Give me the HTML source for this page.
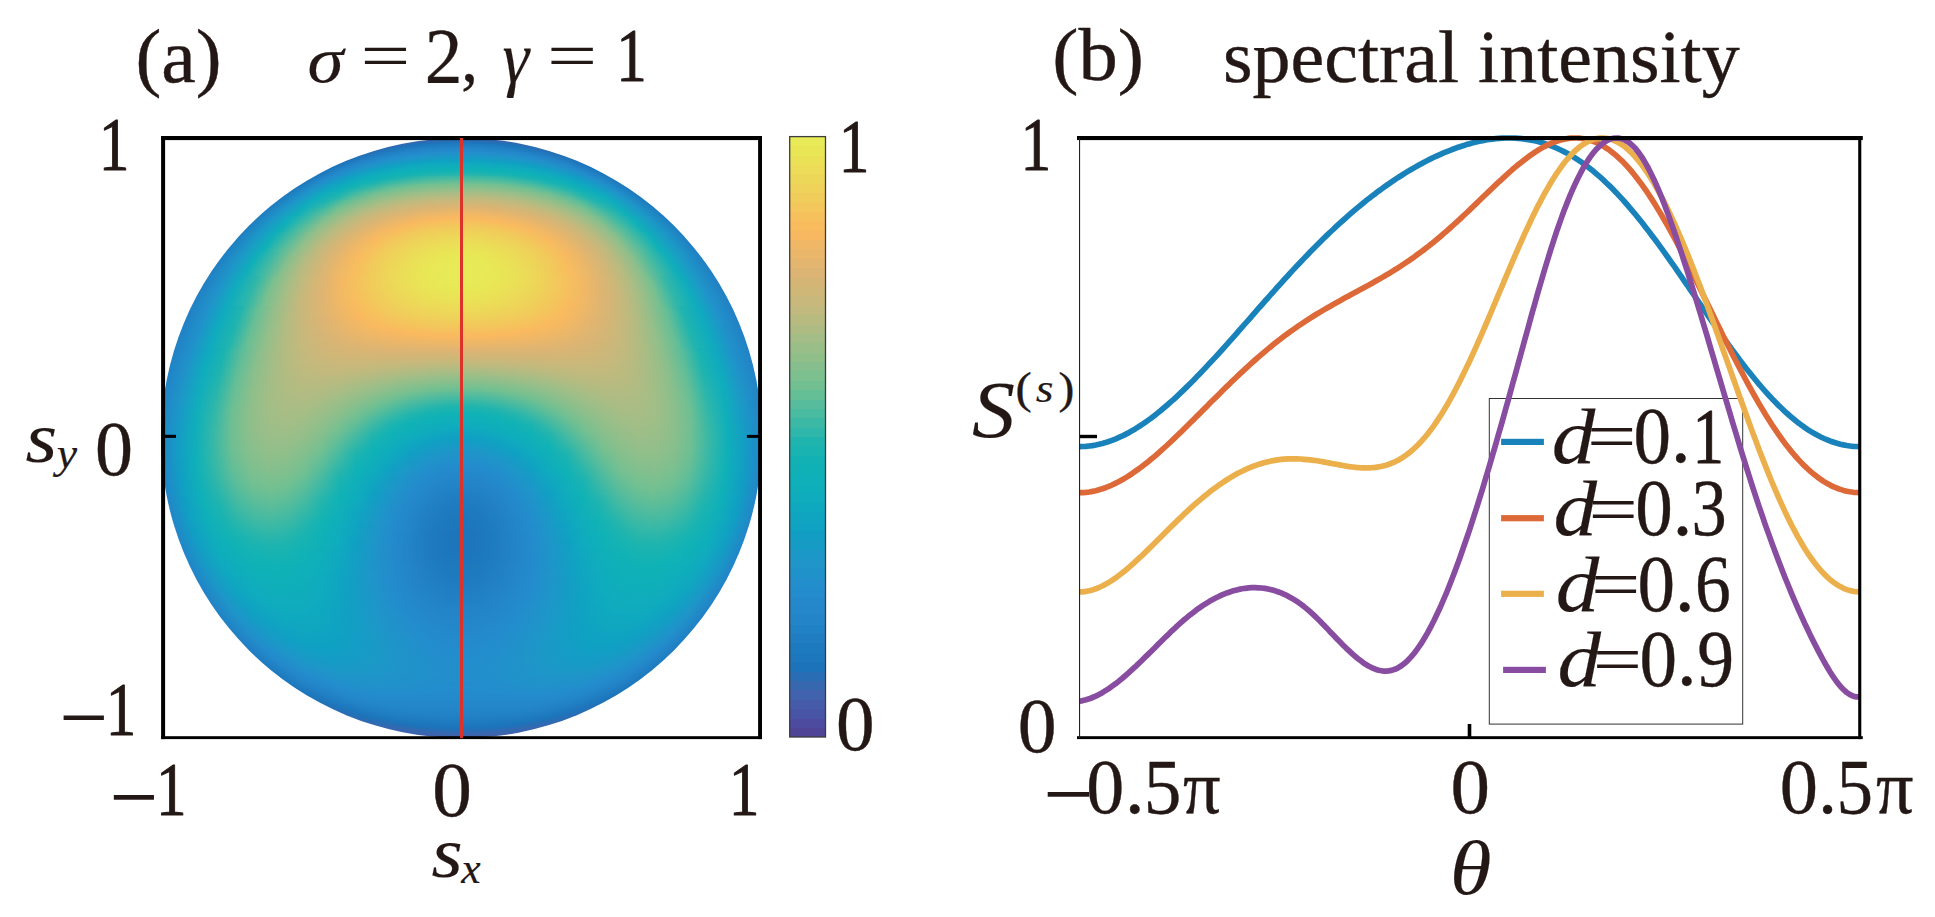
<!DOCTYPE html>
<html lang="en"><head><meta charset="utf-8"><title>Spectral intensity figure</title>
<style>
html,body{margin:0;padding:0;background:#fff}
body{width:1935px;height:917px;position:relative;overflow:hidden;font-family:"Liberation Serif","Times New Roman",serif}
#hm{position:absolute;overflow:hidden;border-radius:50%}
#hm i{display:block;width:100%}
svg{position:absolute;left:0;top:0}
text{font-family:"Liberation Serif","Times New Roman",serif;fill:#231815;stroke:#231815;stroke-width:.4px;stroke-linejoin:round}
.it{font-style:italic;stroke-width:.15px}
.ns{stroke:none}
.b1{stroke-width:1px}
</style></head><body>
<div id="hm" style="left:161.3px;top:137.6px;width:600.4px;height:600.4px"><i style="height:2px;background:linear-gradient(90deg,#3867af 45.9%,#3966ae 50.0%,#3867af 54.1%)"></i><i style="height:2px;background:linear-gradient(90deg,#3667af 42.9%,#2d6bb3 46.5%,#246fb6 50.0%,#2d6bb3 53.5%,#3667af 57.1%)"></i><i style="height:2px;background:linear-gradient(90deg,#3368b0 40.9%,#236fb6 43.9%,#1d76bb 47.0%,#1d77bc 50.0%,#1d76bb 53.0%,#236fb6 56.1%,#3368b0 59.1%)"></i><i style="height:2px;background:linear-gradient(90deg,#3169b1 39.3%,#1d72b9 41.9%,#1e79bd 44.6%,#1f7cc0 47.3%,#207dc1 50.0%,#1f7cc0 52.7%,#1e79bd 55.4%,#1d72b9 58.1%,#3169b1 60.7%)"></i><i style="height:2px;background:linear-gradient(90deg,#2e6ab2 37.8%,#1d76bb 40.9%,#207ec2 43.9%,#2281c5 47.0%,#2283c7 50.0%,#2281c5 53.0%,#207ec2 56.1%,#1d76bb 59.1%,#2e6ab2 62.2%)"></i><i style="height:2px;background:linear-gradient(90deg,#2c6bb3 36.6%,#1e7abe 39.9%,#2282c6 43.3%,#2386c9 46.6%,#2387ca 50.0%,#2386c9 53.4%,#2282c6 56.7%,#1e7abe 60.1%,#2c6bb3 63.4%)"></i><i style="height:2px;background:linear-gradient(90deg,#296cb4 35.4%,#1e7abe 38.4%,#2383c7 41.3%,#2388ca 44.2%,#238acc 47.1%,#238bcc 50.0%,#238acc 52.9%,#2388ca 55.8%,#2383c7 58.7%,#1e7abe 61.6%,#296cb4 64.6%)"></i><i style="height:2px;background:linear-gradient(90deg,#276db5 34.4%,#1f7dc1 37.5%,#2387ca 40.6%,#238bcd 43.8%,#228fcc 46.9%,#2190cb 50.0%,#228fcc 53.1%,#238bcd 56.2%,#2387ca 59.4%,#1f7dc1 62.5%,#276db5 65.6%)"></i><i style="height:2px;background:linear-gradient(90deg,#256eb6 33.4%,#207dc1 36.2%,#2387ca 38.9%,#238dcd 41.7%,#2091ca 44.5%,#1f94c9 47.2%,#1f94c9 50.0%,#1f94c9 52.8%,#2091ca 55.5%,#238dcd 58.3%,#2387ca 61.1%,#207dc1 63.8%,#256eb6 66.6%)"></i><i style="height:2px;background:linear-gradient(90deg,#236fb6 32.5%,#2180c4 35.4%,#238acc 38.3%,#2191cb 41.2%,#1e96c8 44.2%,#1b98c7 47.1%,#1999c6 50.0%,#1b98c7 52.9%,#1e96c8 55.8%,#2191cb 58.8%,#238acc 61.7%,#2180c4 64.6%,#236fb6 67.5%)"></i><i style="height:2px;background:linear-gradient(90deg,#2171b7 31.6%,#2282c6 34.7%,#238dcd 37.8%,#1f95c9 40.8%,#189ac6 43.9%,#149dc5 46.9%,#139ec4 50.0%,#149dc5 53.1%,#189ac6 56.1%,#1f95c9 59.2%,#238dcd 62.2%,#2282c6 65.3%,#2171b7 68.4%)"></i><i style="height:2px;background:linear-gradient(90deg,#1f72b8 30.8%,#2384c8 34.0%,#2190cb 37.2%,#1a99c7 40.4%,#119ec4 43.6%,#0fa2c2 46.8%,#0fa3c2 50.0%,#0fa2c2 53.2%,#119ec4 56.4%,#1a99c7 59.6%,#2190cb 62.8%,#2384c8 66.0%,#1f72b8 69.2%)"></i><i style="height:2px;background:linear-gradient(90deg,#1d73b9 30.0%,#2384c8 32.9%,#2190cb 35.7%,#1999c6 38.6%,#0fa0c3 41.4%,#0fa5c1 44.3%,#0fa7c0 47.1%,#0fa8c0 50.0%,#0fa7c0 52.9%,#0fa5c1 55.7%,#0fa0c3 58.6%,#1999c6 61.4%,#2190cb 64.3%,#2384c8 67.1%,#1d73b9 70.0%)"></i><i style="height:2px;background:linear-gradient(90deg,#1c73b9 29.3%,#2386c9 32.2%,#2093ca 35.2%,#139dc4 38.2%,#0fa5c1 41.1%,#0faabf 44.1%,#0facbe 47.0%,#0fadbd 50.0%,#0facbe 53.0%,#0faabf 55.9%,#0fa5c1 58.9%,#139dc4 61.8%,#2093ca 64.8%,#2386c9 67.8%,#1c73b9 70.7%)"></i><i style="height:2px;background:linear-gradient(90deg,#1c74ba 28.6%,#2387ca 31.6%,#1e96c8 34.7%,#0fa1c3 37.7%,#0fa9bf 40.8%,#0fadbc 43.9%,#0faebb 46.9%,#0fafba 50.0%,#0faebb 53.1%,#0fadbc 56.1%,#0fa9bf 59.2%,#0fa1c3 62.3%,#1e96c8 65.3%,#2387ca 68.4%,#1c74ba 71.4%)"></i><i style="height:2px;background:linear-gradient(90deg,#1c74ba 27.9%,#2387ca 30.6%,#1e95c8 33.4%,#0fa1c3 36.2%,#0faabf 38.9%,#0faebb 41.7%,#0fb0b9 44.5%,#0fb1b8 47.2%,#0fb1b7 50.0%,#0fb1b8 52.8%,#0fb0b9 55.5%,#0faebb 58.3%,#0faabf 61.1%,#0fa1c3 63.8%,#1e95c8 66.6%,#2387ca 69.4%,#1c74ba 72.1%)"></i><i style="height:2px;background:linear-gradient(90deg,#1d75ba 27.2%,#2388cb 30.1%,#1b98c7 32.9%,#0fa5c1 35.8%,#0fadbd 38.6%,#0fb0b9 41.5%,#0fb2b6 44.3%,#12b2b4 47.2%,#14b3b4 50.0%,#12b2b4 52.8%,#0fb2b6 55.7%,#0fb0b9 58.5%,#0fadbd 61.4%,#0fa5c1 64.2%,#1b98c7 67.1%,#2388cb 69.9%,#1d75ba 72.8%)"></i><i style="height:2px;background:linear-gradient(90deg,#1d75bb 26.6%,#238acc 29.5%,#179bc6 32.4%,#0fa8c0 35.4%,#0fafba 38.3%,#0fb2b6 41.2%,#16b3b3 44.1%,#1bb4b1 47.1%,#1cb4b0 50.0%,#1bb4b1 52.9%,#16b3b3 55.9%,#0fb2b6 58.8%,#0fafba 61.7%,#0fa8c0 64.6%,#179bc6 67.6%,#238acc 70.5%,#1d75bb 73.4%)"></i><i style="height:2px;background:linear-gradient(90deg,#1d76bb 26.0%,#238bcc 29.0%,#139dc4 32.0%,#0facbe 35.0%,#0fb1b8 38.0%,#16b3b3 41.0%,#1fb4af 44.0%,#28b6ac 47.0%,#2bb6ab 50.0%,#28b6ac 53.0%,#1fb4af 56.0%,#16b3b3 59.0%,#0fb1b8 62.0%,#0facbe 65.0%,#139dc4 68.0%,#238bcc 71.0%,#1d76bb 74.0%)"></i><i style="height:2px;background:linear-gradient(90deg,#1d76bb 25.4%,#238dcd 28.4%,#0fa0c3 31.5%,#0faebc 34.6%,#11b2b5 37.7%,#1eb4af 40.8%,#30b7a9 43.8%,#3ab9a6 46.9%,#3db9a5 50.0%,#3ab9a6 53.1%,#30b7a9 56.2%,#1eb4af 59.2%,#11b2b5 62.3%,#0faebc 65.4%,#0fa0c3 68.5%,#238dcd 71.6%,#1d76bb 74.6%)"></i><i style="height:2px;background:linear-gradient(90deg,#1d77bc 24.8%,#238ccd 27.6%,#119ec4 30.4%,#0fadbd 33.2%,#10b2b6 36.0%,#1fb4af 38.8%,#35b8a7 41.6%,#43baa2 44.4%,#4bbb9f 47.2%,#4ebb9e 50.0%,#4bbb9f 52.8%,#43baa2 55.6%,#35b8a7 58.4%,#1fb4af 61.2%,#10b2b6 64.0%,#0fadbd 66.8%,#119ec4 69.6%,#238ccd 72.4%,#1d77bc 75.2%)"></i><i style="height:2px;background:linear-gradient(90deg,#1d77bc 24.2%,#238dcd 27.1%,#0fa1c3 29.9%,#0faebb 32.8%,#16b3b3 35.7%,#2eb7aa 38.5%,#44baa2 41.4%,#53bc9d 44.3%,#5cbd99 47.1%,#5fbd98 50.0%,#5cbd99 52.9%,#53bc9d 55.7%,#44baa2 58.6%,#2eb7aa 61.5%,#16b3b3 64.3%,#0faebb 67.2%,#0fa1c3 70.1%,#238dcd 72.9%,#1d77bc 75.8%)"></i><i style="height:2px;background:linear-gradient(90deg,#1d77bc 23.7%,#228ecc 26.6%,#0fa3c2 29.5%,#0fb0b9 32.4%,#1cb4b0 35.4%,#3cb9a5 38.3%,#54bc9c 41.2%,#63be97 44.1%,#6cbf94 47.1%,#6fbf92 50.0%,#6cbf94 52.9%,#63be97 55.9%,#54bc9c 58.8%,#3cb9a5 61.7%,#1cb4b0 64.6%,#0fb0b9 67.6%,#0fa3c2 70.5%,#228ecc 73.4%,#1d77bc 76.3%)"></i><i style="height:2px;background:linear-gradient(90deg,#1d78bc 23.1%,#2190cb 26.1%,#0fa6c1 29.1%,#0fb1b7 32.1%,#27b6ac 35.1%,#4abba0 38.1%,#62be97 41.0%,#73c091 44.0%,#7ac090 47.0%,#7cc08f 50.0%,#7ac090 53.0%,#73c091 56.0%,#62be97 59.0%,#4abba0 61.9%,#27b6ac 64.9%,#0fb1b7 67.9%,#0fa6c1 70.9%,#2190cb 73.9%,#1d78bc 76.9%)"></i><i style="height:2px;background:linear-gradient(90deg,#1d78bd 22.6%,#2091ca 25.7%,#0fa8c0 28.7%,#11b2b5 31.7%,#34b8a8 34.8%,#58bd9b 37.8%,#71c092 40.9%,#7ec08f 43.9%,#85bf8d 47.0%,#87bf8c 50.0%,#85bf8d 53.0%,#7ec08f 56.1%,#71c092 59.1%,#58bd9b 62.2%,#34b8a8 65.2%,#11b2b5 68.3%,#0fa8c0 71.3%,#2091ca 74.3%,#1d78bd 77.4%)"></i><i style="height:2px;background:linear-gradient(90deg,#1e79bd 22.1%,#2190cb 24.9%,#0fa6c1 27.7%,#0fb2b7 30.5%,#2eb7aa 33.3%,#54bc9c 36.1%,#71c092 38.8%,#80bf8e 41.6%,#8bbf8c 44.4%,#91bf8a 47.2%,#93bf8a 50.0%,#91bf8a 52.8%,#8bbf8c 55.6%,#80bf8e 58.4%,#71c092 61.2%,#54bc9c 63.9%,#2eb7aa 66.7%,#0fb2b7 69.5%,#0fa6c1 72.3%,#2190cb 75.1%,#1e79bd 77.9%)"></i><i style="height:2px;background:linear-gradient(90deg,#1e79bd 21.6%,#2191cb 24.5%,#0fa8c0 27.3%,#12b2b5 30.1%,#39b9a6 33.0%,#61be98 35.8%,#7bc08f 38.7%,#8bbf8c 41.5%,#95be89 44.3%,#9bbe88 47.2%,#9ebe88 50.0%,#9bbe88 52.8%,#95be89 55.7%,#8bbf8c 58.5%,#7bc08f 61.3%,#61be98 64.2%,#39b9a6 67.0%,#12b2b5 69.9%,#0fa8c0 72.7%,#2191cb 75.5%,#1e79bd 78.4%)"></i><i style="height:2px;background:linear-gradient(90deg,#1e79bd 21.2%,#2092ca 24.0%,#0faabf 26.9%,#16b3b3 29.8%,#44baa2 32.7%,#6dbf93 35.6%,#85bf8d 38.5%,#95bf8a 41.3%,#a0be87 44.2%,#a6bd85 47.1%,#a8bd85 50.0%,#a6bd85 52.9%,#a0be87 55.8%,#95bf8a 58.7%,#85bf8d 61.5%,#6dbf93 64.4%,#44baa2 67.3%,#16b3b3 70.2%,#0faabf 73.1%,#2092ca 76.0%,#1e79bd 78.8%)"></i><i style="height:2px;background:linear-gradient(90deg,#1e7abe 20.7%,#2093ca 23.6%,#0facbe 26.5%,#1ab4b1 29.5%,#4fbb9e 32.4%,#77c090 35.3%,#8ebf8b 38.3%,#9ebe87 41.2%,#a9bd84 44.1%,#b0bc83 47.1%,#b2bb82 50.0%,#b0bc83 52.9%,#a9bd84 55.9%,#9ebe87 58.8%,#8ebf8b 61.7%,#77c090 64.7%,#4fbb9e 67.6%,#1ab4b1 70.5%,#0facbe 73.5%,#2093ca 76.4%,#1e7abe 79.3%)"></i><i style="height:2px;background:linear-gradient(90deg,#1e7abe 20.2%,#1f94c9 23.2%,#0fadbd 26.2%,#1fb4af 29.2%,#59bd9b 32.1%,#7fbf8e 35.1%,#97be89 38.1%,#a7bd85 41.1%,#b3bb82 44.0%,#b9ba80 47.0%,#bbba7f 50.0%,#b9ba80 53.0%,#b3bb82 56.0%,#a7bd85 58.9%,#97be89 61.9%,#7fbf8e 64.9%,#59bd9b 67.9%,#1fb4af 70.8%,#0fadbd 73.8%,#1f94c9 76.8%,#1e7abe 79.8%)"></i><i style="height:2px;background:linear-gradient(90deg,#1e7abe 19.8%,#1f95c9 22.8%,#0faebc 25.8%,#28b6ac 28.9%,#63be97 31.9%,#87bf8c 34.9%,#9fbe87 37.9%,#b0bc82 40.9%,#bcba7f 44.0%,#c2b97d 47.0%,#c4b97d 50.0%,#c2b97d 53.0%,#bcba7f 56.0%,#b0bc82 59.1%,#9fbe87 62.1%,#87bf8c 65.1%,#63be97 68.1%,#28b6ac 71.1%,#0faebc 74.2%,#1f95c9 77.2%,#1e7abe 80.2%)"></i><i style="height:2px;background:linear-gradient(90deg,#1e7abe 19.4%,#1f93c9 22.1%,#0facbe 24.9%,#1db4af 27.7%,#58bd9b 30.5%,#81bf8e 33.3%,#9bbe88 36.1%,#aebc83 38.9%,#bcba7f 41.6%,#c5b97c 44.4%,#c9b87b 47.2%,#cab87a 50.0%,#c9b87b 52.8%,#c5b97c 55.6%,#bcba7f 58.4%,#aebc83 61.1%,#9bbe88 63.9%,#81bf8e 66.7%,#58bd9b 69.5%,#1db4af 72.3%,#0facbe 75.1%,#1f93c9 77.9%,#1e7abe 80.6%)"></i><i style="height:2px;background:linear-gradient(90deg,#1e7bbf 18.9%,#1f94c9 21.8%,#0fadbd 24.6%,#23b5ad 27.4%,#61be98 30.2%,#88bf8c 33.1%,#a3be86 35.9%,#b6bb81 38.7%,#c4b97d 41.5%,#cbb77a 44.4%,#cfb778 47.2%,#d1b678 50.0%,#cfb778 52.8%,#cbb77a 55.6%,#c4b97d 58.5%,#b6bb81 61.3%,#a3be86 64.1%,#88bf8c 66.9%,#61be98 69.8%,#23b5ad 72.6%,#0fadbd 75.4%,#1f94c9 78.2%,#1e7bbf 81.1%)"></i><i style="height:2px;background:linear-gradient(90deg,#1f7bbf 18.5%,#1f95c9 21.4%,#0faebc 24.2%,#2bb6ab 27.1%,#69bf95 30.0%,#8fbf8b 32.8%,#aabd84 35.7%,#bdba7f 38.6%,#cab87a 41.4%,#d1b677 44.3%,#d5b576 47.1%,#d7b575 50.0%,#d5b576 52.9%,#d1b677 55.7%,#cab87a 58.6%,#bdba7f 61.4%,#aabd84 64.3%,#8fbf8b 67.2%,#69bf95 70.0%,#2bb6ab 72.9%,#0faebc 75.8%,#1f95c9 78.6%,#1f7bbf 81.5%)"></i><i style="height:2px;background:linear-gradient(90deg,#1f7bbf 18.1%,#1e96c8 21.0%,#0faebb 23.9%,#31b7a9 26.8%,#71c092 29.7%,#95be89 32.6%,#b0bc82 35.5%,#c4b97d 38.4%,#cfb778 41.3%,#d7b575 44.2%,#dbb473 47.1%,#ddb473 50.0%,#dbb473 52.9%,#d7b575 55.8%,#cfb778 58.7%,#c4b97d 61.6%,#b0bc82 64.5%,#95be89 67.4%,#71c092 70.3%,#31b7a9 73.2%,#0faebb 76.1%,#1e96c8 79.0%,#1f7bbf 81.9%)"></i><i style="height:2px;background:linear-gradient(90deg,#1f7bbf 17.7%,#1e96c8 20.6%,#0fafba 23.6%,#38b8a6 26.5%,#77c090 29.5%,#9cbe88 32.4%,#b7bb80 35.3%,#c9b87b 38.3%,#d4b676 41.2%,#dcb473 44.1%,#e1b570 47.1%,#e2b56f 50.0%,#e1b570 52.9%,#dcb473 55.9%,#d4b676 58.8%,#c9b87b 61.7%,#b7bb80 64.7%,#9cbe88 67.6%,#77c090 70.5%,#38b8a6 73.5%,#0fafba 76.4%,#1e96c8 79.4%,#1f7bbf 82.3%)"></i><i style="height:2px;background:linear-gradient(90deg,#1f7cc0 17.3%,#1d97c8 20.3%,#0fafb9 23.3%,#3eb9a4 26.2%,#7cc08f 29.2%,#a2be87 32.2%,#bdba7f 35.1%,#ceb779 38.1%,#d9b574 41.1%,#e1b56f 44.1%,#e6b66c 47.0%,#e8b66b 50.0%,#e6b66c 53.0%,#e1b56f 55.9%,#d9b574 58.9%,#ceb779 61.9%,#bdba7f 64.9%,#a2be87 67.8%,#7cc08f 70.8%,#3eb9a4 73.8%,#0fafb9 76.7%,#1d97c8 79.7%,#1f7cc0 82.7%)"></i><i style="height:2px;background:linear-gradient(90deg,#1f7cc0 16.9%,#1c98c7 19.9%,#0fb0b9 22.9%,#44baa2 26.0%,#81bf8e 29.0%,#a7bd85 32.0%,#c3b97d 35.0%,#d2b677 38.0%,#deb472 41.0%,#e7b66c 44.0%,#ecb768 47.0%,#eeb767 50.0%,#ecb768 53.0%,#e7b66c 56.0%,#deb472 59.0%,#d2b677 62.0%,#c3b97d 65.0%,#a7bd85 68.0%,#81bf8e 71.0%,#44baa2 74.0%,#0fb0b9 77.1%,#1c98c7 80.1%,#1f7cc0 83.1%)"></i><i style="height:2px;background:linear-gradient(90deg,#1f7cc0 16.6%,#1b98c7 19.6%,#0fb0b8 22.6%,#49bba0 25.7%,#86bf8d 28.7%,#acbc84 31.8%,#c7b87b 34.8%,#d7b575 37.8%,#e3b56e 40.9%,#ecb769 43.9%,#f1b865 47.0%,#f3b864 50.0%,#f1b865 53.0%,#ecb769 56.1%,#e3b56e 59.1%,#d7b575 62.2%,#c7b87b 65.2%,#acbc84 68.2%,#86bf8d 71.3%,#49bba0 74.3%,#0fb0b8 77.4%,#1b98c7 80.4%,#1f7cc0 83.4%)"></i><i style="height:2px;background:linear-gradient(90deg,#1f7cc0 16.2%,#1e96c8 19.0%,#0fafba 21.8%,#3ab9a6 24.6%,#7bc08f 27.5%,#a3be86 30.3%,#c0b97e 33.1%,#d2b677 35.9%,#dfb571 38.7%,#eab66a 41.5%,#f2b865 44.4%,#f6b861 47.2%,#f8b960 50.0%,#f6b861 52.8%,#f2b865 55.6%,#eab66a 58.5%,#dfb571 61.3%,#d2b677 64.1%,#c0b97e 66.9%,#a3be86 69.7%,#7bc08f 72.5%,#3ab9a6 75.4%,#0fafba 78.2%,#1e96c8 81.0%,#1f7cc0 83.8%)"></i><i style="height:2px;background:linear-gradient(90deg,#1f7dc1 15.8%,#1d97c8 18.7%,#0fafba 21.5%,#3fb9a4 24.4%,#7fbf8e 27.2%,#a7bd85 30.1%,#c4b97c 32.9%,#d6b576 35.8%,#e4b56e 38.6%,#efb767 41.5%,#f6b861 44.3%,#faba5f 47.2%,#f9bb5e 50.0%,#faba5f 52.8%,#f6b861 55.7%,#efb767 58.5%,#e4b56e 61.4%,#d6b576 64.2%,#c4b97c 67.1%,#a7bd85 69.9%,#7fbf8e 72.8%,#3fb9a4 75.6%,#0fafba 78.5%,#1d97c8 81.3%,#1f7dc1 84.2%)"></i><i style="height:2px;background:linear-gradient(90deg,#1f7dc1 15.5%,#1c97c7 18.4%,#0fb0b9 21.2%,#43baa2 24.1%,#83bf8d 27.0%,#abbc84 29.9%,#c8b87b 32.7%,#d9b574 35.6%,#e8b66b 38.5%,#f3b864 41.4%,#faba5f 44.2%,#f8be5e 47.1%,#f7bf5d 50.0%,#f8be5e 52.9%,#faba5f 55.8%,#f3b864 58.6%,#e8b66b 61.5%,#d9b574 64.4%,#c8b87b 67.3%,#abbc84 70.1%,#83bf8d 73.0%,#43baa2 75.9%,#0fb0b9 78.8%,#1c97c7 81.6%,#1f7dc1 84.5%)"></i><i style="height:2px;background:linear-gradient(90deg,#1f7dc1 15.1%,#1c97c7 18.0%,#0fb0b9 20.9%,#47baa1 23.9%,#87bf8d 26.8%,#afbc83 29.7%,#cbb77a 32.6%,#ddb473 35.5%,#ebb769 38.4%,#f7b861 41.3%,#f8bd5e 44.2%,#f6c15d 47.1%,#f5c35d 50.0%,#f6c15d 52.9%,#f8bd5e 55.8%,#f7b861 58.7%,#ebb769 61.6%,#ddb473 64.5%,#cbb77a 67.4%,#afbc83 70.3%,#87bf8d 73.2%,#47baa1 76.1%,#0fb0b9 79.1%,#1c97c7 82.0%,#1f7dc1 84.9%)"></i><i style="height:2px;background:linear-gradient(90deg,#1f7dc1 14.8%,#1b98c7 17.7%,#0fb0b8 20.7%,#4bbba0 23.6%,#8abf8c 26.5%,#b3bb82 29.5%,#ceb779 32.4%,#e0b570 35.3%,#efb766 38.3%,#faba5f 41.2%,#f6c15d 44.1%,#f4c55c 47.1%,#f3c65c 50.0%,#f4c55c 52.9%,#f6c15d 55.9%,#faba5f 58.8%,#efb766 61.7%,#e0b570 64.7%,#ceb779 67.6%,#b3bb82 70.5%,#8abf8c 73.5%,#4bbba0 76.4%,#0fb0b8 79.3%,#1b98c7 82.3%,#1f7dc1 85.2%)"></i><i style="height:2px;background:linear-gradient(90deg,#207dc1 14.5%,#1b98c7 17.4%,#0fb1b8 20.4%,#4ebb9e 23.4%,#8dbf8b 26.3%,#b6bb81 29.3%,#d0b678 32.2%,#e3b56e 35.2%,#f3b864 38.2%,#f8bd5e 41.1%,#f5c45c 44.1%,#f2c85b 47.0%,#f2ca5b 50.0%,#f2c85b 53.0%,#f5c45c 55.9%,#f8bd5e 58.9%,#f3b864 61.8%,#e3b56e 64.8%,#d0b678 67.8%,#b6bb81 70.7%,#8dbf8b 73.7%,#4ebb9e 76.6%,#0fb1b8 79.6%,#1b98c7 82.6%,#207dc1 85.5%)"></i><i style="height:2px;background:linear-gradient(90deg,#207dc1 14.1%,#1a98c7 17.1%,#0fb1b7 20.1%,#52bc9d 23.1%,#90bf8b 26.1%,#b9ba80 29.1%,#d3b677 32.1%,#e6b66c 35.1%,#f6b862 38.0%,#f7c05d 41.0%,#f3c75c 44.0%,#f1cb5a 47.0%,#f0cd5a 50.0%,#f1cb5a 53.0%,#f3c75c 56.0%,#f7c05d 59.0%,#f6b862 62.0%,#e6b66c 64.9%,#d3b677 67.9%,#b9ba80 70.9%,#90bf8b 73.9%,#52bc9d 76.9%,#0fb1b7 79.9%,#1a98c7 82.9%,#207dc1 85.9%)"></i><i style="height:2px;background:linear-gradient(90deg,#207dc1 13.8%,#1a99c7 16.8%,#0fb1b7 19.8%,#55bc9c 22.9%,#93bf8a 25.9%,#bcba7f 28.9%,#d6b576 31.9%,#e9b66a 34.9%,#f9b960 37.9%,#f5c25d 41.0%,#f2ca5b 44.0%,#f0ce5a 47.0%,#efd05a 50.0%,#f0ce5a 53.0%,#f2ca5b 56.0%,#f5c25d 59.0%,#f9b960 62.1%,#e9b66a 65.1%,#d6b576 68.1%,#bcba7f 71.1%,#93bf8a 74.1%,#55bc9c 77.1%,#0fb1b7 80.2%,#1a99c7 83.2%,#207dc1 86.2%)"></i><i style="height:2px;background:linear-gradient(90deg,#207ec2 13.5%,#1d97c8 16.3%,#0fafb9 19.1%,#44baa2 21.9%,#86bf8d 24.7%,#b0bc82 27.5%,#cdb779 30.3%,#e1b56f 33.2%,#f2b864 36.0%,#f7be5e 38.8%,#f3c75c 41.6%,#f0cd5a 44.4%,#efd159 47.2%,#eed259 50.0%,#efd159 52.8%,#f0cd5a 55.6%,#f3c75c 58.4%,#f7be5e 61.2%,#f2b864 64.0%,#e1b56f 66.8%,#cdb779 69.7%,#b0bc82 72.5%,#86bf8d 75.3%,#44baa2 78.1%,#0fafb9 80.9%,#1d97c8 83.7%,#207ec2 86.5%)"></i><i style="height:2px;background:linear-gradient(90deg,#207ec2 13.2%,#1d97c8 16.0%,#0fb0b9 18.9%,#46baa1 21.7%,#88bf8c 24.5%,#b3bb82 27.4%,#cfb778 30.2%,#e4b56e 33.0%,#f5b862 35.8%,#f6c05d 38.7%,#f2c95b 41.5%,#efd059 44.3%,#eed459 47.2%,#eed559 50.0%,#eed459 52.8%,#efd059 55.7%,#f2c95b 58.5%,#f6c05d 61.3%,#f5b862 64.2%,#e4b56e 67.0%,#cfb778 69.8%,#b3bb82 72.6%,#88bf8c 75.5%,#46baa1 78.3%,#0fb0b9 81.1%,#1d97c8 84.0%,#207ec2 86.8%)"></i><i style="height:2px;background:linear-gradient(90deg,#207ec2 12.9%,#1d97c8 15.7%,#0fb0b9 18.6%,#49bba0 21.5%,#8abf8c 24.3%,#b5bb81 27.2%,#d1b677 30.0%,#e6b66c 32.9%,#f7b961 35.7%,#f5c25d 38.6%,#f1cc5a 41.4%,#eed259 44.3%,#edd658 47.1%,#edd758 50.0%,#edd658 52.9%,#eed259 55.7%,#f1cc5a 58.6%,#f5c25d 61.4%,#f7b961 64.3%,#e6b66c 67.1%,#d1b677 70.0%,#b5bb81 72.8%,#8abf8c 75.7%,#49bba0 78.5%,#0fb0b9 81.4%,#1d97c8 84.3%,#207ec2 87.1%)"></i><i style="height:2px;background:linear-gradient(90deg,#207ec2 12.6%,#1c97c7 15.5%,#0fb0b9 18.3%,#4bbba0 21.2%,#8cbf8b 24.1%,#b7bb80 27.0%,#d3b677 29.9%,#e8b66b 32.7%,#fab95f 35.6%,#f4c55c 38.5%,#f0ce5a 41.4%,#eed459 44.2%,#edd858 47.1%,#ecda58 50.0%,#edd858 52.9%,#eed459 55.8%,#f0ce5a 58.6%,#f4c55c 61.5%,#fab95f 64.4%,#e8b66b 67.3%,#d3b677 70.1%,#b7bb80 73.0%,#8cbf8b 75.9%,#4bbba0 78.8%,#0fb0b9 81.7%,#1c97c7 84.5%,#207ec2 87.4%)"></i><i style="height:2px;background:linear-gradient(90deg,#207ec2 12.3%,#1c97c7 15.2%,#0fb0b8 18.1%,#4cbb9f 21.0%,#8ebf8b 23.9%,#b9ba80 26.8%,#d5b576 29.7%,#eab66a 32.6%,#f9ba5f 35.5%,#f3c65c 38.4%,#efd059 41.3%,#edd658 44.2%,#ecda58 47.1%,#ecdc57 50.0%,#ecda58 52.9%,#edd658 55.8%,#efd059 58.7%,#f3c65c 61.6%,#f9ba5f 64.5%,#eab66a 67.4%,#d5b576 70.3%,#b9ba80 73.2%,#8ebf8b 76.1%,#4cbb9f 79.0%,#0fb0b8 81.9%,#1c97c7 84.8%,#207ec2 87.7%)"></i><i style="height:2px;background:linear-gradient(90deg,#207ec2 12.0%,#1c97c7 14.9%,#0fb0b8 17.9%,#4ebb9e 20.8%,#90bf8b 23.7%,#bbba7f 26.6%,#d6b575 29.5%,#ebb769 32.5%,#f9bc5e 35.4%,#f2c85b 38.3%,#efd259 41.2%,#edd858 44.2%,#ebdc57 47.1%,#ebde57 50.0%,#ebdc57 52.9%,#edd858 55.8%,#efd259 58.8%,#f2c85b 61.7%,#f9bc5e 64.6%,#ebb769 67.5%,#d6b575 70.5%,#bbba7f 73.4%,#90bf8b 76.3%,#4ebb9e 79.2%,#0fb0b8 82.1%,#1c97c7 85.1%,#207ec2 88.0%)"></i><i style="height:2px;background:linear-gradient(90deg,#207ec2 11.7%,#1c98c7 14.7%,#0fb0b8 17.6%,#50bc9e 20.6%,#91bf8a 23.5%,#bdba7f 26.4%,#d7b575 29.4%,#edb768 32.3%,#f8bd5e 35.3%,#f2ca5b 38.2%,#eed359 41.2%,#ecda58 44.1%,#ebde57 47.1%,#eae057 50.0%,#ebde57 52.9%,#ecda58 55.9%,#eed359 58.8%,#f2ca5b 61.8%,#f8bd5e 64.7%,#edb768 67.7%,#d7b575 70.6%,#bdba7f 73.6%,#91bf8a 76.5%,#50bc9e 79.4%,#0fb0b8 82.4%,#1c98c7 85.3%,#207ec2 88.3%)"></i><i style="height:2px;background:linear-gradient(90deg,#207ec2 11.5%,#1c98c7 14.4%,#0fb1b8 17.4%,#51bc9d 20.3%,#92bf8a 23.3%,#beba7e 26.3%,#d9b574 29.2%,#eeb767 32.2%,#f7bf5e 35.2%,#f1cb5a 38.1%,#eed559 41.1%,#ecdc57 44.1%,#eae056 47.0%,#eae156 50.0%,#eae056 53.0%,#ecdc57 55.9%,#eed559 58.9%,#f1cb5a 61.9%,#f7bf5e 64.8%,#eeb767 67.8%,#d9b574 70.8%,#beba7e 73.7%,#92bf8a 76.7%,#51bc9d 79.7%,#0fb1b8 82.6%,#1c98c7 85.6%,#207ec2 88.5%)"></i><i style="height:2px;background:linear-gradient(90deg,#207ec2 11.2%,#1c98c7 14.2%,#0fb1b8 17.2%,#52bc9d 20.1%,#93bf8a 23.1%,#bfba7e 26.1%,#dab474 29.1%,#f0b766 32.1%,#f7c05d 35.1%,#f0cd5a 38.1%,#edd658 41.0%,#ebdd57 44.0%,#eae256 47.0%,#e9e356 50.0%,#eae256 53.0%,#ebdd57 56.0%,#edd658 59.0%,#f0cd5a 61.9%,#f7c05d 64.9%,#f0b766 67.9%,#dab474 70.9%,#bfba7e 73.9%,#93bf8a 76.9%,#52bc9d 79.9%,#0fb1b8 82.8%,#1c98c7 85.8%,#207ec2 88.8%)"></i><i style="height:2px;background:linear-gradient(90deg,#207ec2 10.9%,#1b98c7 13.9%,#0fb1b8 16.9%,#53bc9d 19.9%,#94bf8a 22.9%,#c1b97e 25.9%,#dbb474 29.0%,#f1b765 32.0%,#f6c15d 35.0%,#f0ce5a 38.0%,#edd758 41.0%,#ebdf57 44.0%,#e9e356 47.0%,#e9e456 50.0%,#e9e356 53.0%,#ebdf57 56.0%,#edd758 59.0%,#f0ce5a 62.0%,#f6c15d 65.0%,#f1b765 68.0%,#dbb474 71.0%,#c1b97e 74.1%,#94bf8a 77.1%,#53bc9d 80.1%,#0fb1b8 83.1%,#1b98c7 86.1%,#207ec2 89.1%)"></i><i style="height:2px;background:linear-gradient(90deg,#207fc3 10.6%,#1e96c8 13.5%,#0fafba 16.3%,#41baa3 19.1%,#86bf8d 21.9%,#b3bb82 24.7%,#d1b677 27.5%,#e7b66c 30.3%,#fab95f 33.1%,#f3c75c 35.9%,#efd259 38.8%,#ecda58 41.6%,#eae156 44.4%,#e9e556 47.2%,#e9e655 50.0%,#e9e556 52.8%,#eae156 55.6%,#ecda58 58.4%,#efd259 61.2%,#f3c75c 64.1%,#fab95f 66.9%,#e7b66c 69.7%,#d1b677 72.5%,#b3bb82 75.3%,#86bf8d 78.1%,#41baa3 80.9%,#0fafba 83.7%,#1e96c8 86.5%,#207fc3 89.4%)"></i><i style="height:2px;background:linear-gradient(90deg,#207fc3 10.4%,#1e96c8 13.2%,#0fafba 16.0%,#42baa3 18.9%,#87bf8d 21.7%,#b4bb81 24.5%,#d2b677 27.4%,#e8b66b 30.2%,#f9ba5f 33.0%,#f3c85b 35.9%,#eed359 38.7%,#ecdb57 41.5%,#eae256 44.3%,#e9e655 47.2%,#e8e755 50.0%,#e9e655 52.8%,#eae256 55.7%,#ecdb57 58.5%,#eed359 61.3%,#f3c85b 64.1%,#f9ba5f 67.0%,#e8b66b 69.8%,#d2b677 72.6%,#b4bb81 75.5%,#87bf8d 78.3%,#42baa3 81.1%,#0fafba 84.0%,#1e96c8 86.8%,#207fc3 89.6%)"></i><i style="height:2px;background:linear-gradient(90deg,#207fc3 10.1%,#1e96c8 13.0%,#0fafba 15.8%,#43baa3 18.7%,#88bf8c 21.5%,#b5bb81 24.4%,#d2b677 27.2%,#e9b66a 30.1%,#f9bb5f 32.9%,#f2c95b 35.8%,#eed459 38.6%,#ebdc57 41.5%,#eae356 44.3%,#e8e755 47.2%,#e8e855 50.0%,#e8e755 52.8%,#eae356 55.7%,#ebdc57 58.5%,#eed459 61.4%,#f2c95b 64.2%,#f9bb5f 67.1%,#e9b66a 69.9%,#d2b677 72.8%,#b5bb81 75.6%,#88bf8c 78.5%,#43baa3 81.3%,#0fafba 84.2%,#1e96c8 87.0%,#207fc3 89.9%)"></i><i style="height:2px;background:linear-gradient(90deg,#207fc3 9.9%,#1e96c8 12.8%,#0fafba 15.6%,#43baa2 18.5%,#88bf8c 21.3%,#b5bb81 24.2%,#d3b677 27.1%,#e9b66a 29.9%,#f9bc5e 32.8%,#f2c95b 35.7%,#eed459 38.5%,#ebdd57 41.4%,#e9e456 44.3%,#e8e855 47.1%,#e8e956 50.0%,#e8e855 52.9%,#e9e456 55.7%,#ebdd57 58.6%,#eed459 61.5%,#f2c95b 64.3%,#f9bc5e 67.2%,#e9b66a 70.1%,#d3b677 72.9%,#b5bb81 75.8%,#88bf8c 78.7%,#43baa2 81.5%,#0fafba 84.4%,#1e96c8 87.2%,#207fc3 90.1%)"></i><i style="height:2px;background:linear-gradient(90deg,#207fc3 9.6%,#1e96c8 12.5%,#0fafba 15.4%,#44baa2 18.3%,#89bf8c 21.2%,#b6bb81 24.1%,#d3b676 26.9%,#eab66a 29.8%,#f8bc5e 32.7%,#f2ca5b 35.6%,#eed558 38.5%,#ebde57 41.4%,#e9e456 44.2%,#e8e855 47.1%,#e8e956 50.0%,#e8e855 52.9%,#e9e456 55.8%,#ebde57 58.6%,#eed558 61.5%,#f2ca5b 64.4%,#f8bc5e 67.3%,#eab66a 70.2%,#d3b676 73.1%,#b6bb81 75.9%,#89bf8c 78.8%,#44baa2 81.7%,#0fafba 84.6%,#1e96c8 87.5%,#207fc3 90.4%)"></i><i style="height:2px;background:linear-gradient(90deg,#207fc3 9.4%,#1e96c8 12.3%,#0fafba 15.2%,#44baa2 18.1%,#89bf8c 21.0%,#b6bb81 23.9%,#d4b676 26.8%,#eab669 29.7%,#f8bc5e 32.6%,#f1ca5b 35.5%,#edd658 38.4%,#ebdf57 41.3%,#e9e556 44.2%,#e8e956 47.1%,#e8e956 50.0%,#e8e956 52.9%,#e9e556 55.8%,#ebdf57 58.7%,#edd658 61.6%,#f1ca5b 64.5%,#f8bc5e 67.4%,#eab669 70.3%,#d4b676 73.2%,#b6bb81 76.1%,#89bf8c 79.0%,#44baa2 81.9%,#0fafba 84.8%,#1e96c8 87.7%,#207fc3 90.6%)"></i><i style="height:2px;background:linear-gradient(90deg,#207fc3 9.2%,#1e96c8 12.1%,#0fafba 15.0%,#44baa2 17.9%,#89bf8c 20.8%,#b7bb81 23.7%,#d4b676 26.7%,#ebb669 29.6%,#f8bd5e 32.5%,#f1cb5b 35.4%,#edd658 38.3%,#ebdf57 41.2%,#e9e655 44.2%,#e8e956 47.1%,#e8ea57 50.0%,#e8e956 52.9%,#e9e655 55.8%,#ebdf57 58.8%,#edd658 61.7%,#f1cb5b 64.6%,#f8bd5e 67.5%,#ebb669 70.4%,#d4b676 73.3%,#b7bb81 76.3%,#89bf8c 79.2%,#44baa2 82.1%,#0fafba 85.0%,#1e96c8 87.9%,#207fc3 90.8%)"></i><i style="height:2px;background:linear-gradient(90deg,#207fc3 8.9%,#1e95c8 11.9%,#0fafba 14.8%,#44baa2 17.7%,#8abf8c 20.7%,#b7bb80 23.6%,#d4b676 26.5%,#ebb769 29.5%,#f8bd5e 32.4%,#f1cb5a 35.3%,#edd658 38.3%,#ebdf57 41.2%,#e9e655 44.1%,#e8e956 47.1%,#e8ea57 50.0%,#e8e956 52.9%,#e9e655 55.9%,#ebdf57 58.8%,#edd658 61.7%,#f1cb5a 64.7%,#f8bd5e 67.6%,#ebb769 70.5%,#d4b676 73.5%,#b7bb80 76.4%,#8abf8c 79.3%,#44baa2 82.3%,#0fafba 85.2%,#1e95c8 88.1%,#207fc3 91.1%)"></i><i style="height:2px;background:linear-gradient(90deg,#217fc3 8.7%,#1e95c8 11.6%,#0fafba 14.6%,#44baa2 17.5%,#8abf8c 20.5%,#b7bb80 23.4%,#d4b676 26.4%,#ebb769 29.3%,#f8bd5e 32.3%,#f1cb5a 35.2%,#edd758 38.2%,#eae057 41.1%,#e8e655 44.1%,#e8e956 47.0%,#e8ea57 50.0%,#e8e956 53.0%,#e8e655 55.9%,#eae057 58.9%,#edd758 61.8%,#f1cb5a 64.8%,#f8bd5e 67.7%,#ebb769 70.7%,#d4b676 73.6%,#b7bb80 76.6%,#8abf8c 79.5%,#44baa2 82.5%,#0fafba 85.4%,#1e95c8 88.4%,#217fc3 91.3%)"></i><i style="height:2px;background:linear-gradient(90deg,#217fc3 8.5%,#1e95c8 11.4%,#0fafba 14.4%,#45baa2 17.4%,#8abf8c 20.3%,#b7bb80 23.3%,#d5b576 26.3%,#ebb769 29.2%,#f8bd5e 32.2%,#f1cb5a 35.2%,#edd758 38.1%,#eae057 41.1%,#e8e755 44.1%,#e8e956 47.0%,#e8ea57 50.0%,#e8e956 53.0%,#e8e755 55.9%,#eae057 58.9%,#edd758 61.9%,#f1cb5a 64.8%,#f8bd5e 67.8%,#ebb769 70.8%,#d5b576 73.7%,#b7bb80 76.7%,#8abf8c 79.7%,#45baa2 82.6%,#0fafba 85.6%,#1e95c8 88.6%,#217fc3 91.5%)"></i><i style="height:2px;background:linear-gradient(90deg,#217fc3 8.3%,#1e95c8 11.2%,#0fafba 14.2%,#44baa2 17.2%,#8abf8c 20.2%,#b7bb80 23.2%,#d5b576 26.1%,#ebb769 29.1%,#f8bd5e 32.1%,#f1cb5a 35.1%,#edd758 38.1%,#eae057 41.1%,#e8e755 44.0%,#e8e956 47.0%,#e8ea57 50.0%,#e8e956 53.0%,#e8e755 56.0%,#eae057 58.9%,#edd758 61.9%,#f1cb5a 64.9%,#f8bd5e 67.9%,#ebb769 70.9%,#d5b576 73.9%,#b7bb80 76.8%,#8abf8c 79.8%,#44baa2 82.8%,#0fafba 85.8%,#1e95c8 88.8%,#217fc3 91.7%)"></i><i style="height:2px;background:linear-gradient(90deg,#217fc3 8.0%,#1e95c8 11.0%,#0fafba 14.0%,#44baa2 17.0%,#8abf8c 20.0%,#b7bb80 23.0%,#d4b676 26.0%,#ebb769 29.0%,#f8bd5e 32.0%,#f1cb5a 35.0%,#edd758 38.0%,#eae057 41.0%,#e8e655 44.0%,#e8e956 47.0%,#e8ea57 50.0%,#e8e956 53.0%,#e8e655 56.0%,#eae057 59.0%,#edd758 62.0%,#f1cb5a 65.0%,#f8bd5e 68.0%,#ebb769 71.0%,#d4b676 74.0%,#b7bb80 77.0%,#8abf8c 80.0%,#44baa2 83.0%,#0fafba 86.0%,#1e95c8 89.0%,#217fc3 92.0%)"></i><i style="height:2px;background:linear-gradient(90deg,#217fc3 7.8%,#1f93c9 10.6%,#0fadbc 13.4%,#33b7a8 16.3%,#7cc08f 19.1%,#a9bd84 21.9%,#cab87a 24.7%,#e1b570 27.5%,#f5b863 30.3%,#f5c35c 33.1%,#efcf5a 35.9%,#ecd958 38.8%,#eae156 41.6%,#e8e755 44.4%,#e8e956 47.2%,#e8ea57 50.0%,#e8e956 52.8%,#e8e755 55.6%,#eae156 58.4%,#ecd958 61.2%,#efcf5a 64.1%,#f5c35c 66.9%,#f5b863 69.7%,#e1b570 72.5%,#cab87a 75.3%,#a9bd84 78.1%,#7cc08f 80.9%,#33b7a8 83.7%,#0fadbc 86.6%,#1f93c9 89.4%,#217fc3 92.2%)"></i><i style="height:2px;background:linear-gradient(90deg,#217fc3 7.6%,#1f93c9 10.4%,#0fadbc 13.3%,#32b7a8 16.1%,#7bc08f 18.9%,#a9bd84 21.7%,#cab87a 24.6%,#e1b570 27.4%,#f5b863 30.2%,#f5c35d 33.0%,#efcf5a 35.9%,#ecd958 38.7%,#eae156 41.5%,#e8e755 44.3%,#e8e956 47.2%,#e8ea57 50.0%,#e8e956 52.8%,#e8e755 55.7%,#eae156 58.5%,#ecd958 61.3%,#efcf5a 64.1%,#f5c35d 67.0%,#f5b863 69.8%,#e1b570 72.6%,#cab87a 75.4%,#a9bd84 78.3%,#7bc08f 81.1%,#32b7a8 83.9%,#0fadbc 86.7%,#1f93c9 89.6%,#217fc3 92.4%)"></i><i style="height:2px;background:linear-gradient(90deg,#217fc3 7.4%,#1f93c9 10.2%,#0fadbc 13.1%,#32b7a8 15.9%,#7bc08f 18.8%,#a9bd84 21.6%,#cab87a 24.4%,#e0b570 27.3%,#f4b863 30.1%,#f5c25d 33.0%,#efcf5a 35.8%,#edd958 38.6%,#eae156 41.5%,#e8e655 44.3%,#e8e956 47.2%,#e8ea57 50.0%,#e8e956 52.8%,#e8e655 55.7%,#eae156 58.5%,#edd958 61.4%,#efcf5a 64.2%,#f5c25d 67.0%,#f4b863 69.9%,#e0b570 72.7%,#cab87a 75.6%,#a9bd84 78.4%,#7bc08f 81.2%,#32b7a8 84.1%,#0fadbc 86.9%,#1f93c9 89.8%,#217fc3 92.6%)"></i><i style="height:2px;background:linear-gradient(90deg,#217fc3 7.2%,#1f93c9 10.1%,#0fadbc 12.9%,#32b7a8 15.8%,#7bc08f 18.6%,#a9bd85 21.5%,#cab87a 24.3%,#e0b570 27.2%,#f4b863 30.0%,#f5c25d 32.9%,#f0ce5a 35.7%,#edd858 38.6%,#eae056 41.4%,#e9e655 44.3%,#e8e956 47.1%,#e8e956 50.0%,#e8e956 52.9%,#e9e655 55.7%,#eae056 58.6%,#edd858 61.4%,#f0ce5a 64.3%,#f5c25d 67.1%,#f4b863 70.0%,#e0b570 72.8%,#cab87a 75.7%,#a9bd85 78.5%,#7bc08f 81.4%,#32b7a8 84.2%,#0fadbc 87.1%,#1f93c9 89.9%,#217fc3 92.8%)"></i><i style="height:2px;background:linear-gradient(90deg,#217fc3 7.0%,#2093ca 9.9%,#0fadbc 12.7%,#32b7a8 15.6%,#7bc08f 18.5%,#a8bd85 21.3%,#cab87a 24.2%,#e0b571 27.1%,#f3b863 29.9%,#f6c25d 32.8%,#f0ce5a 35.7%,#edd858 38.5%,#ebdf57 41.4%,#e9e556 44.3%,#e8e855 47.1%,#e8e956 50.0%,#e8e855 52.9%,#e9e556 55.7%,#ebdf57 58.6%,#edd858 61.5%,#f0ce5a 64.3%,#f6c25d 67.2%,#f3b863 70.1%,#e0b571 72.9%,#cab87a 75.8%,#a8bd85 78.7%,#7bc08f 81.5%,#32b7a8 84.4%,#0fadbc 87.3%,#2093ca 90.1%,#217fc3 93.0%)"></i><i style="height:2px;background:linear-gradient(90deg,#217fc3 6.8%,#2093ca 9.7%,#0fadbc 12.6%,#31b7a9 15.4%,#7bc08f 18.3%,#a8bd85 21.2%,#c9b87a 24.1%,#dfb571 27.0%,#f3b864 29.8%,#f6c15d 32.7%,#f0cd5a 35.6%,#edd758 38.5%,#ebdf57 41.4%,#e9e556 44.2%,#e8e855 47.1%,#e8e956 50.0%,#e8e855 52.9%,#e9e556 55.8%,#ebdf57 58.6%,#edd758 61.5%,#f0cd5a 64.4%,#f6c15d 67.3%,#f3b864 70.2%,#dfb571 73.0%,#c9b87a 75.9%,#a8bd85 78.8%,#7bc08f 81.7%,#31b7a9 84.6%,#0fadbc 87.4%,#2093ca 90.3%,#217fc3 93.2%)"></i><i style="height:2px;background:linear-gradient(90deg,#217fc3 6.6%,#2093ca 9.5%,#0fadbd 12.4%,#31b7a9 15.3%,#7ac08f 18.2%,#a8bd85 21.1%,#c9b87b 24.0%,#dfb471 26.9%,#f2b864 29.8%,#f6c15d 32.6%,#f0cd5a 35.5%,#edd658 38.4%,#ebde57 41.3%,#e9e456 44.2%,#e8e755 47.1%,#e8e855 50.0%,#e8e755 52.9%,#e9e456 55.8%,#ebde57 58.7%,#edd658 61.6%,#f0cd5a 64.5%,#f6c15d 67.4%,#f2b864 70.2%,#dfb471 73.1%,#c9b87b 76.0%,#a8bd85 78.9%,#7ac08f 81.8%,#31b7a9 84.7%,#0fadbd 87.6%,#2093ca 90.5%,#217fc3 93.4%)"></i><i style="height:2px;background:linear-gradient(90deg,#2180c4 6.4%,#2093ca 9.3%,#0fadbd 12.2%,#31b7a9 15.1%,#7ac08f 18.0%,#a7bd85 20.9%,#c9b87b 23.9%,#deb471 26.8%,#f2b865 29.7%,#f6c05d 32.6%,#f0cc5a 35.5%,#edd658 38.4%,#ebdd57 41.3%,#eae356 44.2%,#e8e655 47.1%,#e8e855 50.0%,#e8e655 52.9%,#eae356 55.8%,#ebdd57 58.7%,#edd658 61.6%,#f0cc5a 64.5%,#f6c05d 67.4%,#f2b865 70.3%,#deb471 73.2%,#c9b87b 76.1%,#a7bd85 79.1%,#7ac08f 82.0%,#31b7a9 84.9%,#0fadbd 87.8%,#2093ca 90.7%,#2180c4 93.6%)"></i><i style="height:2px;background:linear-gradient(90deg,#2180c4 6.2%,#2093ca 9.2%,#0fadbd 12.1%,#31b7a9 15.0%,#7ac08f 17.9%,#a7bd85 20.8%,#c8b87b 23.7%,#deb472 26.7%,#f1b865 29.6%,#f7bf5d 32.5%,#f1cb5a 35.4%,#eed559 38.3%,#ebdc57 41.2%,#eae256 44.2%,#e9e556 47.1%,#e8e655 50.0%,#e9e556 52.9%,#eae256 55.8%,#ebdc57 58.8%,#eed559 61.7%,#f1cb5a 64.6%,#f7bf5d 67.5%,#f1b865 70.4%,#deb472 73.3%,#c8b87b 76.3%,#a7bd85 79.2%,#7ac08f 82.1%,#31b7a9 85.0%,#0fadbd 87.9%,#2093ca 90.8%,#2180c4 93.8%)"></i><i style="height:2px;background:linear-gradient(90deg,#2180c4 6.1%,#2093ca 9.0%,#0fadbd 11.9%,#30b7a9 14.8%,#7ac090 17.8%,#a7bd85 20.7%,#c8b87b 23.6%,#ddb472 26.6%,#f0b765 29.5%,#f7bf5e 32.4%,#f1ca5b 35.4%,#eed459 38.3%,#ecdb57 41.2%,#eae156 44.1%,#e9e456 47.1%,#e9e556 50.0%,#e9e456 52.9%,#eae156 55.9%,#ecdb57 58.8%,#eed459 61.7%,#f1ca5b 64.6%,#f7bf5e 67.6%,#f0b765 70.5%,#ddb472 73.4%,#c8b87b 76.4%,#a7bd85 79.3%,#7ac090 82.2%,#30b7a9 85.2%,#0fadbd 88.1%,#2093ca 91.0%,#2180c4 93.9%)"></i><i style="height:2px;background:linear-gradient(90deg,#2180c4 5.9%,#2093ca 8.8%,#0fadbd 11.8%,#30b7a9 14.7%,#79c090 17.6%,#a6bd85 20.6%,#c8b87b 23.5%,#ddb473 26.5%,#f0b766 29.4%,#f8be5e 32.4%,#f2c95b 35.3%,#eed359 38.2%,#ecda58 41.2%,#eae057 44.1%,#eae356 47.1%,#e9e456 50.0%,#eae356 52.9%,#eae057 55.9%,#ecda58 58.8%,#eed359 61.8%,#f2c95b 64.7%,#f8be5e 67.6%,#f0b766 70.6%,#ddb473 73.5%,#c8b87b 76.5%,#a6bd85 79.4%,#79c090 82.4%,#30b7a9 85.3%,#0fadbd 88.2%,#2093ca 91.2%,#2180c4 94.1%)"></i><i style="height:2px;background:linear-gradient(90deg,#2180c4 5.7%,#2093ca 8.7%,#0fadbd 11.6%,#30b7a9 14.6%,#79c090 17.5%,#a6bd85 20.5%,#c7b87b 23.4%,#dcb473 26.4%,#efb767 29.3%,#f8bd5e 32.3%,#f2c85b 35.2%,#efd259 38.2%,#ecd958 41.1%,#ebde57 44.1%,#eae256 47.0%,#eae356 50.0%,#eae256 53.0%,#ebde57 55.9%,#ecd958 58.9%,#efd259 61.8%,#f2c85b 64.8%,#f8bd5e 67.7%,#efb767 70.7%,#dcb473 73.6%,#c7b87b 76.6%,#a6bd85 79.5%,#79c090 82.5%,#30b7a9 85.4%,#0fadbd 88.4%,#2093ca 91.3%,#2180c4 94.3%)"></i><i style="height:2px;background:linear-gradient(90deg,#2180c4 5.5%,#2093ca 8.5%,#0fadbd 11.5%,#30b7a9 14.4%,#79c090 17.4%,#a5bd85 20.4%,#c7b87c 23.3%,#dbb473 26.3%,#eeb767 29.2%,#f8bc5e 32.2%,#f3c75b 35.2%,#efd159 38.1%,#edd858 41.1%,#ebdd57 44.1%,#eae056 47.0%,#eae156 50.0%,#eae056 53.0%,#ebdd57 55.9%,#edd858 58.9%,#efd159 61.9%,#f3c75b 64.8%,#f8bc5e 67.8%,#eeb767 70.8%,#dbb473 73.7%,#c7b87c 76.7%,#a5bd85 79.6%,#79c090 82.6%,#30b7a9 85.6%,#0fadbd 88.5%,#2093ca 91.5%,#2180c4 94.5%)"></i><i style="height:2px;background:linear-gradient(90deg,#2180c4 5.4%,#2093ca 8.3%,#0fadbd 11.3%,#2fb7a9 14.3%,#78c090 17.3%,#a5bd86 20.2%,#c6b87c 23.2%,#dbb474 26.2%,#edb768 29.2%,#f9bb5e 32.1%,#f3c65c 35.1%,#efcf5a 38.1%,#edd658 41.1%,#ecdc57 44.0%,#ebdf57 47.0%,#eae057 50.0%,#ebdf57 53.0%,#ecdc57 56.0%,#edd658 58.9%,#efcf5a 61.9%,#f3c65c 64.9%,#f9bb5e 67.9%,#edb768 70.8%,#dbb474 73.8%,#c6b87c 76.8%,#a5bd86 79.8%,#78c090 82.7%,#2fb7a9 85.7%,#0fadbd 88.7%,#2093ca 91.7%,#2180c4 94.6%)"></i><i style="height:2px;background:linear-gradient(90deg,#2180c4 5.2%,#2093ca 8.2%,#0fadbd 11.2%,#2fb7a9 14.2%,#78c090 17.1%,#a4bd86 20.1%,#c6b87c 23.1%,#dab474 26.1%,#ecb768 29.1%,#f9ba5f 32.1%,#f4c55c 35.1%,#f0ce5a 38.1%,#eed559 41.0%,#ecda58 44.0%,#ebdd57 47.0%,#ebde57 50.0%,#ebdd57 53.0%,#ecda58 56.0%,#eed559 59.0%,#f0ce5a 61.9%,#f4c55c 64.9%,#f9ba5f 67.9%,#ecb768 70.9%,#dab474 73.9%,#c6b87c 76.9%,#a4bd86 79.9%,#78c090 82.9%,#2fb7a9 85.8%,#0fadbd 88.8%,#2093ca 91.8%,#2180c4 94.8%)"></i><i style="height:2px;background:linear-gradient(90deg,#2180c4 5.0%,#2191cb 7.8%,#0fabbf 10.6%,#1fb4af 13.5%,#68bf95 16.3%,#97be89 19.1%,#baba80 21.9%,#d1b677 24.7%,#e2b56f 27.5%,#f2b864 30.3%,#f8bd5e 33.1%,#f3c75c 35.9%,#f0cf5a 38.8%,#eed559 41.6%,#ecd958 44.4%,#ecdb57 47.2%,#ebdc57 50.0%,#ecdb57 52.8%,#ecd958 55.6%,#eed559 58.4%,#f0cf5a 61.2%,#f3c75c 64.1%,#f8bd5e 66.9%,#f2b864 69.7%,#e2b56f 72.5%,#d1b677 75.3%,#baba80 78.1%,#97be89 80.9%,#68bf95 83.7%,#1fb4af 86.5%,#0fabbf 89.4%,#2191cb 92.2%,#2180c4 95.0%)"></i><i style="height:2px;background:linear-gradient(90deg,#2180c4 4.9%,#2191cb 7.7%,#0fabbf 10.5%,#1fb4af 13.3%,#68bf95 16.2%,#97be89 19.0%,#b9ba80 21.8%,#d0b678 24.6%,#e2b56f 27.4%,#f1b765 30.3%,#f8bc5e 33.1%,#f4c65c 35.9%,#f0cd5a 38.7%,#eed359 41.5%,#edd758 44.4%,#ecda58 47.2%,#ecdb57 50.0%,#ecda58 52.8%,#edd758 55.6%,#eed359 58.5%,#f0cd5a 61.3%,#f4c65c 64.1%,#f8bc5e 66.9%,#f1b765 69.7%,#e2b56f 72.6%,#d0b678 75.4%,#b9ba80 78.2%,#97be89 81.0%,#68bf95 83.8%,#1fb4af 86.7%,#0fabbf 89.5%,#2191cb 92.3%,#2180c4 95.1%)"></i><i style="height:2px;background:linear-gradient(90deg,#2180c4 4.7%,#2191cb 7.5%,#0faabf 10.4%,#1fb4af 13.2%,#68bf95 16.0%,#97be89 18.9%,#b9ba80 21.7%,#d0b678 24.5%,#e1b570 27.4%,#f0b766 30.2%,#f9bb5e 33.0%,#f4c45c 35.8%,#f1cc5a 38.7%,#efd159 41.5%,#eed558 44.3%,#edd858 47.2%,#edd958 50.0%,#edd858 52.8%,#eed558 55.7%,#efd159 58.5%,#f1cc5a 61.3%,#f4c45c 64.2%,#f9bb5e 67.0%,#f0b766 69.8%,#e1b570 72.6%,#d0b678 75.5%,#b9ba80 78.3%,#97be89 81.1%,#68bf95 84.0%,#1fb4af 86.8%,#0faabf 89.6%,#2191cb 92.5%,#2180c4 95.3%)"></i><i style="height:2px;background:linear-gradient(90deg,#2180c4 4.6%,#2191cb 7.4%,#0faabf 10.2%,#1fb4af 13.1%,#68bf95 15.9%,#96be89 18.8%,#b8bb80 21.6%,#cfb778 24.4%,#e0b570 27.3%,#eeb767 30.1%,#faba5f 33.0%,#f5c35d 35.8%,#f2ca5b 38.6%,#efd05a 41.5%,#eed359 44.3%,#edd658 47.2%,#edd758 50.0%,#edd658 52.8%,#eed359 55.7%,#efd05a 58.5%,#f2ca5b 61.4%,#f5c35d 64.2%,#faba5f 67.0%,#eeb767 69.9%,#e0b570 72.7%,#cfb778 75.6%,#b8bb80 78.4%,#96be89 81.2%,#68bf95 84.1%,#1fb4af 86.9%,#0faabf 89.8%,#2191cb 92.6%,#2180c4 95.4%)"></i><i style="height:2px;background:linear-gradient(90deg,#2180c4 4.4%,#2191cb 7.3%,#0faabf 10.1%,#1fb4af 13.0%,#67bf95 15.8%,#96be89 18.7%,#b8bb80 21.5%,#ceb778 24.4%,#dfb471 27.2%,#edb768 30.1%,#fab95f 32.9%,#f6c15d 35.8%,#f2c85b 38.6%,#f0ce5a 41.5%,#efd259 44.3%,#eed459 47.2%,#eed559 50.0%,#eed459 52.8%,#efd259 55.7%,#f0ce5a 58.5%,#f2c85b 61.4%,#f6c15d 64.2%,#fab95f 67.1%,#edb768 69.9%,#dfb471 72.8%,#ceb778 75.6%,#b8bb80 78.5%,#96be89 81.3%,#67bf95 84.2%,#1fb4af 87.0%,#0faabf 89.9%,#2191cb 92.7%,#2180c4 95.6%)"></i><i style="height:2px;background:linear-gradient(90deg,#2180c4 4.3%,#2191cb 7.1%,#0fabbf 10.0%,#1fb4af 12.8%,#67bf95 15.7%,#96be89 18.6%,#b7bb80 21.4%,#ceb779 24.3%,#deb472 27.1%,#ecb768 30.0%,#f8b960 32.8%,#f7c05d 35.7%,#f3c65c 38.6%,#f1cc5a 41.4%,#efd05a 44.3%,#efd259 47.1%,#eed259 50.0%,#efd259 52.9%,#efd05a 55.7%,#f1cc5a 58.6%,#f3c65c 61.4%,#f7c05d 64.3%,#f8b960 67.2%,#ecb768 70.0%,#deb472 72.9%,#ceb779 75.7%,#b7bb80 78.6%,#96be89 81.4%,#67bf95 84.3%,#1fb4af 87.2%,#0fabbf 90.0%,#2191cb 92.9%,#2180c4 95.7%)"></i><i style="height:2px;background:linear-gradient(90deg,#2180c4 4.1%,#2191cb 7.0%,#0fabbf 9.8%,#1fb4af 12.7%,#67be95 15.6%,#95be89 18.5%,#b7bb81 21.3%,#cdb779 24.2%,#ddb472 27.1%,#ebb669 29.9%,#f6b861 32.8%,#f8be5e 35.7%,#f4c55c 38.5%,#f2ca5b 41.4%,#f0cd5a 44.3%,#efd05a 47.1%,#efd059 50.0%,#efd05a 52.9%,#f0cd5a 55.7%,#f2ca5b 58.6%,#f4c55c 61.5%,#f8be5e 64.3%,#f6b861 67.2%,#ebb669 70.1%,#ddb472 72.9%,#cdb779 75.8%,#b7bb81 78.7%,#95be89 81.5%,#67be95 84.4%,#1fb4af 87.3%,#0fabbf 90.2%,#2191cb 93.0%,#2180c4 95.9%)"></i><i style="height:2px;background:linear-gradient(90deg,#2180c4 4.0%,#2191cb 6.8%,#0fabbf 9.7%,#1fb4af 12.6%,#67be95 15.5%,#95be89 18.4%,#b6bb81 21.2%,#ccb779 24.1%,#dcb473 27.0%,#e9b66a 29.9%,#f5b863 32.7%,#f8bc5e 35.6%,#f5c35d 38.5%,#f3c85b 41.4%,#f1cb5a 44.2%,#f0cd5a 47.1%,#f0ce5a 50.0%,#f0cd5a 52.9%,#f1cb5a 55.8%,#f3c85b 58.6%,#f5c35d 61.5%,#f8bc5e 64.4%,#f5b863 67.3%,#e9b66a 70.1%,#dcb473 73.0%,#ccb779 75.9%,#b6bb81 78.8%,#95be89 81.6%,#67be95 84.5%,#1fb4af 87.4%,#0fabbf 90.3%,#2191cb 93.2%,#2180c4 96.0%)"></i><i style="height:2px;background:linear-gradient(90deg,#2180c4 3.8%,#2191cb 6.7%,#0fabbf 9.6%,#1fb4af 12.5%,#67be95 15.4%,#95bf8a 18.3%,#b5bb81 21.1%,#ccb779 24.0%,#dbb473 26.9%,#e8b66b 29.8%,#f3b864 32.7%,#f9bb5f 35.6%,#f6c15d 38.5%,#f4c55c 41.3%,#f2c95b 44.2%,#f1cb5b 47.1%,#f1cb5a 50.0%,#f1cb5b 52.9%,#f2c95b 55.8%,#f4c55c 58.7%,#f6c15d 61.5%,#f9bb5f 64.4%,#f3b864 67.3%,#e8b66b 70.2%,#dbb473 73.1%,#ccb779 76.0%,#b5bb81 78.9%,#95bf8a 81.7%,#67be95 84.6%,#1fb4af 87.5%,#0fabbf 90.4%,#2191cb 93.3%,#2180c4 96.2%)"></i><i style="height:2px;background:linear-gradient(90deg,#2180c4 3.7%,#2091ca 6.6%,#0fabbf 9.5%,#1fb4af 12.4%,#67be95 15.3%,#94bf8a 18.2%,#b5bb81 21.1%,#cbb77a 24.0%,#dab474 26.8%,#e7b66c 29.7%,#f1b865 32.6%,#fab95f 35.5%,#f7bf5e 38.4%,#f5c35c 41.3%,#f3c65c 44.2%,#f2c85b 47.1%,#f2c95b 50.0%,#f2c85b 52.9%,#f3c65c 55.8%,#f5c35c 58.7%,#f7bf5e 61.6%,#fab95f 64.5%,#f1b865 67.4%,#e7b66c 70.3%,#dab474 73.2%,#cbb77a 76.0%,#b5bb81 78.9%,#94bf8a 81.8%,#67be95 84.7%,#1fb4af 87.6%,#0fabbf 90.5%,#2091ca 93.4%,#2180c4 96.3%)"></i><i style="height:2px;background:linear-gradient(90deg,#2181c5 3.6%,#2091ca 6.5%,#0fabbf 9.4%,#1fb4af 12.3%,#67be95 15.2%,#94bf8a 18.1%,#b4bb81 21.0%,#cab87a 23.9%,#d9b574 26.8%,#e5b66d 29.7%,#efb766 32.6%,#f8b961 35.5%,#f8bd5e 38.4%,#f6c15d 41.3%,#f5c45c 44.2%,#f4c65c 47.1%,#f3c65c 50.0%,#f4c65c 52.9%,#f5c45c 55.8%,#f6c15d 58.7%,#f8bd5e 61.6%,#f8b961 64.5%,#efb766 67.4%,#e5b66d 70.3%,#d9b574 73.2%,#cab87a 76.1%,#b4bb81 79.0%,#94bf8a 81.9%,#67be95 84.8%,#1fb4af 87.7%,#0fabbf 90.6%,#2091ca 93.5%,#2181c5 96.4%)"></i><i style="height:2px;background:linear-gradient(90deg,#2181c5 3.4%,#2091ca 6.3%,#0fabbe 9.2%,#1fb4af 12.2%,#67be95 15.1%,#94bf8a 18.0%,#b4bb81 20.9%,#cab87a 23.8%,#d8b575 26.7%,#e4b56e 29.6%,#edb767 32.5%,#f5b862 35.4%,#f9ba5f 38.4%,#f7be5e 41.3%,#f6c15d 44.2%,#f5c35d 47.1%,#f5c35c 50.0%,#f5c35d 52.9%,#f6c15d 55.8%,#f7be5e 58.7%,#f9ba5f 61.6%,#f5b862 64.6%,#edb767 67.5%,#e4b56e 70.4%,#d8b575 73.3%,#cab87a 76.2%,#b4bb81 79.1%,#94bf8a 82.0%,#67be95 84.9%,#1fb4af 87.8%,#0fabbe 90.8%,#2091ca 93.7%,#2181c5 96.6%)"></i><i style="height:2px;background:linear-gradient(90deg,#2181c5 3.3%,#2091ca 6.2%,#0fabbe 9.1%,#20b4ae 12.1%,#67be95 15.0%,#94bf8a 17.9%,#b3bb82 20.8%,#c9b87b 23.7%,#d7b575 26.6%,#e2b56f 29.6%,#ecb769 32.5%,#f3b864 35.4%,#f9b960 38.3%,#f9bc5e 41.2%,#f7bf5e 44.2%,#f6c05d 47.1%,#f6c15d 50.0%,#f6c05d 52.9%,#f7bf5e 55.8%,#f9bc5e 58.8%,#f9b960 61.7%,#f3b864 64.6%,#ecb769 67.5%,#e2b56f 70.4%,#d7b575 73.4%,#c9b87b 76.3%,#b3bb82 79.2%,#94bf8a 82.1%,#67be95 85.0%,#20b4ae 87.9%,#0fabbe 90.9%,#2091ca 93.8%,#2181c5 96.7%)"></i><i style="height:2px;background:linear-gradient(90deg,#2181c5 3.2%,#2091ca 6.1%,#0fabbe 9.0%,#20b4ae 12.0%,#67be95 14.9%,#93bf8a 17.8%,#b3bb82 20.7%,#c8b87b 23.7%,#d6b575 26.6%,#e1b570 29.5%,#eab66a 32.4%,#f1b765 35.4%,#f6b861 38.3%,#fab95f 41.2%,#f9bc5e 44.1%,#f8bd5e 47.1%,#f8be5e 50.0%,#f8bd5e 52.9%,#f9bc5e 55.9%,#fab95f 58.8%,#f6b861 61.7%,#f1b765 64.6%,#eab66a 67.6%,#e1b570 70.5%,#d6b575 73.4%,#c8b87b 76.3%,#b3bb82 79.3%,#93bf8a 82.2%,#67be95 85.1%,#20b4ae 88.0%,#0fabbe 91.0%,#2091ca 93.9%,#2181c5 96.8%)"></i><i style="height:2px;background:linear-gradient(90deg,#2181c5 3.0%,#2091ca 6.0%,#0fabbe 8.9%,#20b4ae 11.9%,#67be95 14.8%,#93bf8a 17.7%,#b2bb82 20.7%,#c8b87b 23.6%,#d5b576 26.5%,#dfb571 29.5%,#e8b66b 32.4%,#eeb767 35.3%,#f4b863 38.3%,#f7b961 41.2%,#fab95f 44.1%,#f9ba5f 47.1%,#f9bb5f 50.0%,#f9ba5f 52.9%,#fab95f 55.9%,#f7b961 58.8%,#f4b863 61.7%,#eeb767 64.7%,#e8b66b 67.6%,#dfb571 70.5%,#d5b576 73.5%,#c8b87b 76.4%,#b2bb82 79.3%,#93bf8a 82.3%,#67be95 85.2%,#20b4ae 88.1%,#0fabbe 91.1%,#2091ca 94.0%,#2181c5 97.0%)"></i><i style="height:2px;background:linear-gradient(90deg,#2181c5 2.9%,#2092ca 5.9%,#0fabbe 8.8%,#21b4ae 11.8%,#67bf95 14.7%,#93bf8a 17.6%,#b2bb82 20.6%,#c7b87b 23.5%,#d4b676 26.5%,#deb472 29.4%,#e6b66c 32.3%,#ecb768 35.3%,#f1b765 38.2%,#f4b863 41.2%,#f7b861 44.1%,#f8b960 47.1%,#f8b960 50.0%,#f8b960 52.9%,#f7b861 55.9%,#f4b863 58.8%,#f1b765 61.8%,#ecb768 64.7%,#e6b66c 67.7%,#deb472 70.6%,#d4b676 73.5%,#c7b87b 76.5%,#b2bb82 79.4%,#93bf8a 82.4%,#67bf95 85.3%,#21b4ae 88.2%,#0fabbe 91.2%,#2092ca 94.1%,#2181c5 97.1%)"></i><i style="height:2px;background:linear-gradient(90deg,#2281c5 2.8%,#2092ca 5.8%,#0fabbe 8.7%,#21b4ae 11.7%,#67bf95 14.6%,#93bf8a 17.6%,#b1bc82 20.5%,#c7b87c 23.5%,#d3b677 26.4%,#dcb473 29.4%,#e4b56e 32.3%,#eab66a 35.3%,#eeb767 38.2%,#f1b765 41.2%,#f3b864 44.1%,#f4b863 47.1%,#f5b863 50.0%,#f4b863 52.9%,#f3b864 55.9%,#f1b765 58.8%,#eeb767 61.8%,#eab66a 64.7%,#e4b56e 67.7%,#dcb473 70.6%,#d3b677 73.6%,#c7b87c 76.5%,#b1bc82 79.5%,#93bf8a 82.4%,#67bf95 85.4%,#21b4ae 88.3%,#0fabbe 91.3%,#2092ca 94.2%,#2281c5 97.2%)"></i><i style="height:2px;background:linear-gradient(90deg,#2281c5 2.7%,#2092ca 5.7%,#0facbe 8.6%,#21b5ae 11.6%,#68bf95 14.5%,#93bf8a 17.5%,#b1bc82 20.4%,#c6b87c 23.4%,#d2b677 26.3%,#dbb473 29.3%,#e2b56f 32.3%,#e7b66c 35.2%,#ebb669 38.2%,#eeb767 41.1%,#efb766 44.1%,#f0b765 47.0%,#f1b765 50.0%,#f0b765 53.0%,#efb766 55.9%,#eeb767 58.9%,#ebb669 61.8%,#e7b66c 64.8%,#e2b56f 67.7%,#dbb473 70.7%,#d2b677 73.7%,#c6b87c 76.6%,#b1bc82 79.6%,#93bf8a 82.5%,#68bf95 85.5%,#21b5ae 88.4%,#0facbe 91.4%,#2092ca 94.3%,#2281c5 97.3%)"></i><i style="height:2px;background:linear-gradient(90deg,#2281c5 2.6%,#2092ca 5.5%,#0facbe 8.5%,#22b5ae 11.5%,#68bf95 14.4%,#93bf8a 17.4%,#b0bc82 20.4%,#c5b97c 23.3%,#d1b677 26.3%,#d9b574 29.3%,#e0b570 32.2%,#e5b56d 35.2%,#e8b66b 38.1%,#eab66a 41.1%,#ecb769 44.1%,#edb768 47.0%,#edb768 50.0%,#edb768 53.0%,#ecb769 55.9%,#eab66a 58.9%,#e8b66b 61.9%,#e5b56d 64.8%,#e0b570 67.8%,#d9b574 70.7%,#d1b677 73.7%,#c5b97c 76.7%,#b0bc82 79.6%,#93bf8a 82.6%,#68bf95 85.6%,#22b5ae 88.5%,#0facbe 91.5%,#2092ca 94.5%,#2281c5 97.4%)"></i><i style="height:2px;background:linear-gradient(90deg,#2281c5 2.5%,#2092ca 5.4%,#0facbe 8.4%,#22b5ae 11.4%,#68bf95 14.4%,#93bf8a 17.3%,#b0bc82 20.3%,#c5b97c 23.3%,#d0b678 26.2%,#d8b575 29.2%,#deb472 32.2%,#e2b56f 35.1%,#e5b56d 38.1%,#e7b66c 41.1%,#e8b66b 44.1%,#e9b66b 47.0%,#e9b66a 50.0%,#e9b66b 53.0%,#e8b66b 55.9%,#e7b66c 58.9%,#e5b56d 61.9%,#e2b56f 64.9%,#deb472 67.8%,#d8b575 70.8%,#d0b678 73.8%,#c5b97c 76.7%,#b0bc82 79.7%,#93bf8a 82.7%,#68bf95 85.6%,#22b5ae 88.6%,#0facbe 91.6%,#2092ca 94.6%,#2281c5 97.5%)"></i><i style="height:2px;background:linear-gradient(90deg,#2281c5 2.4%,#2092ca 5.3%,#0facbe 8.3%,#23b5ad 11.3%,#69bf95 14.3%,#93bf8a 17.2%,#b0bc83 20.2%,#c4b97d 23.2%,#cfb778 26.2%,#d6b575 29.2%,#dcb473 32.1%,#dfb571 35.1%,#e2b56f 38.1%,#e3b56e 41.1%,#e4b56e 44.0%,#e5b56d 47.0%,#e5b56d 50.0%,#e5b56d 53.0%,#e4b56e 56.0%,#e3b56e 58.9%,#e2b56f 61.9%,#dfb571 64.9%,#dcb473 67.9%,#d6b575 70.8%,#cfb778 73.8%,#c4b97d 76.8%,#b0bc83 79.8%,#93bf8a 82.8%,#69bf95 85.7%,#23b5ad 88.7%,#0facbe 91.7%,#2092ca 94.7%,#2281c5 97.6%)"></i><i style="height:2px;background:linear-gradient(90deg,#2281c5 2.3%,#2191cb 5.1%,#0fa9bf 7.9%,#1ab3b1 10.7%,#5abd9a 13.5%,#88bf8c 16.3%,#a6bd85 19.1%,#bcba7f 21.9%,#c9b87a 24.7%,#d1b677 27.5%,#d7b575 30.3%,#dbb473 33.1%,#deb472 36.0%,#dfb571 38.8%,#e0b570 41.6%,#e0b570 44.4%,#e1b570 47.2%,#e1b570 50.0%,#e1b570 52.8%,#e0b570 55.6%,#e0b570 58.4%,#dfb571 61.2%,#deb472 64.0%,#dbb473 66.9%,#d7b575 69.7%,#d1b677 72.5%,#c9b87a 75.3%,#bcba7f 78.1%,#a6bd85 80.9%,#88bf8c 83.7%,#5abd9a 86.5%,#1ab3b1 89.3%,#0fa9bf 92.1%,#2191cb 94.9%,#2281c5 97.7%)"></i><i style="height:2px;background:linear-gradient(90deg,#2281c5 2.2%,#2091ca 5.0%,#0fa9bf 7.8%,#1ab4b1 10.6%,#5bbd9a 13.4%,#88bf8c 16.2%,#a6bd85 19.0%,#bbba7f 21.9%,#c8b87b 24.7%,#d0b678 27.5%,#d5b576 30.3%,#d9b574 33.1%,#dbb473 35.9%,#dcb473 38.7%,#dcb473 41.6%,#ddb473 44.4%,#ddb473 47.2%,#ddb473 50.0%,#ddb473 52.8%,#ddb473 55.6%,#dcb473 58.4%,#dcb473 61.3%,#dbb473 64.1%,#d9b574 66.9%,#d5b576 69.7%,#d0b678 72.5%,#c8b87b 75.3%,#bbba7f 78.1%,#a6bd85 81.0%,#88bf8c 83.8%,#5bbd9a 86.6%,#1ab4b1 89.4%,#0fa9bf 92.2%,#2091ca 95.0%,#2281c5 97.8%)"></i><i style="height:2px;background:linear-gradient(90deg,#2282c6 2.1%,#2091ca 4.9%,#0faabf 7.7%,#1bb4b1 10.5%,#5bbd9a 13.3%,#89bf8c 16.2%,#a6bd85 19.0%,#bbba7f 21.8%,#c8b87b 24.6%,#cfb778 27.4%,#d4b676 30.3%,#d7b575 33.1%,#d8b575 35.9%,#d9b574 38.7%,#d9b574 41.5%,#d9b574 44.4%,#d8b574 47.2%,#d8b574 50.0%,#d8b574 52.8%,#d9b574 55.6%,#d9b574 58.5%,#d9b574 61.3%,#d8b575 64.1%,#d7b575 66.9%,#d4b676 69.7%,#cfb778 72.6%,#c8b87b 75.4%,#bbba7f 78.2%,#a6bd85 81.0%,#89bf8c 83.8%,#5bbd9a 86.7%,#1bb4b1 89.5%,#0faabf 92.3%,#2091ca 95.1%,#2282c6 97.9%)"></i><i style="height:2px;background:linear-gradient(90deg,#2282c6 2.0%,#2091ca 4.8%,#0faabf 7.6%,#1bb4b0 10.4%,#5cbd99 13.3%,#89bf8c 16.1%,#a6bd85 18.9%,#baba80 21.7%,#c7b87b 24.6%,#ceb779 27.4%,#d2b677 30.2%,#d4b676 33.0%,#d5b576 35.9%,#d5b576 38.7%,#d5b576 41.5%,#d5b576 44.3%,#d4b676 47.2%,#d4b676 50.0%,#d4b676 52.8%,#d5b576 55.7%,#d5b576 58.5%,#d5b576 61.3%,#d5b576 64.1%,#d4b676 67.0%,#d2b677 69.8%,#ceb779 72.6%,#c7b87b 75.4%,#baba80 78.3%,#a6bd85 81.1%,#89bf8c 83.9%,#5cbd99 86.7%,#1bb4b0 89.6%,#0faabf 92.4%,#2091ca 95.2%,#2282c6 98.0%)"></i><i style="height:2px;background:linear-gradient(90deg,#2282c6 1.9%,#2092ca 4.7%,#0faabf 7.5%,#1bb4b0 10.4%,#5cbd99 13.2%,#89bf8c 16.0%,#a5bd85 18.9%,#b9ba80 21.7%,#c6b87c 24.5%,#ccb779 27.3%,#d0b678 30.2%,#d2b677 33.0%,#d3b677 35.8%,#d2b677 38.7%,#d2b677 41.5%,#d1b677 44.3%,#d0b678 47.2%,#d0b678 50.0%,#d0b678 52.8%,#d1b677 55.7%,#d2b677 58.5%,#d2b677 61.3%,#d3b677 64.2%,#d2b677 67.0%,#d0b678 69.8%,#ccb779 72.7%,#c6b87c 75.5%,#b9ba80 78.3%,#a5bd85 81.1%,#89bf8c 84.0%,#5cbd99 86.8%,#1bb4b0 89.6%,#0faabf 92.5%,#2092ca 95.3%,#2282c6 98.1%)"></i><i style="height:2px;background:linear-gradient(90deg,#2282c6 1.8%,#2092ca 4.6%,#0faabf 7.4%,#1cb4b0 10.3%,#5dbd99 13.1%,#89bf8c 16.0%,#a5bd85 18.8%,#b9ba80 21.6%,#c5b97c 24.5%,#cbb77a 27.3%,#ceb778 30.1%,#d0b678 33.0%,#d0b678 35.8%,#cfb778 38.7%,#ceb779 41.5%,#cdb779 44.3%,#ccb779 47.2%,#ccb779 50.0%,#ccb779 52.8%,#cdb779 55.7%,#ceb779 58.5%,#cfb778 61.3%,#d0b678 64.2%,#d0b678 67.0%,#ceb778 69.9%,#cbb77a 72.7%,#c5b97c 75.5%,#b9ba80 78.4%,#a5bd85 81.2%,#89bf8c 84.0%,#5dbd99 86.9%,#1cb4b0 89.7%,#0faabf 92.6%,#2092ca 95.4%,#2282c6 98.2%)"></i><i style="height:2px;background:linear-gradient(90deg,#2282c6 1.7%,#2092ca 4.5%,#0fabbf 7.4%,#1cb4b0 10.2%,#5dbd99 13.1%,#89bf8c 15.9%,#a5bd86 18.7%,#b8bb80 21.6%,#c4b97c 24.4%,#cab87a 27.3%,#cdb779 30.1%,#cdb779 32.9%,#cdb779 35.8%,#ccb77a 38.6%,#cab87a 41.5%,#c9b87b 44.3%,#c8b87b 47.2%,#c8b87b 50.0%,#c8b87b 52.8%,#c9b87b 55.7%,#cab87a 58.5%,#ccb77a 61.4%,#cdb779 64.2%,#cdb779 67.1%,#cdb779 69.9%,#cab87a 72.7%,#c4b97c 75.6%,#b8bb80 78.4%,#a5bd86 81.3%,#89bf8c 84.1%,#5dbd99 86.9%,#1cb4b0 89.8%,#0fabbf 92.6%,#2092ca 95.5%,#2282c6 98.3%)"></i><i style="height:2px;background:linear-gradient(90deg,#2282c6 1.6%,#2092ca 4.4%,#0fabbe 7.3%,#1db4b0 10.1%,#5ebd99 13.0%,#89bf8c 15.8%,#a5bd86 18.7%,#b8bb80 21.5%,#c4b97d 24.4%,#c9b87b 27.2%,#cbb77a 30.1%,#cbb77a 32.9%,#cab87a 35.8%,#c8b87b 38.6%,#c7b87c 41.5%,#c5b97c 44.3%,#c4b97d 47.2%,#c3b97d 50.0%,#c4b97d 52.8%,#c5b97c 55.7%,#c7b87c 58.5%,#c8b87b 61.4%,#cab87a 64.2%,#cbb77a 67.1%,#cbb77a 69.9%,#c9b87b 72.8%,#c4b97d 75.6%,#b8bb80 78.5%,#a5bd86 81.3%,#89bf8c 84.2%,#5ebd99 87.0%,#1db4b0 89.9%,#0fabbe 92.7%,#2092ca 95.6%,#2282c6 98.4%)"></i><i style="height:2px;background:linear-gradient(90deg,#2282c6 1.5%,#2093ca 4.4%,#0fabbe 7.2%,#1db4af 10.1%,#5fbd98 12.9%,#8abf8c 15.8%,#a5bd86 18.6%,#b7bb80 21.5%,#c3b97d 24.3%,#c7b87b 27.2%,#c9b87b 30.0%,#c9b87b 32.9%,#c7b87b 35.7%,#c5b97c 38.6%,#c3b97d 41.4%,#c0b97e 44.3%,#beba7e 47.1%,#bdba7f 50.0%,#beba7e 52.9%,#c0b97e 55.7%,#c3b97d 58.6%,#c5b97c 61.4%,#c7b87b 64.3%,#c9b87b 67.1%,#c9b87b 70.0%,#c7b87b 72.8%,#c3b97d 75.7%,#b7bb80 78.5%,#a5bd86 81.4%,#8abf8c 84.2%,#5fbd98 87.1%,#1db4af 89.9%,#0fabbe 92.8%,#2093ca 95.6%,#2282c6 98.5%)"></i><i style="height:2px;background:linear-gradient(90deg,#2282c6 1.4%,#2093ca 4.3%,#0fabbe 7.1%,#1db4af 10.0%,#5fbd98 12.9%,#8abf8c 15.7%,#a5bd86 18.6%,#b6bb81 21.4%,#c1b97d 24.3%,#c6b87c 27.1%,#c7b87b 30.0%,#c7b87c 32.9%,#c4b97c 35.7%,#c1b97d 38.6%,#bdba7f 41.4%,#baba80 44.3%,#b8bb80 47.1%,#b7bb80 50.0%,#b8bb80 52.9%,#baba80 55.7%,#bdba7f 58.6%,#c1b97d 61.4%,#c4b97c 64.3%,#c7b87c 67.1%,#c7b87b 70.0%,#c6b87c 72.9%,#c1b97d 75.7%,#b6bb81 78.6%,#a5bd86 81.4%,#8abf8c 84.3%,#5fbd98 87.1%,#1db4af 90.0%,#0fabbe 92.9%,#2093ca 95.7%,#2282c6 98.6%)"></i><i style="height:2px;background:linear-gradient(90deg,#2282c6 1.3%,#2093ca 4.2%,#0facbe 7.1%,#1eb4af 9.9%,#60be98 12.8%,#8abf8c 15.7%,#a5bd86 18.5%,#b6bb81 21.4%,#c0b97e 24.2%,#c5b97c 27.1%,#c5b97c 30.0%,#c4b97d 32.8%,#c1b97e 35.7%,#bcba7f 38.6%,#b8bb80 41.4%,#b4bb81 44.3%,#b2bb82 47.1%,#b1bc82 50.0%,#b2bb82 52.9%,#b4bb81 55.7%,#b8bb80 58.6%,#bcba7f 61.4%,#c1b97e 64.3%,#c4b97d 67.2%,#c5b97c 70.0%,#c5b97c 72.9%,#c0b97e 75.8%,#b6bb81 78.6%,#a5bd86 81.5%,#8abf8c 84.3%,#60be98 87.2%,#1eb4af 90.1%,#0facbe 92.9%,#2093ca 95.8%,#2282c6 98.7%)"></i><i style="height:2px;background:linear-gradient(90deg,#2282c6 1.3%,#1f93c9 4.1%,#0facbe 7.0%,#1eb4af 9.9%,#61be98 12.7%,#8abf8c 15.6%,#a4bd86 18.5%,#b5bb81 21.3%,#bfba7e 24.2%,#c3b97d 27.1%,#c4b97d 29.9%,#c1b97d 32.8%,#bdba7f 35.7%,#b8bb80 38.5%,#b3bb82 41.4%,#aebc83 44.3%,#acbc84 47.1%,#abbc84 50.0%,#acbc84 52.9%,#aebc83 55.7%,#b3bb82 58.6%,#b8bb80 61.5%,#bdba7f 64.3%,#c1b97d 67.2%,#c4b97d 70.1%,#c3b97d 72.9%,#bfba7e 75.8%,#b5bb81 78.7%,#a4bd86 81.5%,#8abf8c 84.4%,#61be98 87.3%,#1eb4af 90.1%,#0facbe 93.0%,#1f93c9 95.9%,#2282c6 98.7%)"></i><i style="height:2px;background:linear-gradient(90deg,#2283c7 1.2%,#1f93c9 4.1%,#0facbe 6.9%,#1fb4af 9.8%,#61be97 12.7%,#8bbf8c 15.5%,#a4bd86 18.4%,#b5bb81 21.3%,#beba7e 24.2%,#c2b97d 27.0%,#c1b97d 29.9%,#beba7e 32.8%,#b9ba80 35.6%,#b3bb82 38.5%,#adbc83 41.4%,#a9bd85 44.3%,#a5bd85 47.1%,#a4bd86 50.0%,#a5bd85 52.9%,#a9bd85 55.7%,#adbc83 58.6%,#b3bb82 61.5%,#b9ba80 64.4%,#beba7e 67.2%,#c1b97d 70.1%,#c2b97d 73.0%,#beba7e 75.8%,#b5bb81 78.7%,#a4bd86 81.6%,#8bbf8c 84.5%,#61be97 87.3%,#1fb4af 90.2%,#0facbe 93.1%,#1f93c9 95.9%,#2283c7 98.8%)"></i><i style="height:2px;background:linear-gradient(90deg,#2283c7 1.1%,#1f94c9 4.0%,#0facbe 6.9%,#20b4ae 9.7%,#62be97 12.6%,#8bbf8c 15.5%,#a4bd86 18.4%,#b4bb81 21.2%,#bdba7f 24.1%,#c0b97e 27.0%,#bfba7e 29.9%,#bbba7f 32.7%,#b5bb81 35.6%,#aebc83 38.5%,#a8bd85 41.4%,#a3be86 44.2%,#9fbe87 47.1%,#9ebe87 50.0%,#9fbe87 52.9%,#a3be86 55.8%,#a8bd85 58.6%,#aebc83 61.5%,#b5bb81 64.4%,#bbba7f 67.3%,#bfba7e 70.1%,#c0b97e 73.0%,#bdba7f 75.9%,#b4bb81 78.8%,#a4bd86 81.6%,#8bbf8c 84.5%,#62be97 87.4%,#20b4ae 90.3%,#0facbe 93.1%,#1f94c9 96.0%,#2283c7 98.9%)"></i><i style="height:2px;background:linear-gradient(90deg,#2283c7 1.1%,#1f94c9 3.9%,#0facbd 6.8%,#21b5ae 9.7%,#63be97 12.6%,#8bbf8c 15.4%,#a4bd86 18.3%,#b3bb81 21.2%,#bcba7f 24.1%,#beba7e 27.0%,#bcba7f 29.8%,#b7bb80 32.7%,#b1bc82 35.6%,#a9bd84 38.5%,#a2be86 41.4%,#9dbe88 44.2%,#99be89 47.1%,#97be89 50.0%,#99be89 52.9%,#9dbe88 55.8%,#a2be86 58.6%,#a9bd84 61.5%,#b1bc82 64.4%,#b7bb80 67.3%,#bcba7f 70.2%,#beba7e 73.0%,#bcba7f 75.9%,#b3bb81 78.8%,#a4bd86 81.7%,#8bbf8c 84.6%,#63be97 87.4%,#21b5ae 90.3%,#0facbd 93.2%,#1f94c9 96.1%,#2283c7 98.9%)"></i><i style="height:2px;background:linear-gradient(90deg,#2283c7 1.0%,#1f94c9 3.9%,#0fadbd 6.7%,#22b5ae 9.6%,#63be97 12.5%,#8bbf8c 15.4%,#a4bd86 18.3%,#b3bb82 21.2%,#bbba7f 24.0%,#bcba7f 26.9%,#baba80 29.8%,#b4bb81 32.7%,#acbc83 35.6%,#a4bd86 38.5%,#9dbe88 41.3%,#96be89 44.2%,#92bf8a 47.1%,#91bf8a 50.0%,#92bf8a 52.9%,#96be89 55.8%,#9dbe88 58.7%,#a4bd86 61.5%,#acbc83 64.4%,#b4bb81 67.3%,#baba80 70.2%,#bcba7f 73.1%,#bbba7f 76.0%,#b3bb82 78.8%,#a4bd86 81.7%,#8bbf8c 84.6%,#63be97 87.5%,#22b5ae 90.4%,#0fadbd 93.3%,#1f94c9 96.1%,#2283c7 99.0%)"></i><i style="height:2px;background:linear-gradient(90deg,#2283c7 0.9%,#1f94c9 3.8%,#0fadbd 6.7%,#23b5ad 9.6%,#64be96 12.5%,#8bbf8c 15.4%,#a4bd86 18.2%,#b2bb82 21.1%,#b9ba80 24.0%,#baba7f 26.9%,#b7bb80 29.8%,#b1bc82 32.7%,#a8bd85 35.6%,#a0be87 38.5%,#97be89 41.3%,#90bf8b 44.2%,#8bbf8c 47.1%,#8abf8c 50.0%,#8bbf8c 52.9%,#90bf8b 55.8%,#97be89 58.7%,#a0be87 61.5%,#a8bd85 64.4%,#b1bc82 67.3%,#b7bb80 70.2%,#baba7f 73.1%,#b9ba80 76.0%,#b2bb82 78.9%,#a4bd86 81.8%,#8bbf8c 84.6%,#64be96 87.5%,#23b5ad 90.4%,#0fadbd 93.3%,#1f94c9 96.2%,#2283c7 99.1%)"></i><i style="height:2px;background:linear-gradient(90deg,#2283c7 0.9%,#1f95c9 3.7%,#0fadbd 6.6%,#24b5ad 9.5%,#65be96 12.4%,#8cbf8c 15.3%,#a4bd86 18.2%,#b2bb82 21.1%,#b8bb80 24.0%,#b9ba80 26.9%,#b5bb81 29.8%,#adbc83 32.7%,#a4bd86 35.5%,#9abe88 38.4%,#91bf8a 41.3%,#8abf8c 44.2%,#85bf8d 47.1%,#83bf8d 50.0%,#85bf8d 52.9%,#8abf8c 55.8%,#91bf8a 58.7%,#9abe88 61.6%,#a4bd86 64.5%,#adbc83 67.3%,#b5bb81 70.2%,#b9ba80 73.1%,#b8bb80 76.0%,#b2bb82 78.9%,#a4bd86 81.8%,#8cbf8c 84.7%,#65be96 87.6%,#24b5ad 90.5%,#0fadbd 93.4%,#1f95c9 96.3%,#2283c7 99.1%)"></i><i style="height:2px;background:linear-gradient(90deg,#2383c7 0.8%,#1e95c8 3.7%,#0fadbd 6.6%,#25b5ad 9.5%,#66be96 12.4%,#8cbf8b 15.3%,#a4bd86 18.2%,#b1bc82 21.1%,#b7bb80 23.9%,#b7bb80 26.8%,#b2bb82 29.7%,#aabd84 32.6%,#a0be87 35.5%,#95be89 38.4%,#8bbf8c 41.3%,#83bf8d 44.2%,#7ec08f 47.1%,#7cc08f 50.0%,#7ec08f 52.9%,#83bf8d 55.8%,#8bbf8c 58.7%,#95be89 61.6%,#a0be87 64.5%,#aabd84 67.4%,#b2bb82 70.3%,#b7bb80 73.2%,#b7bb80 76.1%,#b1bc82 78.9%,#a4bd86 81.8%,#8cbf8b 84.7%,#66be96 87.6%,#25b5ad 90.5%,#0fadbd 93.4%,#1e95c8 96.3%,#2383c7 99.2%)"></i><i style="height:2px;background:linear-gradient(90deg,#2383c7 0.7%,#1e95c8 3.6%,#0fadbd 6.5%,#26b5ac 9.4%,#66be96 12.3%,#8cbf8b 15.2%,#a3be86 18.1%,#b1bc82 21.0%,#b6bb81 23.9%,#b5bb81 26.8%,#afbc83 29.7%,#a7bd85 32.6%,#9cbe88 35.5%,#90bf8b 38.4%,#85bf8d 41.3%,#7dc08f 44.2%,#78c090 47.1%,#76c090 50.0%,#78c090 52.9%,#7dc08f 55.8%,#85bf8d 58.7%,#90bf8b 61.6%,#9cbe88 64.5%,#a7bd85 67.4%,#afbc83 70.3%,#b5bb81 73.2%,#b6bb81 76.1%,#b1bc82 79.0%,#a3be86 81.9%,#8cbf8b 84.8%,#66be96 87.7%,#26b5ac 90.6%,#0fadbd 93.5%,#1e95c8 96.4%,#2383c7 99.3%)"></i><i style="height:2px;background:linear-gradient(90deg,#2383c7 0.7%,#1e96c8 3.6%,#0fadbc 6.5%,#27b6ac 9.4%,#67be95 12.3%,#8cbf8b 15.2%,#a3be86 18.1%,#b0bc82 21.0%,#b5bb81 23.9%,#b3bb82 26.8%,#adbc83 29.7%,#a3be86 32.6%,#97be89 35.5%,#8bbf8c 38.4%,#80bf8e 41.3%,#77c090 44.2%,#70c092 47.1%,#6ebf93 50.0%,#70c092 52.9%,#77c090 55.8%,#80bf8e 58.7%,#8bbf8c 61.6%,#97be89 64.5%,#a3be86 67.4%,#adbc83 70.3%,#b3bb82 73.2%,#b5bb81 76.1%,#b0bc82 79.0%,#a3be86 81.9%,#8cbf8b 84.8%,#67be95 87.7%,#27b6ac 90.6%,#0fadbc 93.5%,#1e96c8 96.4%,#2383c7 99.3%)"></i><i style="height:2px;background:linear-gradient(90deg,#2383c7 0.6%,#1e96c8 3.5%,#0fadbc 6.4%,#28b6ac 9.3%,#68bf95 12.2%,#8dbf8b 15.1%,#a3be86 18.0%,#afbc83 21.0%,#b4bb81 23.9%,#b1bc82 26.8%,#aabd84 29.7%,#a0be87 32.6%,#93bf8a 35.5%,#86bf8d 38.4%,#7ac08f 41.3%,#6fc092 44.2%,#67bf95 47.1%,#64be96 50.0%,#67bf95 52.9%,#6fc092 55.8%,#7ac08f 58.7%,#86bf8d 61.6%,#93bf8a 64.5%,#a0be87 67.4%,#aabd84 70.3%,#b1bc82 73.2%,#b4bb81 76.1%,#afbc83 79.0%,#a3be86 82.0%,#8dbf8b 84.9%,#68bf95 87.8%,#28b6ac 90.7%,#0fadbc 93.6%,#1e96c8 96.5%,#2383c7 99.4%)"></i><i style="height:2px;background:linear-gradient(90deg,#2383c7 0.6%,#1e96c8 3.5%,#0fadbc 6.4%,#29b6ab 9.3%,#68bf95 12.2%,#8dbf8b 15.1%,#a3be86 18.0%,#afbc83 20.9%,#b2bb82 23.8%,#afbc83 26.7%,#a8bd85 29.6%,#9cbe88 32.6%,#8ebf8b 35.5%,#81bf8e 38.4%,#74c091 41.3%,#67be95 44.2%,#5ebd99 47.1%,#5bbd9a 50.0%,#5ebd99 52.9%,#67be95 55.8%,#74c091 58.7%,#81bf8e 61.6%,#8ebf8b 64.5%,#9cbe88 67.4%,#a8bd85 70.4%,#afbc83 73.3%,#b2bb82 76.2%,#afbc83 79.1%,#a3be86 82.0%,#8dbf8b 84.9%,#68bf95 87.8%,#29b6ab 90.7%,#0fadbc 93.6%,#1e96c8 96.5%,#2383c7 99.4%)"></i><i style="height:2px;background:linear-gradient(90deg,#2384c8 0.5%,#1d96c8 3.4%,#0faebc 6.3%,#2ab6ab 9.3%,#69bf95 12.2%,#8dbf8b 15.1%,#a3be86 18.0%,#aebc83 20.9%,#b1bc82 23.8%,#aebc83 26.7%,#a5bd86 29.6%,#99be89 32.5%,#8abf8c 35.4%,#7bc08f 38.4%,#6dbf93 41.3%,#5ebd98 44.2%,#55bc9c 47.1%,#52bc9d 50.0%,#55bc9c 52.9%,#5ebd98 55.8%,#6dbf93 58.7%,#7bc08f 61.6%,#8abf8c 64.6%,#99be89 67.5%,#a5bd86 70.4%,#aebc83 73.3%,#b1bc82 76.2%,#aebc83 79.1%,#a3be86 82.0%,#8dbf8b 84.9%,#69bf95 87.8%,#2ab6ab 90.7%,#0faebc 93.7%,#1d96c8 96.6%,#2384c8 99.5%)"></i><i style="height:2px;background:linear-gradient(90deg,#2384c8 0.5%,#1d97c8 3.4%,#0faebc 6.3%,#2bb6ab 9.2%,#6abf94 12.1%,#8dbf8b 15.0%,#a3be86 18.0%,#adbc83 20.9%,#b0bc82 23.8%,#acbc84 26.7%,#a2be86 29.6%,#95be89 32.5%,#86bf8d 35.4%,#76c090 38.3%,#65be96 41.3%,#56bc9c 44.2%,#4dbb9f 47.1%,#49bba0 50.0%,#4dbb9f 52.9%,#56bc9c 55.8%,#65be96 58.7%,#76c090 61.7%,#86bf8d 64.6%,#95be89 67.5%,#a2be86 70.4%,#acbc84 73.3%,#b0bc82 76.2%,#adbc83 79.1%,#a3be86 82.0%,#8dbf8b 85.0%,#6abf94 87.9%,#2bb6ab 90.8%,#0faebc 93.7%,#1d97c8 96.6%,#2384c8 99.5%)"></i><i style="height:2px;background:linear-gradient(90deg,#2384c8 0.4%,#1d97c8 3.3%,#0faebb 6.3%,#2cb6aa 9.2%,#6abf94 12.1%,#8dbf8b 15.0%,#a2be86 17.9%,#adbc83 20.8%,#afbc83 23.8%,#aabd84 26.7%,#a0be87 29.6%,#92bf8a 32.5%,#81bf8e 35.4%,#71c092 38.3%,#5dbd99 41.3%,#4ebb9f 44.2%,#44baa2 47.1%,#40baa3 50.0%,#44baa2 52.9%,#4ebb9f 55.8%,#5dbd99 58.7%,#71c092 61.7%,#81bf8e 64.6%,#92bf8a 67.5%,#a0be87 70.4%,#aabd84 73.3%,#afbc83 76.2%,#adbc83 79.2%,#a2be86 82.1%,#8dbf8b 85.0%,#6abf94 87.9%,#2cb6aa 90.8%,#0faebb 93.7%,#1d97c8 96.7%,#2384c8 99.6%)"></i><i style="height:2px;background:linear-gradient(90deg,#2384c8 0.4%,#1c97c7 3.3%,#0faebb 6.2%,#2db6aa 9.1%,#6bbf94 12.1%,#8dbf8b 15.0%,#a2be86 17.9%,#acbc84 20.8%,#adbc83 23.7%,#a8bd85 26.7%,#9dbe88 29.6%,#8ebf8b 32.5%,#7dc08f 35.4%,#6abf94 38.3%,#55bc9c 41.2%,#45baa2 44.2%,#3bb9a5 47.1%,#37b8a7 50.0%,#3bb9a5 52.9%,#45baa2 55.8%,#55bc9c 58.8%,#6abf94 61.7%,#7dc08f 64.6%,#8ebf8b 67.5%,#9dbe88 70.4%,#a8bd85 73.3%,#adbc83 76.3%,#acbc84 79.2%,#a2be86 82.1%,#8dbf8b 85.0%,#6bbf94 87.9%,#2db6aa 90.9%,#0faebb 93.8%,#1c97c7 96.7%,#2384c8 99.6%)"></i><i style="height:2px;background:linear-gradient(90deg,#2384c8 0.3%,#1c98c7 3.3%,#0faebb 6.2%,#2eb7aa 9.1%,#6bbf94 12.0%,#8ebf8b 14.9%,#a2be86 17.9%,#abbc84 20.8%,#acbc84 23.7%,#a6bd85 26.6%,#9abe88 29.6%,#8abf8c 32.5%,#79c090 35.4%,#63be97 38.3%,#4ebb9f 41.2%,#3db9a5 44.2%,#32b7a8 47.1%,#2eb7aa 50.0%,#32b7a8 52.9%,#3db9a5 55.8%,#4ebb9f 58.8%,#63be97 61.7%,#79c090 64.6%,#8abf8c 67.5%,#9abe88 70.4%,#a6bd85 73.4%,#acbc84 76.3%,#abbc84 79.2%,#a2be86 82.1%,#8ebf8b 85.1%,#6bbf94 88.0%,#2eb7aa 90.9%,#0faebb 93.8%,#1c98c7 96.7%,#2384c8 99.7%)"></i><i style="height:2px;background:linear-gradient(90deg,#2384c8 0.3%,#1b98c7 3.2%,#0faebb 6.2%,#2fb7a9 9.1%,#6cbf94 12.0%,#8ebf8b 14.9%,#a2be87 17.8%,#abbc84 20.8%,#abbc84 23.7%,#a4bd86 26.6%,#98be89 29.5%,#87bf8d 32.5%,#74c091 35.4%,#5cbd99 38.3%,#46baa1 41.2%,#34b8a8 44.2%,#29b6ab 47.1%,#25b5ad 50.0%,#29b6ab 52.9%,#34b8a8 55.8%,#46baa1 58.8%,#5cbd99 61.7%,#74c091 64.6%,#87bf8d 67.5%,#98be89 70.5%,#a4bd86 73.4%,#abbc84 76.3%,#abbc84 79.2%,#a2be87 82.2%,#8ebf8b 85.1%,#6cbf94 88.0%,#2fb7a9 90.9%,#0faebb 93.8%,#1b98c7 96.8%,#2384c8 99.7%)"></i><i style="height:2px;background:linear-gradient(90deg,#2384c8 0.3%,#1b98c7 3.2%,#0faebb 6.1%,#2fb7a9 9.0%,#6cbf93 12.0%,#8ebf8b 14.9%,#a1be87 17.8%,#aabd84 20.7%,#aabd84 23.7%,#a2be86 26.6%,#95be89 29.5%,#83bf8d 32.4%,#6fc092 35.4%,#55bc9c 38.3%,#3eb9a4 41.2%,#2cb6aa 44.1%,#20b4ae 47.1%,#1db4af 50.0%,#20b4ae 52.9%,#2cb6aa 55.9%,#3eb9a4 58.8%,#55bc9c 61.7%,#6fc092 64.6%,#83bf8d 67.6%,#95be89 70.5%,#a2be86 73.4%,#aabd84 76.3%,#aabd84 79.3%,#a1be87 82.2%,#8ebf8b 85.1%,#6cbf93 88.0%,#2fb7a9 91.0%,#0faebb 93.9%,#1b98c7 96.8%,#2384c8 99.7%)"></i><i style="height:2px;background:linear-gradient(90deg,#2384c8 0.2%,#1a98c7 3.2%,#0fafbb 6.1%,#30b7a9 9.0%,#6dbf93 11.9%,#8ebf8b 14.9%,#a1be87 17.8%,#a9bd84 20.7%,#a8bd85 23.7%,#a0be87 26.6%,#92bf8a 29.5%,#80bf8e 32.4%,#69bf95 35.4%,#4fbb9e 38.3%,#37b8a7 41.2%,#24b5ad 44.1%,#1bb4b0 47.1%,#19b3b1 50.0%,#1bb4b0 52.9%,#24b5ad 55.9%,#37b8a7 58.8%,#4fbb9e 61.7%,#69bf95 64.6%,#80bf8e 67.6%,#92bf8a 70.5%,#a0be87 73.4%,#a8bd85 76.3%,#a9bd84 79.3%,#a1be87 82.2%,#8ebf8b 85.1%,#6dbf93 88.1%,#30b7a9 91.0%,#0fafbb 93.9%,#1a98c7 96.8%,#2384c8 99.8%)"></i><i style="height:2px;background:linear-gradient(90deg,#2384c8 0.2%,#1a99c7 3.1%,#0fafba 6.1%,#31b7a9 9.0%,#6dbf93 11.9%,#8ebf8b 14.9%,#a1be87 17.8%,#a8bd85 20.7%,#a7bd85 23.6%,#9ebe87 26.6%,#8fbf8b 29.5%,#7cc08f 32.4%,#64be97 35.4%,#48bba1 38.3%,#2fb7a9 41.2%,#1db4b0 44.1%,#17b3b2 47.1%,#15b3b3 50.0%,#17b3b2 52.9%,#1db4b0 55.9%,#2fb7a9 58.8%,#48bba1 61.7%,#64be97 64.6%,#7cc08f 67.6%,#8fbf8b 70.5%,#9ebe87 73.4%,#a7bd85 76.4%,#a8bd85 79.3%,#a1be87 82.2%,#8ebf8b 85.1%,#6dbf93 88.1%,#31b7a9 91.0%,#0fafba 93.9%,#1a99c7 96.9%,#2384c8 99.8%)"></i><i style="height:2px;background:linear-gradient(90deg,#2384c8 0.2%,#1a99c7 3.1%,#0fafba 6.0%,#32b7a8 9.0%,#6ebf93 11.9%,#8ebf8b 14.8%,#a0be87 17.8%,#a8bd85 20.7%,#a6bd85 23.6%,#9cbe88 26.6%,#8dbf8b 29.5%,#79c090 32.4%,#5ebd99 35.3%,#41baa3 38.3%,#28b6ac 41.2%,#19b3b1 44.1%,#13b3b4 47.1%,#11b2b5 50.0%,#13b3b4 52.9%,#19b3b1 55.9%,#28b6ac 58.8%,#41baa3 61.7%,#5ebd99 64.7%,#79c090 67.6%,#8dbf8b 70.5%,#9cbe88 73.4%,#a6bd85 76.4%,#a8bd85 79.3%,#a0be87 82.2%,#8ebf8b 85.2%,#6ebf93 88.1%,#32b7a8 91.0%,#0fafba 94.0%,#1a99c7 96.9%,#2384c8 99.8%)"></i><i style="height:2px;background:linear-gradient(90deg,#2384c8 0.1%,#1999c6 3.1%,#0fafba 6.0%,#33b7a8 8.9%,#6ebf93 11.9%,#8ebf8b 14.8%,#a0be87 17.7%,#a7bd85 20.7%,#a4bd86 23.6%,#9abe88 26.5%,#8abf8c 29.5%,#75c090 32.4%,#58bd9b 35.3%,#3ab9a6 38.3%,#20b4ae 41.2%,#15b3b3 44.1%,#0fb2b6 47.1%,#0fb2b7 50.0%,#0fb2b6 52.9%,#15b3b3 55.9%,#20b4ae 58.8%,#3ab9a6 61.7%,#58bd9b 64.7%,#75c090 67.6%,#8abf8c 70.5%,#9abe88 73.5%,#a4bd86 76.4%,#a7bd85 79.3%,#a0be87 82.3%,#8ebf8b 85.2%,#6ebf93 88.1%,#33b7a8 91.1%,#0fafba 94.0%,#1999c6 96.9%,#2384c8 99.9%)"></i><i style="height:2px;background:linear-gradient(90deg,#2384c8 0.1%,#199ac6 3.1%,#0fafba 6.0%,#33b8a8 8.9%,#6ebf93 11.9%,#8ebf8b 14.8%,#a0be87 17.7%,#a6bd85 20.7%,#a3be86 23.6%,#98be89 26.5%,#87bf8d 29.5%,#71c092 32.4%,#52bc9d 35.3%,#34b8a8 38.3%,#1cb4b0 41.2%,#12b2b5 44.1%,#0fb1b7 47.1%,#0fb1b8 50.0%,#0fb1b7 52.9%,#12b2b5 55.9%,#1cb4b0 58.8%,#34b8a8 61.7%,#52bc9d 64.7%,#71c092 67.6%,#87bf8d 70.5%,#98be89 73.5%,#a3be86 76.4%,#a6bd85 79.3%,#a0be87 82.3%,#8ebf8b 85.2%,#6ebf93 88.1%,#33b8a8 91.1%,#0fafba 94.0%,#199ac6 96.9%,#2384c8 99.9%)"></i><i style="height:2px;background:linear-gradient(90deg,#2384c8 0.1%,#189ac6 3.0%,#0fafba 6.0%,#34b8a8 8.9%,#6ebf93 11.8%,#8dbf8b 14.8%,#9fbe87 17.7%,#a5bd86 20.6%,#a2be86 23.6%,#96be89 26.5%,#84bf8d 29.5%,#6dbf93 32.4%,#4dbb9f 35.3%,#2db7aa 38.3%,#18b3b2 41.2%,#0fb2b6 44.1%,#0fb0b9 47.1%,#0fb0b9 50.0%,#0fb0b9 52.9%,#0fb2b6 55.9%,#18b3b2 58.8%,#2db7aa 61.7%,#4dbb9f 64.7%,#6dbf93 67.6%,#84bf8d 70.5%,#96be89 73.5%,#a2be86 76.4%,#a5bd86 79.4%,#9fbe87 82.3%,#8dbf8b 85.2%,#6ebf93 88.2%,#34b8a8 91.1%,#0fafba 94.0%,#189ac6 97.0%,#2384c8 99.9%)"></i><i style="height:2px;background:linear-gradient(90deg,#2384c8 0.1%,#189ac6 3.0%,#0fafba 6.0%,#34b8a8 8.9%,#6fbf93 11.8%,#8dbf8b 14.8%,#9fbe87 17.7%,#a4bd86 20.6%,#a0be87 23.6%,#94bf8a 26.5%,#82bf8e 29.4%,#68bf95 32.4%,#47baa1 35.3%,#27b5ac 38.3%,#15b3b3 41.2%,#0fb1b8 44.1%,#0fafba 47.1%,#0fafbb 50.0%,#0fafba 52.9%,#0fb1b8 55.9%,#15b3b3 58.8%,#27b5ac 61.7%,#47baa1 64.7%,#68bf95 67.6%,#82bf8e 70.6%,#94bf8a 73.5%,#a0be87 76.4%,#a4bd86 79.4%,#9fbe87 82.3%,#8dbf8b 85.2%,#6fbf93 88.2%,#34b8a8 91.1%,#0fafba 94.0%,#189ac6 97.0%,#2384c8 99.9%)"></i><i style="height:2px;background:linear-gradient(90deg,#2385c8 0.1%,#179ac6 3.0%,#0fafb9 5.9%,#35b8a7 8.9%,#6fbf93 11.8%,#8dbf8b 14.8%,#9ebe87 17.7%,#a3be86 20.6%,#9fbe87 23.6%,#92bf8a 26.5%,#7fbf8e 29.4%,#63be97 32.4%,#42baa3 35.3%,#20b4ae 38.3%,#11b2b5 41.2%,#0fb0b9 44.1%,#0faebb 47.1%,#0faebc 50.0%,#0faebb 52.9%,#0fb0b9 55.9%,#11b2b5 58.8%,#20b4ae 61.7%,#42baa3 64.7%,#63be97 67.6%,#7fbf8e 70.6%,#92bf8a 73.5%,#9fbe87 76.4%,#a3be86 79.4%,#9ebe87 82.3%,#8dbf8b 85.2%,#6fbf93 88.2%,#35b8a7 91.1%,#0fafb9 94.1%,#179ac6 97.0%,#2385c8 99.9%)"></i><i style="height:2px;background:linear-gradient(90deg,#2385c8 0.0%,#179bc6 3.0%,#0fb0b9 5.9%,#36b8a7 8.9%,#6fbf93 11.8%,#8dbf8b 14.7%,#9dbe88 17.7%,#a2be86 20.6%,#9dbe88 23.6%,#90bf8b 26.5%,#7cc08f 29.4%,#5fbd98 32.4%,#3cb9a5 35.3%,#1cb4b0 38.2%,#0fb2b6 41.2%,#0fafba 44.1%,#0fadbc 47.1%,#0fadbd 50.0%,#0fadbc 52.9%,#0fafba 55.9%,#0fb2b6 58.8%,#1cb4b0 61.8%,#3cb9a5 64.7%,#5fbd98 67.6%,#7cc08f 70.6%,#90bf8b 73.5%,#9dbe88 76.4%,#a2be86 79.4%,#9dbe88 82.3%,#8dbf8b 85.3%,#6fbf93 88.2%,#36b8a7 91.1%,#0fb0b9 94.1%,#179bc6 97.0%,#2385c8 100.0%)"></i><i style="height:2px;background:linear-gradient(90deg,#2385c8 0.0%,#179bc6 3.0%,#0fb0b9 5.9%,#36b8a7 8.9%,#6fbf92 11.8%,#8dbf8b 14.7%,#9dbe88 17.7%,#a1be87 20.6%,#9cbe88 23.5%,#8ebf8b 26.5%,#79c090 29.4%,#5abd9a 32.4%,#36b8a7 35.3%,#19b3b1 38.2%,#0fb1b7 41.2%,#0faebb 44.1%,#0facbe 47.1%,#0fabbe 50.0%,#0facbe 52.9%,#0faebb 55.9%,#0fb1b7 58.8%,#19b3b1 61.8%,#36b8a7 64.7%,#5abd9a 67.6%,#79c090 70.6%,#8ebf8b 73.5%,#9cbe88 76.5%,#a1be87 79.4%,#9dbe88 82.3%,#8dbf8b 85.3%,#6fbf92 88.2%,#36b8a7 91.1%,#0fb0b9 94.1%,#179bc6 97.0%,#2385c8 100.0%)"></i><i style="height:2px;background:linear-gradient(90deg,#2385c8 0.0%,#169bc5 3.0%,#0fb0b9 5.9%,#36b8a7 8.8%,#6fbf92 11.8%,#8cbf8b 14.7%,#9cbe88 17.7%,#a0be87 20.6%,#9abe88 23.5%,#8cbf8c 26.5%,#77c090 29.4%,#56bc9c 32.4%,#31b7a9 35.3%,#16b3b3 38.2%,#0fb0b8 41.2%,#0fadbc 44.1%,#0fabbf 47.1%,#0fa9bf 50.0%,#0fabbf 52.9%,#0fadbc 55.9%,#0fb0b8 58.8%,#16b3b3 61.8%,#31b7a9 64.7%,#56bc9c 67.6%,#77c090 70.6%,#8cbf8c 73.5%,#9abe88 76.5%,#a0be87 79.4%,#9cbe88 82.3%,#8cbf8b 85.3%,#6fbf92 88.2%,#36b8a7 91.2%,#0fb0b9 94.1%,#169bc5 97.0%,#2385c8 100.0%)"></i><i style="height:2px;background:linear-gradient(90deg,#2385c8 0.0%,#169bc5 3.0%,#0fb0b9 5.9%,#37b8a7 8.8%,#6fbf93 11.8%,#8cbf8b 14.7%,#9bbe88 17.7%,#9fbe87 20.6%,#99be89 23.5%,#8abf8c 26.5%,#74c091 29.4%,#51bc9d 32.4%,#2bb6ab 35.3%,#13b3b4 38.2%,#0fafba 41.2%,#0facbe 44.1%,#0fa8bf 47.1%,#0fa7c0 50.0%,#0fa8bf 52.9%,#0facbe 55.9%,#0fafba 58.8%,#13b3b4 61.8%,#2bb6ab 64.7%,#51bc9d 67.6%,#74c091 70.6%,#8abf8c 73.5%,#99be89 76.5%,#9fbe87 79.4%,#9bbe88 82.3%,#8cbf8b 85.3%,#6fbf93 88.2%,#37b8a7 91.2%,#0fb0b9 94.1%,#169bc5 97.0%,#2385c8 100.0%)"></i><i style="height:2px;background:linear-gradient(90deg,#2385c9 0.0%,#169cc5 2.9%,#0fb0b9 5.9%,#37b8a7 8.8%,#6fbf93 11.8%,#8bbf8c 14.7%,#9bbe88 17.7%,#9ebe87 20.6%,#97be89 23.5%,#87bf8c 26.5%,#70c092 29.4%,#4cbb9f 32.4%,#26b5ac 35.3%,#10b2b5 38.2%,#0fafbb 41.2%,#0fabbe 44.1%,#0fa6c0 47.1%,#0fa5c1 50.0%,#0fa6c0 52.9%,#0fabbe 55.9%,#0fafbb 58.8%,#10b2b5 61.8%,#26b5ac 64.7%,#4cbb9f 67.6%,#70c092 70.6%,#87bf8c 73.5%,#97be89 76.5%,#9ebe87 79.4%,#9bbe88 82.3%,#8bbf8c 85.3%,#6fbf93 88.2%,#37b8a7 91.2%,#0fb0b9 94.1%,#169cc5 97.1%,#2385c9 100.0%)"></i><i style="height:2px;background:linear-gradient(90deg,#2385c9 0.0%,#159cc5 2.9%,#0fb0b9 5.9%,#37b8a7 8.8%,#6fbf93 11.8%,#8bbf8c 14.7%,#9abe88 17.6%,#9dbe88 20.6%,#95be89 23.5%,#85bf8d 26.5%,#6dbf93 29.4%,#48bba1 32.4%,#21b4ae 35.3%,#0fb2b6 38.2%,#0faebc 41.2%,#0fa9bf 44.1%,#0fa4c1 47.1%,#0fa3c2 50.0%,#0fa4c1 52.9%,#0fa9bf 55.9%,#0faebc 58.8%,#0fb2b6 61.8%,#21b4ae 64.7%,#48bba1 67.6%,#6dbf93 70.6%,#85bf8d 73.5%,#95be89 76.5%,#9dbe88 79.4%,#9abe88 82.4%,#8bbf8c 85.3%,#6fbf93 88.2%,#37b8a7 91.2%,#0fb0b9 94.1%,#159cc5 97.1%,#2385c9 100.0%)"></i><i style="height:2px;background:linear-gradient(90deg,#2385c9 0.0%,#159cc5 2.9%,#0fb0b9 5.9%,#38b8a6 8.8%,#6ebf93 11.8%,#8bbf8c 14.7%,#99be89 17.6%,#9cbe88 20.6%,#94bf8a 23.5%,#83bf8d 26.5%,#69bf95 29.4%,#43baa2 32.4%,#1db4b0 35.3%,#0fb1b7 38.2%,#0fadbd 41.2%,#0fa7c0 44.1%,#0fa2c2 47.1%,#0fa1c3 50.0%,#0fa2c2 52.9%,#0fa7c0 55.9%,#0fadbd 58.8%,#0fb1b7 61.8%,#1db4b0 64.7%,#43baa2 67.6%,#69bf95 70.6%,#83bf8d 73.5%,#94bf8a 76.5%,#9cbe88 79.4%,#99be89 82.4%,#8bbf8c 85.3%,#6ebf93 88.2%,#38b8a6 91.2%,#0fb0b9 94.1%,#159cc5 97.1%,#2385c9 100.0%)"></i><i style="height:2px;background:linear-gradient(90deg,#2385c9 0.0%,#159cc5 2.9%,#0fb0b8 5.9%,#38b8a6 8.8%,#6ebf93 11.8%,#8abf8c 14.7%,#98be89 17.6%,#9abe88 20.6%,#92bf8a 23.5%,#81bf8e 26.5%,#65be96 29.4%,#3fb9a4 32.4%,#1ab4b1 35.3%,#0fb0b8 38.2%,#0facbe 41.2%,#0fa5c1 44.1%,#0fa0c3 47.1%,#119fc4 50.0%,#0fa0c3 52.9%,#0fa5c1 55.9%,#0facbe 58.8%,#0fb0b8 61.8%,#1ab4b1 64.7%,#3fb9a4 67.6%,#65be96 70.6%,#81bf8e 73.5%,#92bf8a 76.5%,#9abe88 79.4%,#98be89 82.4%,#8abf8c 85.3%,#6ebf93 88.2%,#38b8a6 91.2%,#0fb0b8 94.1%,#159cc5 97.1%,#2385c9 100.0%)"></i><i style="height:2px;background:linear-gradient(90deg,#2385c9 0.0%,#149dc5 2.9%,#0fb0b8 5.9%,#38b8a6 8.8%,#6ebf93 11.8%,#89bf8c 14.7%,#97be89 17.6%,#99be89 20.6%,#90bf8b 23.5%,#7fbf8e 26.5%,#62be97 29.4%,#3bb9a5 32.4%,#18b3b2 35.3%,#0fb0b9 38.2%,#0fabbf 41.2%,#0fa3c2 44.1%,#119fc4 47.1%,#139dc4 50.0%,#119fc4 52.9%,#0fa3c2 55.9%,#0fabbf 58.8%,#0fb0b9 61.8%,#18b3b2 64.7%,#3bb9a5 67.6%,#62be97 70.6%,#7fbf8e 73.5%,#90bf8b 76.5%,#99be89 79.4%,#97be89 82.4%,#89bf8c 85.3%,#6ebf93 88.2%,#38b8a6 91.2%,#0fb0b8 94.1%,#149dc5 97.1%,#2385c9 100.0%)"></i><i style="height:2px;background:linear-gradient(90deg,#2385c9 0.0%,#149dc5 2.9%,#0fb0b8 5.9%,#38b8a6 8.8%,#6dbf93 11.8%,#89bf8c 14.7%,#96be89 17.7%,#98be89 20.6%,#8ebf8b 23.5%,#7cc08f 26.5%,#5ebd99 29.4%,#36b8a7 32.4%,#16b3b3 35.3%,#0fafba 38.2%,#0fa9bf 41.2%,#0fa1c2 44.1%,#139dc4 47.1%,#169cc5 50.0%,#139dc4 52.9%,#0fa1c2 55.9%,#0fa9bf 58.8%,#0fafba 61.8%,#16b3b3 64.7%,#36b8a7 67.6%,#5ebd99 70.6%,#7cc08f 73.5%,#8ebf8b 76.5%,#98be89 79.4%,#96be89 82.3%,#89bf8c 85.3%,#6dbf93 88.2%,#38b8a6 91.2%,#0fb0b8 94.1%,#149dc5 97.1%,#2385c9 100.0%)"></i><i style="height:2px;background:linear-gradient(90deg,#2385c9 0.0%,#149dc5 3.0%,#0fb0b8 5.9%,#38b8a6 8.8%,#6dbf93 11.8%,#88bf8c 14.7%,#95be89 17.7%,#96be89 20.6%,#8dbf8b 23.5%,#7ac08f 26.5%,#5abd9a 29.4%,#32b7a8 32.4%,#13b3b4 35.3%,#0faebb 38.2%,#0fa7c0 41.2%,#10a0c3 44.1%,#169bc5 47.1%,#189ac6 50.0%,#169bc5 52.9%,#10a0c3 55.9%,#0fa7c0 58.8%,#0faebb 61.8%,#13b3b4 64.7%,#32b7a8 67.6%,#5abd9a 70.6%,#7ac08f 73.5%,#8dbf8b 76.5%,#96be89 79.4%,#95be89 82.3%,#88bf8c 85.3%,#6dbf93 88.2%,#38b8a6 91.2%,#0fb0b8 94.1%,#149dc5 97.0%,#2385c9 100.0%)"></i><i style="height:2px;background:linear-gradient(90deg,#2385c9 0.0%,#139dc4 3.0%,#0fb0b8 5.9%,#38b8a6 8.8%,#6cbf93 11.8%,#87bf8c 14.7%,#94bf8a 17.7%,#95be89 20.6%,#8bbf8c 23.5%,#78c090 26.5%,#56bc9b 29.4%,#2db7aa 32.4%,#11b2b5 35.3%,#0faebc 38.2%,#0fa5c1 41.2%,#129ec4 44.1%,#189ac6 47.1%,#1a98c7 50.0%,#189ac6 52.9%,#129ec4 55.9%,#0fa5c1 58.8%,#0faebc 61.8%,#11b2b5 64.7%,#2db7aa 67.6%,#56bc9b 70.6%,#78c090 73.5%,#8bbf8c 76.5%,#95be89 79.4%,#94bf8a 82.3%,#87bf8c 85.3%,#6cbf93 88.2%,#38b8a6 91.2%,#0fb0b8 94.1%,#139dc4 97.0%,#2385c9 100.0%)"></i><i style="height:2px;background:linear-gradient(90deg,#2385c9 0.0%,#139dc4 3.0%,#0fb0b8 5.9%,#38b8a6 8.9%,#6cbf94 11.8%,#87bf8d 14.7%,#93bf8a 17.7%,#93bf8a 20.6%,#89bf8c 23.5%,#76c090 26.5%,#53bc9d 29.4%,#29b6ab 32.4%,#0fb2b6 35.3%,#0fadbd 38.2%,#0fa4c1 41.2%,#149dc5 44.1%,#1a98c7 47.1%,#1d97c8 50.0%,#1a98c7 52.9%,#149dc5 55.9%,#0fa4c1 58.8%,#0fadbd 61.8%,#0fb2b6 64.7%,#29b6ab 67.6%,#53bc9d 70.6%,#76c090 73.5%,#89bf8c 76.5%,#93bf8a 79.4%,#93bf8a 82.3%,#87bf8d 85.3%,#6cbf94 88.2%,#38b8a6 91.1%,#0fb0b8 94.1%,#139dc4 97.0%,#2385c9 100.0%)"></i><i style="height:2px;background:linear-gradient(90deg,#2385c9 0.0%,#139ec4 3.0%,#0fb1b8 5.9%,#38b8a6 8.9%,#6bbf94 11.8%,#86bf8d 14.7%,#92bf8a 17.7%,#92bf8a 20.6%,#87bf8d 23.6%,#73c091 26.5%,#4fbb9e 29.4%,#24b5ad 32.4%,#0fb1b7 35.3%,#0facbe 38.2%,#0fa2c2 41.2%,#169bc5 44.1%,#1d97c8 47.1%,#1e95c8 50.0%,#1d97c8 52.9%,#169bc5 55.9%,#0fa2c2 58.8%,#0facbe 61.8%,#0fb1b7 64.7%,#24b5ad 67.6%,#4fbb9e 70.6%,#73c091 73.5%,#87bf8d 76.4%,#92bf8a 79.4%,#92bf8a 82.3%,#86bf8d 85.3%,#6bbf94 88.2%,#38b8a6 91.1%,#0fb1b8 94.1%,#139ec4 97.0%,#2385c9 100.0%)"></i><i style="height:2px;background:linear-gradient(90deg,#2385c9 0.1%,#129ec4 3.0%,#0fb1b8 5.9%,#37b8a7 8.9%,#6abf94 11.8%,#85bf8d 14.7%,#91bf8a 17.7%,#90bf8a 20.6%,#85bf8d 23.6%,#70c092 26.5%,#4bbb9f 29.4%,#20b4ae 32.4%,#0fb1b8 35.3%,#0fabbe 38.2%,#0fa1c3 41.2%,#189ac6 44.1%,#1e95c8 47.1%,#1f94c9 50.0%,#1e95c8 52.9%,#189ac6 55.9%,#0fa1c3 58.8%,#0fabbe 61.8%,#0fb1b8 64.7%,#20b4ae 67.6%,#4bbb9f 70.6%,#70c092 73.5%,#85bf8d 76.4%,#90bf8a 79.4%,#91bf8a 82.3%,#85bf8d 85.3%,#6abf94 88.2%,#37b8a7 91.1%,#0fb1b8 94.1%,#129ec4 97.0%,#2385c9 99.9%)"></i><i style="height:2px;background:linear-gradient(90deg,#2385c9 0.1%,#129ec4 3.0%,#0fb1b8 6.0%,#37b8a7 8.9%,#69bf94 11.8%,#84bf8d 14.8%,#8fbf8b 17.7%,#8fbf8b 20.6%,#83bf8d 23.6%,#6dbf93 26.5%,#48baa1 29.4%,#1db4af 32.4%,#0fb0b8 35.3%,#0faabf 38.3%,#109fc3 41.2%,#1b98c7 44.1%,#1f94c9 47.1%,#2092ca 50.0%,#1f94c9 52.9%,#1b98c7 55.9%,#109fc3 58.8%,#0faabf 61.7%,#0fb0b8 64.7%,#1db4af 67.6%,#48baa1 70.6%,#6dbf93 73.5%,#83bf8d 76.4%,#8fbf8b 79.4%,#8fbf8b 82.3%,#84bf8d 85.2%,#69bf94 88.2%,#37b8a7 91.1%,#0fb1b8 94.0%,#129ec4 97.0%,#2385c9 99.9%)"></i><i style="height:2px;background:linear-gradient(90deg,#2385c9 0.1%,#129ec4 3.0%,#0fb1b8 6.0%,#37b8a7 8.9%,#69bf95 11.8%,#83bf8d 14.8%,#8ebf8b 17.7%,#8dbf8b 20.6%,#81bf8e 23.6%,#6abf94 26.5%,#44baa2 29.5%,#1bb4b0 32.4%,#0fb0b9 35.3%,#0fa8c0 38.3%,#129ec4 41.2%,#1d97c8 44.1%,#2093ca 47.1%,#2091ca 50.0%,#2093ca 52.9%,#1d97c8 55.9%,#129ec4 58.8%,#0fa8c0 61.7%,#0fb0b9 64.7%,#1bb4b0 67.6%,#44baa2 70.5%,#6abf94 73.5%,#81bf8e 76.4%,#8dbf8b 79.4%,#8ebf8b 82.3%,#83bf8d 85.2%,#69bf95 88.2%,#37b8a7 91.1%,#0fb1b8 94.0%,#129ec4 97.0%,#2385c9 99.9%)"></i><i style="height:2px;background:linear-gradient(90deg,#2385c9 0.1%,#129ec4 3.1%,#0fb1b8 6.0%,#36b8a7 8.9%,#68bf95 11.9%,#82bf8e 14.8%,#8dbf8b 17.7%,#8bbf8c 20.7%,#7fbf8e 23.6%,#67be95 26.5%,#40baa3 29.5%,#19b3b1 32.4%,#0fafba 35.3%,#0fa7c0 38.3%,#149dc5 41.2%,#1e96c8 44.1%,#2091ca 47.1%,#2190cb 50.0%,#2091ca 52.9%,#1e96c8 55.9%,#149dc5 58.8%,#0fa7c0 61.7%,#0fafba 64.7%,#19b3b1 67.6%,#40baa3 70.5%,#67be95 73.5%,#7fbf8e 76.4%,#8bbf8c 79.3%,#8dbf8b 82.3%,#82bf8e 85.2%,#68bf95 88.1%,#36b8a7 91.1%,#0fb1b8 94.0%,#129ec4 96.9%,#2385c9 99.9%)"></i><i style="height:2px;background:linear-gradient(90deg,#2385c9 0.1%,#119ec4 3.1%,#0fb1b8 6.0%,#36b8a7 8.9%,#67be95 11.9%,#81bf8e 14.8%,#8bbf8c 17.7%,#8abf8c 20.7%,#7dc08f 23.6%,#64be97 26.5%,#3db9a5 29.5%,#17b3b2 32.4%,#0fafbb 35.3%,#0fa5c1 38.3%,#169bc5 41.2%,#1f94c9 44.1%,#2190cb 47.1%,#228ecc 50.0%,#2190cb 52.9%,#1f94c9 55.9%,#169bc5 58.8%,#0fa5c1 61.7%,#0fafbb 64.7%,#17b3b2 67.6%,#3db9a5 70.5%,#64be97 73.5%,#7dc08f 76.4%,#8abf8c 79.3%,#8bbf8c 82.3%,#81bf8e 85.2%,#67be95 88.1%,#36b8a7 91.1%,#0fb1b8 94.0%,#119ec4 96.9%,#2385c9 99.9%)"></i><i style="height:2px;background:linear-gradient(90deg,#2385c9 0.2%,#119ec4 3.1%,#0fb1b8 6.0%,#36b8a7 9.0%,#66be96 11.9%,#80bf8e 14.8%,#8abf8c 17.8%,#88bf8c 20.7%,#7bc08f 23.6%,#60be98 26.6%,#39b8a6 29.5%,#15b3b3 32.4%,#0faebb 35.3%,#0fa4c1 38.3%,#189ac6 41.2%,#1f93c9 44.1%,#228fcc 47.1%,#238dcd 50.0%,#228fcc 52.9%,#1f93c9 55.9%,#189ac6 58.8%,#0fa4c1 61.7%,#0faebb 64.7%,#15b3b3 67.6%,#39b8a6 70.5%,#60be98 73.4%,#7bc08f 76.4%,#88bf8c 79.3%,#8abf8c 82.2%,#80bf8e 85.2%,#66be96 88.1%,#36b8a7 91.0%,#0fb1b8 94.0%,#119ec4 96.9%,#2385c9 99.8%)"></i><i style="height:2px;background:linear-gradient(90deg,#2385c9 0.2%,#119fc4 3.1%,#0fb1b8 6.1%,#35b8a7 9.0%,#65be96 11.9%,#7fbf8e 14.8%,#88bf8c 17.8%,#86bf8d 20.7%,#79c090 23.6%,#5dbd99 26.6%,#35b8a7 29.5%,#13b3b4 32.4%,#0fadbc 35.4%,#0fa3c2 38.3%,#1999c6 41.2%,#2092ca 44.1%,#228dcc 47.1%,#238ccd 50.0%,#228dcc 52.9%,#2092ca 55.9%,#1999c6 58.8%,#0fa3c2 61.7%,#0fadbc 64.6%,#13b3b4 67.6%,#35b8a7 70.5%,#5dbd99 73.4%,#79c090 76.4%,#86bf8d 79.3%,#88bf8c 82.2%,#7fbf8e 85.2%,#65be96 88.1%,#35b8a7 91.0%,#0fb1b8 93.9%,#119fc4 96.9%,#2385c9 99.8%)"></i><i style="height:2px;background:linear-gradient(90deg,#2385c9 0.2%,#119fc4 3.2%,#0fb1b8 6.1%,#34b8a8 9.0%,#63be97 11.9%,#7dc08f 14.9%,#87bf8d 17.8%,#84bf8d 20.7%,#77c090 23.7%,#5abd9a 26.6%,#32b7a8 29.5%,#12b2b5 32.4%,#0fadbd 35.4%,#0fa1c2 38.3%,#1b98c7 41.2%,#2191cb 44.1%,#238ccd 47.1%,#238bcc 50.0%,#238ccd 52.9%,#2191cb 55.9%,#1b98c7 58.8%,#0fa1c2 61.7%,#0fadbd 64.6%,#12b2b5 67.6%,#32b7a8 70.5%,#5abd9a 73.4%,#77c090 76.3%,#84bf8d 79.3%,#87bf8d 82.2%,#7dc08f 85.1%,#63be97 88.1%,#34b8a8 91.0%,#0fb1b8 93.9%,#119fc4 96.8%,#2385c9 99.8%)"></i><i style="height:2px;background:linear-gradient(90deg,#2385c9 0.3%,#119fc4 3.2%,#0fb1b8 6.1%,#34b8a8 9.0%,#62be97 12.0%,#7cc08f 14.9%,#85bf8d 17.8%,#82bf8e 20.7%,#75c091 23.7%,#57bc9b 26.6%,#2eb7aa 29.5%,#10b2b6 32.4%,#0facbd 35.4%,#0fa0c3 38.3%,#1d97c8 41.2%,#218fcb 44.1%,#238bcc 47.1%,#238acc 50.0%,#238bcc 52.9%,#218fcb 55.9%,#1d97c8 58.8%,#0fa0c3 61.7%,#0facbd 64.6%,#10b2b6 67.6%,#2eb7aa 70.5%,#57bc9b 73.4%,#75c091 76.3%,#82bf8e 79.3%,#85bf8d 82.2%,#7cc08f 85.1%,#62be97 88.0%,#34b8a8 91.0%,#0fb1b8 93.9%,#119fc4 96.8%,#2385c9 99.7%)"></i><i style="height:2px;background:linear-gradient(90deg,#2385c9 0.3%,#119fc4 3.2%,#0fb1b8 6.1%,#33b7a8 9.1%,#61be98 12.0%,#7bc08f 14.9%,#84bf8d 17.8%,#81bf8e 20.8%,#73c091 23.7%,#53bc9c 26.6%,#2ab6ab 29.5%,#0fb2b6 32.5%,#0facbe 35.4%,#109fc3 38.3%,#1e96c8 41.2%,#228ecc 44.2%,#238acc 47.1%,#2389cb 50.0%,#238acc 52.9%,#228ecc 55.8%,#1e96c8 58.8%,#109fc3 61.7%,#0facbe 64.6%,#0fb2b6 67.5%,#2ab6ab 70.5%,#53bc9c 73.4%,#73c091 76.3%,#81bf8e 79.2%,#84bf8d 82.2%,#7bc08f 85.1%,#61be98 88.0%,#33b7a8 90.9%,#0fb1b8 93.9%,#119fc4 96.8%,#2385c9 99.7%)"></i><i style="height:2px;background:linear-gradient(90deg,#2385c9 0.3%,#109fc3 3.3%,#0fb1b8 6.2%,#32b7a8 9.1%,#5fbe98 12.0%,#79c090 14.9%,#82bf8e 17.9%,#7fbf8e 20.8%,#70c092 23.7%,#50bc9e 26.6%,#27b5ac 29.6%,#0fb1b7 32.5%,#0fabbf 35.4%,#129ec4 38.3%,#1f95c9 41.2%,#228dcc 44.2%,#2389cb 47.1%,#2388ca 50.0%,#2389cb 52.9%,#228dcc 55.8%,#1f95c9 58.8%,#129ec4 61.7%,#0fabbf 64.6%,#0fb1b7 67.5%,#27b5ac 70.4%,#50bc9e 73.4%,#70c092 76.3%,#7fbf8e 79.2%,#82bf8e 82.1%,#79c090 85.1%,#5fbe98 88.0%,#32b7a8 90.9%,#0fb1b8 93.8%,#109fc3 96.7%,#2385c9 99.7%)"></i><i style="height:2px;background:linear-gradient(90deg,#2385c9 0.4%,#109fc3 3.3%,#0fb1b8 6.2%,#31b7a9 9.1%,#5ebd99 12.1%,#78c090 15.0%,#80bf8e 17.9%,#7dc08f 20.8%,#6dbf93 23.7%,#4dbb9f 26.6%,#23b5ad 29.6%,#0fb1b8 32.5%,#0fa9bf 35.4%,#149dc5 38.3%,#1f93c9 41.2%,#238ccd 44.2%,#2388cb 47.1%,#2387ca 50.0%,#2388cb 52.9%,#238ccd 55.8%,#1f93c9 58.8%,#149dc5 61.7%,#0fa9bf 64.6%,#0fb1b8 67.5%,#23b5ad 70.4%,#4dbb9f 73.4%,#6dbf93 76.3%,#7dc08f 79.2%,#80bf8e 82.1%,#78c090 85.0%,#5ebd99 87.9%,#31b7a9 90.9%,#0fb1b8 93.8%,#109fc3 96.7%,#2385c9 99.6%)"></i><i style="height:2px;background:linear-gradient(90deg,#2385c9 0.4%,#109fc3 3.3%,#0fb1b8 6.3%,#30b7a9 9.2%,#5cbd99 12.1%,#76c090 15.0%,#7ebf8e 17.9%,#7bc08f 20.8%,#6abf94 23.8%,#49bba0 26.7%,#1fb4af 29.6%,#0fb0b8 32.5%,#0fa8c0 35.4%,#159cc5 38.3%,#2092ca 41.3%,#238bcd 44.2%,#2387ca 47.1%,#2386c9 50.0%,#2387ca 52.9%,#238bcd 55.8%,#2092ca 58.7%,#159cc5 61.7%,#0fa8c0 64.6%,#0fb0b8 67.5%,#1fb4af 70.4%,#49bba0 73.3%,#6abf94 76.2%,#7bc08f 79.2%,#7ebf8e 82.1%,#76c090 85.0%,#5cbd99 87.9%,#30b7a9 90.8%,#0fb1b8 93.7%,#109fc3 96.7%,#2385c9 99.6%)"></i><i style="height:2px;background:linear-gradient(90deg,#2385c9 0.5%,#109fc3 3.4%,#0fb1b8 6.3%,#2fb7a9 9.2%,#5bbd9a 12.1%,#75c091 15.0%,#7dc08f 17.9%,#79c090 20.9%,#67be95 23.8%,#46baa1 26.7%,#1db4af 29.6%,#0fb0b9 32.5%,#0fa7c0 35.4%,#169bc5 38.3%,#2091ca 41.3%,#238acc 44.2%,#2387ca 47.1%,#2385c9 50.0%,#2387ca 52.9%,#238acc 55.8%,#2091ca 58.7%,#169bc5 61.7%,#0fa7c0 64.6%,#0fb0b9 67.5%,#1db4af 70.4%,#46baa1 73.3%,#67be95 76.2%,#79c090 79.1%,#7dc08f 82.1%,#75c091 85.0%,#5bbd9a 87.9%,#2fb7a9 90.8%,#0fb1b8 93.7%,#109fc3 96.6%,#2385c9 99.5%)"></i><i style="height:2px;background:linear-gradient(90deg,#2385c9 0.5%,#109fc3 3.4%,#0fb0b8 6.3%,#2eb7aa 9.2%,#59bd9a 12.2%,#73c091 15.1%,#7bc08f 18.0%,#77c090 20.9%,#64be97 23.8%,#43baa3 26.7%,#1bb4b0 29.6%,#0fafb9 32.5%,#0fa6c0 35.4%,#189ac6 38.4%,#2190cb 41.3%,#238acb 44.2%,#2386c9 47.1%,#2384c8 50.0%,#2386c9 52.9%,#238acb 55.8%,#2190cb 58.7%,#189ac6 61.6%,#0fa6c0 64.6%,#0fafb9 67.5%,#1bb4b0 70.4%,#43baa3 73.3%,#64be97 76.2%,#77c090 79.1%,#7bc08f 82.0%,#73c091 84.9%,#59bd9a 87.8%,#2eb7aa 90.8%,#0fb0b8 93.7%,#109fc3 96.6%,#2385c9 99.5%)"></i><i style="height:2px;background:linear-gradient(90deg,#2385c9 0.6%,#109fc3 3.5%,#0fb0b8 6.4%,#2db7aa 9.3%,#58bd9b 12.2%,#71c092 15.1%,#79c090 18.0%,#74c091 20.9%,#60be98 23.8%,#40b9a4 26.7%,#1ab3b1 29.6%,#0fafba 32.6%,#0fa5c1 35.5%,#1999c6 38.4%,#2190cb 41.3%,#2389cb 44.2%,#2385c9 47.1%,#2384c8 50.0%,#2385c9 52.9%,#2389cb 55.8%,#2190cb 58.7%,#1999c6 61.6%,#0fa5c1 64.5%,#0fafba 67.4%,#1ab3b1 70.4%,#40b9a4 73.3%,#60be98 76.2%,#74c091 79.1%,#79c090 82.0%,#71c092 84.9%,#58bd9b 87.8%,#2db7aa 90.7%,#0fb0b8 93.6%,#109fc3 96.5%,#2385c9 99.4%)"></i><i style="height:2px;background:linear-gradient(90deg,#2385c9 0.6%,#109fc3 3.5%,#0fb0b8 6.4%,#2cb6aa 9.3%,#56bc9c 12.2%,#6fc092 15.1%,#77c090 18.0%,#72c091 20.9%,#5dbd99 23.9%,#3cb9a5 26.8%,#18b3b2 29.7%,#0fafbb 32.6%,#0fa4c1 35.5%,#1b98c7 38.4%,#228fcc 41.3%,#2388cb 44.2%,#2384c8 47.1%,#2283c7 50.0%,#2384c8 52.9%,#2388cb 55.8%,#228fcc 58.7%,#1b98c7 61.6%,#0fa4c1 64.5%,#0fafbb 67.4%,#18b3b2 70.3%,#3cb9a5 73.2%,#5dbd99 76.1%,#72c091 79.1%,#77c090 82.0%,#6fc092 84.9%,#56bc9c 87.8%,#2cb6aa 90.7%,#0fb0b8 93.6%,#109fc3 96.5%,#2385c9 99.4%)"></i><i style="height:2px;background:linear-gradient(90deg,#2385c9 0.7%,#109fc3 3.6%,#0fb0b8 6.5%,#2bb6ab 9.4%,#54bc9c 12.3%,#6dbf93 15.2%,#75c091 18.1%,#6fc092 21.0%,#5abd9a 23.9%,#39b8a6 26.8%,#16b3b3 29.7%,#0faebb 32.6%,#0fa3c2 35.5%,#1c97c7 38.4%,#228ecc 41.3%,#2387ca 44.2%,#2383c7 47.1%,#2282c6 50.0%,#2383c7 52.9%,#2387ca 55.8%,#228ecc 58.7%,#1c97c7 61.6%,#0fa3c2 64.5%,#0faebb 67.4%,#16b3b3 70.3%,#39b8a6 73.2%,#5abd9a 76.1%,#6fc092 79.0%,#75c091 81.9%,#6dbf93 84.8%,#54bc9c 87.7%,#2bb6ab 90.6%,#0fb0b8 93.5%,#109fc3 96.4%,#2385c9 99.3%)"></i><i style="height:2px;background:linear-gradient(90deg,#2385c9 0.7%,#109fc3 3.6%,#0fb0b8 6.5%,#2ab6ab 9.4%,#52bc9d 12.3%,#6bbf94 15.2%,#73c091 18.1%,#6cbf93 21.0%,#57bc9b 23.9%,#35b8a7 26.8%,#15b3b3 29.7%,#0faebc 32.6%,#0fa2c2 35.5%,#1d97c8 38.4%,#238dcd 41.3%,#2387ca 44.2%,#2282c6 47.1%,#2181c5 50.0%,#2282c6 52.9%,#2387ca 55.8%,#238dcd 58.7%,#1d97c8 61.6%,#0fa2c2 64.5%,#0faebc 67.4%,#15b3b3 70.3%,#35b8a7 73.2%,#57bc9b 76.1%,#6cbf93 79.0%,#73c091 81.9%,#6bbf94 84.8%,#52bc9d 87.7%,#2ab6ab 90.6%,#0fb0b8 93.5%,#109fc3 96.4%,#2385c9 99.3%)"></i><i style="height:2px;background:linear-gradient(90deg,#2385c9 0.8%,#10a0c3 3.7%,#0fb0b8 6.6%,#28b6ac 9.5%,#50bc9e 12.4%,#68bf95 15.3%,#70c092 18.2%,#69bf95 21.0%,#54bc9c 23.9%,#32b7a8 26.8%,#13b3b4 29.7%,#0fadbc 32.6%,#0fa1c3 35.5%,#1e96c8 38.4%,#238ccd 41.3%,#2386c9 44.2%,#2282c6 47.1%,#2180c4 50.0%,#2282c6 52.9%,#2386c9 55.8%,#238ccd 58.7%,#1e96c8 61.6%,#0fa1c3 64.5%,#0fadbc 67.4%,#13b3b4 70.3%,#32b7a8 73.2%,#54bc9c 76.1%,#69bf95 79.0%,#70c092 81.8%,#68bf95 84.7%,#50bc9e 87.6%,#28b6ac 90.5%,#0fb0b8 93.4%,#10a0c3 96.3%,#2385c9 99.2%)"></i><i style="height:2px;background:linear-gradient(90deg,#2385c9 0.8%,#10a0c3 3.7%,#0fb0b9 6.6%,#27b5ac 9.5%,#4ebb9e 12.4%,#66be96 15.3%,#6ebf93 18.2%,#66be96 21.1%,#51bc9e 24.0%,#2fb7a9 26.9%,#12b2b5 29.8%,#0fadbd 32.6%,#0fa0c3 35.5%,#1f95c9 38.4%,#238bcd 41.3%,#2385c9 44.2%,#2181c5 47.1%,#207fc3 50.0%,#2181c5 52.9%,#2385c9 55.8%,#238bcd 58.7%,#1f95c9 61.6%,#0fa0c3 64.5%,#0fadbd 67.4%,#12b2b5 70.2%,#2fb7a9 73.1%,#51bc9e 76.0%,#66be96 78.9%,#6ebf93 81.8%,#66be96 84.7%,#4ebb9e 87.6%,#27b5ac 90.5%,#0fb0b9 93.4%,#10a0c3 96.3%,#2385c9 99.2%)"></i><i style="height:2px;background:linear-gradient(90deg,#2385c9 0.9%,#10a0c3 3.8%,#0fb0b9 6.7%,#25b5ad 9.6%,#4cbb9f 12.5%,#63be97 15.3%,#6bbf94 18.2%,#63be97 21.1%,#4dbb9f 24.0%,#2bb6ab 26.9%,#10b2b6 29.8%,#0facbd 32.7%,#109fc3 35.6%,#1f94c9 38.4%,#238bcc 41.3%,#2385c8 44.2%,#2180c4 47.1%,#207ec2 50.0%,#2180c4 52.9%,#2385c8 55.8%,#238bcc 58.7%,#1f94c9 61.6%,#109fc3 64.4%,#0facbd 67.3%,#10b2b6 70.2%,#2bb6ab 73.1%,#4dbb9f 76.0%,#63be97 78.9%,#6bbf94 81.8%,#63be97 84.7%,#4cbb9f 87.5%,#25b5ad 90.4%,#0fb0b9 93.3%,#10a0c3 96.2%,#2385c9 99.1%)"></i><i style="height:2px;background:linear-gradient(90deg,#2385c9 1.0%,#109fc3 3.9%,#0fb0b9 6.7%,#24b5ad 9.6%,#4abba0 12.5%,#61be98 15.4%,#68bf95 18.3%,#60be98 21.2%,#4abba0 24.0%,#28b6ac 26.9%,#0fb2b6 29.8%,#0facbe 32.7%,#119fc4 35.6%,#1f93c9 38.5%,#238acc 41.3%,#2384c8 44.2%,#217fc3 47.1%,#207dc1 50.0%,#217fc3 52.9%,#2384c8 55.8%,#238acc 58.7%,#1f93c9 61.5%,#119fc4 64.4%,#0facbe 67.3%,#0fb2b6 70.2%,#28b6ac 73.1%,#4abba0 76.0%,#60be98 78.8%,#68bf95 81.7%,#61be98 84.6%,#4abba0 87.5%,#24b5ad 90.4%,#0fb0b9 93.3%,#109fc3 96.1%,#2385c9 99.0%)"></i><i style="height:2px;background:linear-gradient(90deg,#2385c9 1.0%,#109fc3 3.9%,#0fb0b9 6.8%,#22b5ae 9.7%,#48bba1 12.6%,#5ebd99 15.4%,#65be96 18.3%,#5dbd99 21.2%,#47baa1 24.1%,#24b5ad 27.0%,#0fb1b7 29.8%,#0fabbe 32.7%,#129ec4 35.6%,#2093ca 38.5%,#238acb 41.4%,#2383c7 44.2%,#207ec2 47.1%,#1f7dc1 50.0%,#207ec2 52.9%,#2383c7 55.8%,#238acb 58.6%,#2093ca 61.5%,#129ec4 64.4%,#0fabbe 67.3%,#0fb1b7 70.2%,#24b5ad 73.0%,#47baa1 75.9%,#5dbd99 78.8%,#65be96 81.7%,#5ebd99 84.6%,#48bba1 87.4%,#22b5ae 90.3%,#0fb0b9 93.2%,#109fc3 96.1%,#2385c9 99.0%)"></i><i style="height:2px;background:linear-gradient(90deg,#2385c9 1.1%,#109fc3 4.0%,#0fb0b9 6.9%,#21b4ae 9.7%,#46baa1 12.6%,#5cbd99 15.5%,#62be97 18.4%,#5abd9a 21.2%,#43baa2 24.1%,#21b5ae 27.0%,#0fb1b7 29.9%,#0faabf 32.7%,#139dc4 35.6%,#2092ca 38.5%,#2389cb 41.4%,#2283c7 44.2%,#207ec2 47.1%,#1f7cc0 50.0%,#207ec2 52.9%,#2283c7 55.8%,#2389cb 58.6%,#2092ca 61.5%,#139dc4 64.4%,#0faabf 67.3%,#0fb1b7 70.1%,#21b5ae 73.0%,#43baa2 75.9%,#5abd9a 78.8%,#62be97 81.6%,#5cbd99 84.5%,#46baa1 87.4%,#21b4ae 90.3%,#0fb0b9 93.1%,#109fc3 96.0%,#2385c9 98.9%)"></i><i style="height:2px;background:linear-gradient(90deg,#2385c9 1.2%,#109fc3 4.1%,#0fb0b9 6.9%,#1fb4af 9.8%,#44baa2 12.7%,#59bd9a 15.5%,#5fbd98 18.4%,#56bc9b 21.3%,#40baa3 24.2%,#1eb4af 27.0%,#0fb1b8 29.9%,#0fa9bf 32.8%,#159cc5 35.6%,#2091ca 38.5%,#2388cb 41.4%,#2282c6 44.3%,#1f7dc1 47.1%,#1f7bbf 50.0%,#1f7dc1 52.9%,#2282c6 55.7%,#2388cb 58.6%,#2091ca 61.5%,#159cc5 64.4%,#0fa9bf 67.2%,#0fb1b8 70.1%,#1eb4af 73.0%,#40baa3 75.8%,#56bc9b 78.7%,#5fbd98 81.6%,#59bd9a 84.5%,#44baa2 87.3%,#1fb4af 90.2%,#0fb0b9 93.1%,#109fc3 95.9%,#2385c9 98.8%)"></i><i style="height:2px;background:linear-gradient(90deg,#2385c9 1.3%,#109fc3 4.1%,#0fb0b9 7.0%,#1eb4af 9.9%,#42baa3 12.7%,#56bc9b 15.6%,#5cbd99 18.5%,#53bc9d 21.3%,#3db9a5 24.2%,#1cb4b0 27.1%,#0fb0b8 29.9%,#0fa9bf 32.8%,#169cc5 35.7%,#2191cb 38.5%,#2388ca 41.4%,#2281c5 44.3%,#1f7cc0 47.1%,#1e7bbf 50.0%,#1f7cc0 52.9%,#2281c5 55.7%,#2388ca 58.6%,#2191cb 61.5%,#169cc5 64.3%,#0fa9bf 67.2%,#0fb0b8 70.1%,#1cb4b0 72.9%,#3db9a5 75.8%,#53bc9d 78.7%,#5cbd99 81.5%,#56bc9b 84.4%,#42baa3 87.3%,#1eb4af 90.1%,#0fb0b9 93.0%,#109fc3 95.9%,#2385c9 98.7%)"></i><i style="height:2px;background:linear-gradient(90deg,#2385c9 1.3%,#109fc3 4.2%,#0fafb9 7.1%,#1db4af 9.9%,#40b9a4 12.8%,#54bc9c 15.6%,#59bd9a 18.5%,#50bc9e 21.4%,#39b9a6 24.2%,#1bb4b0 27.1%,#0fb0b9 30.0%,#0fa8c0 32.8%,#179bc6 35.7%,#2190cb 38.5%,#2388ca 41.4%,#2181c5 44.3%,#1f7cc0 47.1%,#1e7abe 50.0%,#1f7cc0 52.9%,#2181c5 55.7%,#2388ca 58.6%,#2190cb 61.5%,#179bc6 64.3%,#0fa8c0 67.2%,#0fb0b9 70.0%,#1bb4b0 72.9%,#39b9a6 75.8%,#50bc9e 78.6%,#59bd9a 81.5%,#54bc9c 84.4%,#40b9a4 87.2%,#1db4af 90.1%,#0fafb9 92.9%,#109fc3 95.8%,#2385c9 98.7%)"></i><i style="height:2px;background:linear-gradient(90deg,#2385c9 1.4%,#109fc3 4.3%,#0fafba 7.1%,#1cb4b0 10.0%,#3db9a5 12.8%,#51bc9d 15.7%,#56bc9c 18.6%,#4dbb9f 21.4%,#36b8a7 24.3%,#19b3b1 27.1%,#0fb0b9 30.0%,#0fa7c0 32.9%,#189ac6 35.7%,#218fcb 38.6%,#2387ca 41.4%,#2180c4 44.3%,#1f7bbf 47.1%,#1e79be 50.0%,#1f7bbf 52.9%,#2180c4 55.7%,#2387ca 58.6%,#218fcb 61.4%,#189ac6 64.3%,#0fa7c0 67.1%,#0fb0b9 70.0%,#19b3b1 72.9%,#36b8a7 75.7%,#4dbb9f 78.6%,#56bc9c 81.4%,#51bc9d 84.3%,#3db9a5 87.2%,#1cb4b0 90.0%,#0fafba 92.9%,#109fc3 95.7%,#2385c9 98.6%)"></i><i style="height:2px;background:linear-gradient(90deg,#2385c9 1.5%,#109fc3 4.3%,#0fafba 7.2%,#1cb4b0 10.1%,#3bb9a5 12.9%,#4ebb9e 15.8%,#53bc9d 18.6%,#49bba0 21.5%,#33b7a8 24.3%,#18b3b2 27.2%,#0fafba 30.0%,#0fa6c0 32.9%,#199ac6 35.7%,#228fcc 38.6%,#2387ca 41.4%,#2180c4 44.3%,#1e7bbf 47.1%,#1e79bd 50.0%,#1e7bbf 52.9%,#2180c4 55.7%,#2387ca 58.6%,#228fcc 61.4%,#199ac6 64.3%,#0fa6c0 67.1%,#0fafba 70.0%,#18b3b2 72.8%,#33b7a8 75.7%,#49bba0 78.5%,#53bc9d 81.4%,#4ebb9e 84.2%,#3bb9a5 87.1%,#1cb4b0 89.9%,#0fafba 92.8%,#109fc3 95.7%,#2385c9 98.5%)"></i><i style="height:2px;background:linear-gradient(90deg,#2385c9 1.6%,#109fc3 4.4%,#0fafba 7.3%,#1bb4b1 10.1%,#39b8a6 13.0%,#4bbb9f 15.8%,#50bc9e 18.7%,#46baa1 21.5%,#2fb7a9 24.4%,#16b3b3 27.2%,#0fafba 30.1%,#0fa5c1 32.9%,#1999c6 35.8%,#228ecc 38.6%,#2386c9 41.5%,#217fc3 44.3%,#1e7abe 47.2%,#1e78bd 50.0%,#1e7abe 52.8%,#217fc3 55.7%,#2386c9 58.5%,#228ecc 61.4%,#1999c6 64.2%,#0fa5c1 67.1%,#0fafba 69.9%,#16b3b3 72.8%,#2fb7a9 75.6%,#46baa1 78.5%,#50bc9e 81.3%,#4bbb9f 84.2%,#39b8a6 87.0%,#1bb4b1 89.9%,#0fafba 92.7%,#109fc3 95.6%,#2385c9 98.4%)"></i><i style="height:2px;background:linear-gradient(90deg,#2385c9 1.7%,#119fc4 4.5%,#0fafba 7.4%,#1ab3b1 10.2%,#36b8a7 13.0%,#48bba0 15.9%,#4dbb9f 18.7%,#43baa3 21.6%,#2cb6aa 24.4%,#15b3b3 27.3%,#0faebb 30.1%,#0fa4c1 32.9%,#1a98c7 35.8%,#228ecc 38.6%,#2386c9 41.5%,#207fc3 44.3%,#1e7abe 47.2%,#1d78bc 50.0%,#1e7abe 52.8%,#207fc3 55.7%,#2386c9 58.5%,#228ecc 61.4%,#1a98c7 64.2%,#0fa4c1 67.1%,#0faebb 69.9%,#15b3b3 72.7%,#2cb6aa 75.6%,#43baa3 78.4%,#4dbb9f 81.3%,#48bba0 84.1%,#36b8a7 87.0%,#1ab3b1 89.8%,#0fafba 92.6%,#119fc4 95.5%,#2385c9 98.3%)"></i><i style="height:2px;background:linear-gradient(90deg,#2385c9 1.8%,#119fc4 4.6%,#0fafba 7.4%,#19b3b1 10.3%,#34b8a8 13.1%,#46baa2 15.9%,#49bba0 18.8%,#40b9a4 21.6%,#29b6ab 24.5%,#13b3b4 27.3%,#0faebb 30.1%,#0fa4c1 33.0%,#1b98c7 35.8%,#228dcc 38.6%,#2385c9 41.5%,#207ec2 44.3%,#1e79bd 47.2%,#1d77bc 50.0%,#1e79bd 52.8%,#207ec2 55.7%,#2385c9 58.5%,#228dcc 61.4%,#1b98c7 64.2%,#0fa4c1 67.0%,#0faebb 69.9%,#13b3b4 72.7%,#29b6ab 75.5%,#40b9a4 78.4%,#49bba0 81.2%,#46baa2 84.1%,#34b8a8 86.9%,#19b3b1 89.7%,#0fafba 92.6%,#119fc4 95.4%,#2385c9 98.2%)"></i><i style="height:2px;background:linear-gradient(90deg,#2385c9 1.8%,#119fc4 4.7%,#0fafba 7.5%,#18b3b2 10.3%,#31b7a9 13.2%,#43baa3 16.0%,#46baa1 18.8%,#3cb9a5 21.7%,#25b5ad 24.5%,#12b2b5 27.3%,#0faebc 30.2%,#0fa3c2 33.0%,#1c97c7 35.8%,#238dcd 38.7%,#2385c9 41.5%,#207ec2 44.3%,#1e79bd 47.2%,#1d77bc 50.0%,#1e79bd 52.8%,#207ec2 55.7%,#2385c9 58.5%,#238dcd 61.3%,#1c97c7 64.2%,#0fa3c2 67.0%,#0faebc 69.8%,#12b2b5 72.7%,#25b5ad 75.5%,#3cb9a5 78.3%,#46baa1 81.2%,#43baa3 84.0%,#31b7a9 86.8%,#18b3b2 89.7%,#0fafba 92.5%,#119fc4 95.3%,#2385c9 98.2%)"></i><i style="height:2px;background:linear-gradient(90deg,#2385c9 1.9%,#119fc4 4.8%,#0fafbb 7.6%,#17b3b2 10.4%,#2fb7a9 13.2%,#40b9a4 16.1%,#43baa2 18.9%,#39b8a6 21.7%,#22b5ae 24.6%,#10b2b5 27.4%,#0fadbc 30.2%,#0fa2c2 33.0%,#1d97c8 35.9%,#238ccd 38.7%,#2385c8 41.5%,#207dc1 44.3%,#1e78bd 47.2%,#1d77bc 50.0%,#1e78bd 52.8%,#207dc1 55.7%,#2385c8 58.5%,#238ccd 61.3%,#1d97c8 64.1%,#0fa2c2 67.0%,#0fadbc 69.8%,#10b2b5 72.6%,#22b5ae 75.4%,#39b8a6 78.3%,#43baa2 81.1%,#40b9a4 83.9%,#2fb7a9 86.8%,#17b3b2 89.6%,#0fafbb 92.4%,#119fc4 95.2%,#2385c9 98.1%)"></i><i style="height:2px;background:linear-gradient(90deg,#2385c9 2.0%,#119ec4 4.9%,#0faebb 7.7%,#16b3b3 10.5%,#2cb6aa 13.3%,#3db9a5 16.1%,#40b9a4 19.0%,#36b8a7 21.8%,#1fb4af 24.6%,#0fb2b6 27.4%,#0fadbd 30.3%,#0fa2c2 33.1%,#1e96c8 35.9%,#238ccd 38.7%,#2384c8 41.5%,#1f7dc1 44.4%,#1d78bd 47.2%,#1d76bb 50.0%,#1d78bd 52.8%,#1f7dc1 55.6%,#2384c8 58.5%,#238ccd 61.3%,#1e96c8 64.1%,#0fa2c2 66.9%,#0fadbd 69.7%,#0fb2b6 72.6%,#1fb4af 75.4%,#36b8a7 78.2%,#40b9a4 81.0%,#3db9a5 83.9%,#2cb6aa 86.7%,#16b3b3 89.5%,#0faebb 92.3%,#119ec4 95.1%,#2385c9 98.0%)"></i><i style="height:2px;background:linear-gradient(90deg,#2385c9 2.1%,#119ec4 5.0%,#0faebb 7.8%,#16b3b3 10.6%,#2ab6ab 13.4%,#3ab9a6 16.2%,#3db9a5 19.0%,#32b7a8 21.8%,#1db4b0 24.7%,#0fb2b7 27.5%,#0fadbd 30.3%,#0fa1c3 33.1%,#1e96c8 35.9%,#238bcd 38.7%,#2384c8 41.6%,#1f7dc1 44.4%,#1d78bc 47.2%,#1d76bb 50.0%,#1d78bc 52.8%,#1f7dc1 55.6%,#2384c8 58.4%,#238bcd 61.3%,#1e96c8 64.1%,#0fa1c3 66.9%,#0fadbd 69.7%,#0fb2b7 72.5%,#1db4b0 75.3%,#32b7a8 78.2%,#3db9a5 81.0%,#3ab9a6 83.8%,#2ab6ab 86.6%,#16b3b3 89.4%,#0faebb 92.2%,#119ec4 95.0%,#2385c9 97.9%)"></i><i style="height:2px;background:linear-gradient(90deg,#2385c9 2.2%,#129ec4 5.0%,#0faebb 7.9%,#15b3b3 10.7%,#27b6ac 13.5%,#37b8a7 16.3%,#39b9a6 19.1%,#2fb7a9 21.9%,#1bb4b0 24.7%,#0fb1b7 27.5%,#0facbe 30.3%,#0fa0c3 33.1%,#1e95c8 36.0%,#238bcc 38.8%,#2384c8 41.6%,#1f7cc0 44.4%,#1d78bc 47.2%,#1d76bb 50.0%,#1d78bc 52.8%,#1f7cc0 55.6%,#2384c8 58.4%,#238bcc 61.2%,#1e95c8 64.0%,#0fa0c3 66.9%,#0facbe 69.7%,#0fb1b7 72.5%,#1bb4b0 75.3%,#2fb7a9 78.1%,#39b9a6 80.9%,#37b8a7 83.7%,#27b6ac 86.5%,#15b3b3 89.3%,#0faebb 92.1%,#129ec4 95.0%,#2385c9 97.8%)"></i><i style="height:2px;background:linear-gradient(90deg,#2385c9 2.3%,#109fc3 5.3%,#0fafba 8.3%,#17b3b2 11.3%,#2ab6ab 14.3%,#36b8a7 17.2%,#34b8a8 20.2%,#23b5ad 23.2%,#13b2b4 26.2%,#0faebb 29.1%,#0fa4c1 32.1%,#1b98c7 35.1%,#238dcd 38.1%,#2385c9 41.1%,#1f7dc1 44.0%,#1d78bc 47.0%,#1d76bb 50.0%,#1d78bc 53.0%,#1f7dc1 56.0%,#2385c9 58.9%,#238dcd 61.9%,#1b98c7 64.9%,#0fa4c1 67.9%,#0faebb 70.9%,#13b2b4 73.8%,#23b5ad 76.8%,#34b8a8 79.8%,#36b8a7 82.8%,#2ab6ab 85.7%,#17b3b2 88.7%,#0fafba 91.7%,#109fc3 94.7%,#2385c9 97.7%)"></i><i style="height:2px;background:linear-gradient(90deg,#2385c9 2.4%,#109fc3 5.4%,#0fafbb 8.4%,#16b3b3 11.4%,#27b6ac 14.3%,#33b8a8 17.3%,#30b7a9 20.3%,#20b4ae 23.3%,#11b2b5 26.2%,#0faebb 29.2%,#0fa4c2 32.2%,#1c98c7 35.1%,#238dcd 38.1%,#2385c8 41.1%,#1f7dc1 44.1%,#1d77bc 47.0%,#1d75bb 50.0%,#1d77bc 53.0%,#1f7dc1 55.9%,#2385c8 58.9%,#238dcd 61.9%,#1c98c7 64.9%,#0fa4c2 67.8%,#0faebb 70.8%,#11b2b5 73.8%,#20b4ae 76.7%,#30b7a9 79.7%,#33b8a8 82.7%,#27b6ac 85.7%,#16b3b3 88.6%,#0fafbb 91.6%,#109fc3 94.6%,#2385c9 97.6%)"></i><i style="height:2px;background:linear-gradient(90deg,#2385c8 2.6%,#119fc4 5.5%,#0faebb 8.5%,#15b3b3 11.5%,#24b5ad 14.4%,#30b7a9 17.4%,#2db7aa 20.3%,#1db4af 23.3%,#10b2b6 26.3%,#0faebc 29.2%,#0fa3c2 32.2%,#1c97c7 35.2%,#238ccd 38.1%,#2384c8 41.1%,#1f7cc0 44.1%,#1d77bc 47.0%,#1d75bb 50.0%,#1d77bc 53.0%,#1f7cc0 55.9%,#2384c8 58.9%,#238ccd 61.9%,#1c97c7 64.8%,#0fa3c2 67.8%,#0faebc 70.8%,#10b2b6 73.7%,#1db4af 76.7%,#2db7aa 79.7%,#30b7a9 82.6%,#24b5ad 85.6%,#15b3b3 88.5%,#0faebb 91.5%,#119fc4 94.5%,#2385c8 97.4%)"></i><i style="height:2px;background:linear-gradient(90deg,#2385c8 2.7%,#119fc4 5.6%,#0faebb 8.6%,#14b3b4 11.5%,#22b5ae 14.5%,#2db6aa 17.5%,#2ab6ab 20.4%,#1cb4b0 23.4%,#0fb2b6 26.3%,#0fadbc 29.3%,#0fa2c2 32.3%,#1d97c8 35.2%,#238ccd 38.2%,#2384c8 41.1%,#1f7cc0 44.1%,#1d77bc 47.0%,#1d75bb 50.0%,#1d77bc 53.0%,#1f7cc0 55.9%,#2384c8 58.9%,#238ccd 61.8%,#1d97c8 64.8%,#0fa2c2 67.7%,#0fadbc 70.7%,#0fb2b6 73.7%,#1cb4b0 76.6%,#2ab6ab 79.6%,#2db6aa 82.5%,#22b5ae 85.5%,#14b3b4 88.5%,#0faebb 91.4%,#119fc4 94.4%,#2385c8 97.3%)"></i><i style="height:2px;background:linear-gradient(90deg,#2385c8 2.8%,#119fc4 5.7%,#0faebb 8.7%,#13b3b4 11.6%,#1fb4af 14.6%,#2ab6ab 17.5%,#27b5ac 20.5%,#1ab4b1 23.4%,#0fb1b7 26.4%,#0fadbd 29.3%,#0fa2c2 32.3%,#1e96c8 35.2%,#238ccd 38.2%,#2384c8 41.1%,#1f7cc0 44.1%,#1d77bc 47.0%,#1d75ba 50.0%,#1d77bc 53.0%,#1f7cc0 55.9%,#2384c8 58.9%,#238ccd 61.8%,#1e96c8 64.8%,#0fa2c2 67.7%,#0fadbd 70.7%,#0fb1b7 73.6%,#1ab4b1 76.6%,#27b5ac 79.5%,#2ab6ab 82.5%,#1fb4af 85.4%,#13b3b4 88.4%,#0faebb 91.3%,#119fc4 94.3%,#2385c8 97.2%)"></i><i style="height:2px;background:linear-gradient(90deg,#2385c8 2.9%,#129ec4 5.8%,#0faebc 8.8%,#12b2b5 11.7%,#1db4af 14.7%,#27b5ac 17.6%,#23b5ad 20.6%,#19b3b1 23.5%,#0fb1b7 26.5%,#0fadbd 29.4%,#0fa1c3 32.3%,#1e96c8 35.3%,#238bcd 38.2%,#2384c8 41.2%,#1f7cc0 44.1%,#1d77bc 47.1%,#1d75ba 50.0%,#1d77bc 52.9%,#1f7cc0 55.9%,#2384c8 58.8%,#238bcd 61.8%,#1e96c8 64.7%,#0fa1c3 67.7%,#0fadbd 70.6%,#0fb1b7 73.5%,#19b3b1 76.5%,#23b5ad 79.4%,#27b5ac 82.4%,#1db4af 85.3%,#12b2b5 88.3%,#0faebc 91.2%,#129ec4 94.2%,#2385c8 97.1%)"></i><i style="height:2px;background:linear-gradient(90deg,#2385c8 3.0%,#129ec4 6.0%,#0faebc 8.9%,#11b2b5 11.8%,#1cb4b0 14.8%,#24b5ad 17.7%,#20b4ae 20.6%,#17b3b2 23.6%,#0fb1b8 26.5%,#0facbe 29.4%,#0fa0c3 32.4%,#1e96c8 35.3%,#238bcd 38.3%,#2384c8 41.2%,#1f7cc0 44.1%,#1d77bc 47.1%,#1d75ba 50.0%,#1d77bc 52.9%,#1f7cc0 55.9%,#2384c8 58.8%,#238bcd 61.7%,#1e96c8 64.7%,#0fa0c3 67.6%,#0facbe 70.6%,#0fb1b8 73.5%,#17b3b2 76.4%,#20b4ae 79.4%,#24b5ad 82.3%,#1cb4b0 85.2%,#11b2b5 88.2%,#0faebc 91.1%,#129ec4 94.0%,#2385c8 97.0%)"></i><i style="height:2px;background:linear-gradient(90deg,#2385c8 3.1%,#129ec4 6.1%,#0fadbc 9.0%,#10b2b6 11.9%,#1bb4b1 14.9%,#21b4ae 17.8%,#1eb4af 20.7%,#16b3b3 23.6%,#0fb0b8 26.6%,#0facbe 29.5%,#0fa0c3 32.4%,#1e95c8 35.4%,#238bcc 38.3%,#2384c8 41.2%,#1f7cc0 44.1%,#1d77bc 47.1%,#1d75ba 50.0%,#1d77bc 52.9%,#1f7cc0 55.9%,#2384c8 58.8%,#238bcc 61.7%,#1e95c8 64.6%,#0fa0c3 67.6%,#0facbe 70.5%,#0fb0b8 73.4%,#16b3b3 76.4%,#1eb4af 79.3%,#21b4ae 82.2%,#1bb4b1 85.1%,#10b2b6 88.1%,#0fadbc 91.0%,#129ec4 93.9%,#2385c8 96.9%)"></i><i style="height:2px;background:linear-gradient(90deg,#2384c8 3.3%,#129ec4 6.2%,#0fadbc 9.1%,#0fb2b6 12.0%,#1ab3b1 15.0%,#1eb4af 17.9%,#1cb4b0 20.8%,#14b3b3 23.7%,#0fb0b9 26.6%,#0fabbe 29.6%,#109fc3 32.5%,#1f95c9 35.4%,#238bcc 38.3%,#2383c7 41.2%,#1f7cc0 44.2%,#1d77bc 47.1%,#1d75bb 50.0%,#1d77bc 52.9%,#1f7cc0 55.8%,#2383c7 58.8%,#238bcc 61.7%,#1f95c9 64.6%,#109fc3 67.5%,#0fabbe 70.4%,#0fb0b9 73.4%,#14b3b3 76.3%,#1cb4b0 79.2%,#1eb4af 82.1%,#1ab3b1 85.0%,#0fb2b6 88.0%,#0fadbc 90.9%,#129ec4 93.8%,#2384c8 96.7%)"></i><i style="height:2px;background:linear-gradient(90deg,#2384c8 3.4%,#139dc4 6.3%,#0fadbd 9.2%,#0fb2b6 12.1%,#18b3b2 15.0%,#1cb4b0 18.0%,#1bb4b1 20.9%,#13b3b4 23.8%,#0fb0b9 26.7%,#0fabbf 29.6%,#119fc4 32.5%,#1f94c9 35.4%,#238bcc 38.3%,#2383c7 41.3%,#1f7cc0 44.2%,#1d77bc 47.1%,#1d75bb 50.0%,#1d77bc 52.9%,#1f7cc0 55.8%,#2383c7 58.7%,#238bcc 61.7%,#1f94c9 64.6%,#119fc4 67.5%,#0fabbf 70.4%,#0fb0b9 73.3%,#13b3b4 76.2%,#1bb4b1 79.1%,#1cb4b0 82.0%,#18b3b2 85.0%,#0fb2b6 87.9%,#0fadbd 90.8%,#139dc4 93.7%,#2384c8 96.6%)"></i><i style="height:2px;background:linear-gradient(90deg,#2384c8 3.5%,#139dc4 6.4%,#0fadbd 9.3%,#0fb1b7 12.2%,#17b3b2 15.1%,#1bb4b0 18.1%,#19b3b1 21.0%,#12b2b5 23.9%,#0fafb9 26.8%,#0faabf 29.7%,#119ec4 32.6%,#1f94c9 35.5%,#238bcc 38.4%,#2383c7 41.3%,#1f7cc0 44.2%,#1d77bc 47.1%,#1d75bb 50.0%,#1d77bc 52.9%,#1f7cc0 55.8%,#2383c7 58.7%,#238bcc 61.6%,#1f94c9 64.5%,#119ec4 67.4%,#0faabf 70.3%,#0fafb9 73.2%,#12b2b5 76.1%,#19b3b1 79.0%,#1bb4b0 81.9%,#17b3b2 84.9%,#0fb1b7 87.8%,#0fadbd 90.7%,#139dc4 93.6%,#2384c8 96.5%)"></i><i style="height:2px;background:linear-gradient(90deg,#2384c8 3.7%,#149dc5 6.6%,#0fadbd 9.5%,#0fb1b7 12.4%,#16b3b3 15.2%,#1ab3b1 18.1%,#18b3b2 21.0%,#10b2b5 23.9%,#0fafba 26.8%,#0fa9bf 29.7%,#129ec4 32.6%,#1f94c9 35.5%,#238acc 38.4%,#2383c7 41.3%,#1f7cc0 44.2%,#1d77bc 47.1%,#1d75bb 50.0%,#1d77bc 52.9%,#1f7cc0 55.8%,#2383c7 58.7%,#238acc 61.6%,#1f94c9 64.5%,#129ec4 67.4%,#0fa9bf 70.3%,#0fafba 73.2%,#10b2b5 76.1%,#18b3b2 79.0%,#1ab3b1 81.9%,#16b3b3 84.8%,#0fb1b7 87.6%,#0fadbd 90.5%,#149dc5 93.4%,#2384c8 96.3%)"></i><i style="height:2px;background:linear-gradient(90deg,#2384c8 3.8%,#149dc5 6.7%,#0facbd 9.6%,#0fb1b7 12.5%,#15b3b3 15.4%,#18b3b2 18.2%,#16b3b3 21.1%,#0fb2b6 24.0%,#0fafba 26.9%,#0fa9bf 29.8%,#139ec4 32.7%,#1f94c9 35.6%,#238acc 38.5%,#2383c7 41.3%,#1f7cc0 44.2%,#1d77bc 47.1%,#1d76bb 50.0%,#1d77bc 52.9%,#1f7cc0 55.8%,#2383c7 58.7%,#238acc 61.5%,#1f94c9 64.4%,#139ec4 67.3%,#0fa9bf 70.2%,#0fafba 73.1%,#0fb2b6 76.0%,#16b3b3 78.9%,#18b3b2 81.8%,#15b3b3 84.6%,#0fb1b7 87.5%,#0facbd 90.4%,#149dc5 93.3%,#2384c8 96.2%)"></i><i style="height:2px;background:linear-gradient(90deg,#2384c8 3.9%,#149cc5 6.8%,#0facbe 9.7%,#0fb1b8 12.6%,#13b3b4 15.5%,#17b3b2 18.3%,#15b3b3 21.2%,#0fb2b7 24.1%,#0faebb 27.0%,#0fa8c0 29.8%,#139dc4 32.7%,#1f93c9 35.6%,#238acc 38.5%,#2383c7 41.4%,#1f7cc0 44.2%,#1d77bc 47.1%,#1d76bb 50.0%,#1d77bc 52.9%,#1f7cc0 55.8%,#2383c7 58.6%,#238acc 61.5%,#1f93c9 64.4%,#139dc4 67.3%,#0fa8c0 70.2%,#0faebb 73.0%,#0fb2b7 75.9%,#15b3b3 78.8%,#17b3b2 81.7%,#13b3b4 84.5%,#0fb1b8 87.4%,#0facbe 90.3%,#149cc5 93.2%,#2384c8 96.1%)"></i><i style="height:2px;background:linear-gradient(90deg,#2384c8 4.1%,#159cc5 7.0%,#0facbe 9.8%,#0fb0b8 12.7%,#12b2b5 15.6%,#16b3b3 18.4%,#14b3b4 21.3%,#0fb1b7 24.2%,#0faebb 27.0%,#0fa7c0 29.9%,#149dc5 32.8%,#1f93c9 35.7%,#238acc 38.5%,#2383c7 41.4%,#1f7cc0 44.3%,#1d78bc 47.1%,#1d76bb 50.0%,#1d78bc 52.9%,#1f7cc0 55.7%,#2383c7 58.6%,#238acc 61.5%,#1f93c9 64.3%,#149dc5 67.2%,#0fa7c0 70.1%,#0faebb 73.0%,#0fb1b7 75.8%,#14b3b4 78.7%,#16b3b3 81.6%,#12b2b5 84.4%,#0fb0b8 87.3%,#0facbe 90.2%,#159cc5 93.0%,#2384c8 95.9%)"></i><i style="height:2px;background:linear-gradient(90deg,#2384c8 4.2%,#159cc5 7.1%,#0facbe 9.9%,#0fb0b9 12.8%,#11b2b5 15.7%,#14b3b3 18.5%,#12b2b4 21.4%,#0fb1b7 24.3%,#0faebc 27.1%,#0fa7c0 30.0%,#149dc5 32.8%,#2093ca 35.7%,#238acc 38.6%,#2383c7 41.4%,#1f7cc0 44.3%,#1d78bd 47.1%,#1d76bb 50.0%,#1d78bd 52.9%,#1f7cc0 55.7%,#2383c7 58.6%,#238acc 61.4%,#2093ca 64.3%,#149dc5 67.2%,#0fa7c0 70.0%,#0faebc 72.9%,#0fb1b7 75.7%,#12b2b4 78.6%,#14b3b3 81.5%,#11b2b5 84.3%,#0fb0b9 87.2%,#0facbe 90.1%,#159cc5 92.9%,#2384c8 95.8%)"></i><i style="height:2px;background:linear-gradient(90deg,#2384c8 4.4%,#169cc5 7.2%,#0fabbe 10.1%,#0fb0b9 12.9%,#10b2b6 15.8%,#13b3b4 18.6%,#11b2b5 21.5%,#0fb1b8 24.3%,#0faebc 27.2%,#0fa6c0 30.0%,#159cc5 32.9%,#2093ca 35.7%,#238acc 38.6%,#2383c7 41.4%,#1f7dc1 44.3%,#1d78bd 47.1%,#1d77bc 50.0%,#1d78bd 52.9%,#1f7dc1 55.7%,#2383c7 58.6%,#238acc 61.4%,#2093ca 64.3%,#159cc5 67.1%,#0fa6c0 70.0%,#0faebc 72.8%,#0fb1b8 75.7%,#11b2b5 78.5%,#13b3b4 81.4%,#10b2b6 84.2%,#0fb0b9 87.1%,#0fabbe 89.9%,#169cc5 92.8%,#2384c8 95.6%)"></i><i style="height:2px;background:linear-gradient(90deg,#2384c8 4.5%,#169bc5 7.4%,#0fabbf 10.2%,#0fb0b9 13.1%,#0fb2b6 15.9%,#12b2b5 18.7%,#10b2b6 21.6%,#0fb0b8 24.4%,#0fadbc 27.3%,#0fa6c1 30.1%,#159cc5 32.9%,#2092ca 35.8%,#238acc 38.6%,#2383c7 41.5%,#1f7dc1 44.3%,#1e78bd 47.2%,#1d77bc 50.0%,#1e78bd 52.8%,#1f7dc1 55.7%,#2383c7 58.5%,#238acc 61.4%,#2092ca 64.2%,#159cc5 67.1%,#0fa6c1 69.9%,#0fadbc 72.7%,#0fb0b8 75.6%,#10b2b6 78.4%,#12b2b5 81.3%,#0fb2b6 84.1%,#0fb0b9 86.9%,#0fabbf 89.8%,#169bc5 92.6%,#2384c8 95.5%)"></i><i style="height:2px;background:linear-gradient(90deg,#2384c8 4.7%,#169bc5 7.5%,#0faabf 10.3%,#0fafba 13.2%,#0fb2b7 16.0%,#10b2b5 18.8%,#0fb2b6 21.7%,#0fb0b9 24.5%,#0fadbd 27.3%,#0fa5c1 30.2%,#169cc5 33.0%,#2092ca 35.8%,#238acc 38.7%,#2384c8 41.5%,#207dc1 44.3%,#1e79bd 47.2%,#1d77bc 50.0%,#1e79bd 52.8%,#207dc1 55.7%,#2384c8 58.5%,#238acc 61.3%,#2092ca 64.2%,#169cc5 67.0%,#0fa5c1 69.8%,#0fadbd 72.7%,#0fb0b9 75.5%,#0fb2b6 78.3%,#10b2b5 81.2%,#0fb2b7 84.0%,#0fafba 86.8%,#0faabf 89.7%,#169bc5 92.5%,#2384c8 95.3%)"></i><i style="height:2px;background:linear-gradient(90deg,#2384c8 4.8%,#179bc6 7.7%,#0faabf 10.5%,#0fafba 13.3%,#0fb1b7 16.1%,#0fb2b6 18.9%,#0fb1b7 21.8%,#0fb0b9 24.6%,#0fadbd 27.4%,#0fa5c1 30.2%,#169bc5 33.1%,#2092ca 35.9%,#238acc 38.7%,#2384c8 41.5%,#207dc1 44.4%,#1e79bd 47.2%,#1d78bc 50.0%,#1e79bd 52.8%,#207dc1 55.6%,#2384c8 58.5%,#238acc 61.3%,#2092ca 64.1%,#169bc5 66.9%,#0fa5c1 69.8%,#0fadbd 72.6%,#0fb0b9 75.4%,#0fb1b7 78.2%,#0fb2b6 81.1%,#0fb1b7 83.9%,#0fafba 86.7%,#0faabf 89.5%,#179bc6 92.3%,#2384c8 95.2%)"></i><i style="height:2px;background:linear-gradient(90deg,#2384c8 5.0%,#179ac6 7.8%,#0fa9bf 10.6%,#0fafba 13.4%,#0fb1b7 16.2%,#0fb2b6 19.1%,#0fb1b7 21.9%,#0fafba 24.7%,#0facbd 27.5%,#0fa4c1 30.3%,#179bc6 33.1%,#2092ca 35.9%,#238acc 38.7%,#2384c8 41.6%,#207ec2 44.4%,#1e79be 47.2%,#1d78bd 50.0%,#1e79be 52.8%,#207ec2 55.6%,#2384c8 58.4%,#238acc 61.3%,#2092ca 64.1%,#179bc6 66.9%,#0fa4c1 69.7%,#0facbd 72.5%,#0fafba 75.3%,#0fb1b7 78.1%,#0fb2b6 80.9%,#0fb1b7 83.8%,#0fafba 86.6%,#0fa9bf 89.4%,#179ac6 92.2%,#2384c8 95.0%)"></i><i style="height:2px;background:linear-gradient(90deg,#2383c7 5.2%,#189ac6 8.0%,#0fa9bf 10.8%,#0fafbb 13.6%,#0fb1b8 16.4%,#0fb1b7 19.2%,#0fb1b8 22.0%,#0fafba 24.8%,#0facbe 27.6%,#0fa4c1 30.4%,#179bc6 33.2%,#2092ca 36.0%,#238acc 38.8%,#2384c8 41.6%,#207ec2 44.4%,#1e7abe 47.2%,#1e78bd 50.0%,#1e7abe 52.8%,#207ec2 55.6%,#2384c8 58.4%,#238acc 61.2%,#2092ca 64.0%,#179bc6 66.8%,#0fa4c1 69.6%,#0facbe 72.4%,#0fafba 75.2%,#0fb1b8 78.0%,#0fb1b7 80.8%,#0fb1b8 83.6%,#0fafbb 86.4%,#0fa9bf 89.2%,#189ac6 92.0%,#2383c7 94.8%)"></i><i style="height:2px;background:linear-gradient(90deg,#2383c7 5.3%,#179bc6 8.3%,#0faabf 11.3%,#0fafba 14.3%,#0fb1b8 17.2%,#0fb1b7 20.2%,#0fb0b9 23.2%,#0faebc 26.2%,#0fa7c0 29.2%,#129ec4 32.1%,#1f95c9 35.1%,#238ccd 38.1%,#2385c9 41.1%,#207fc3 44.0%,#1e7abe 47.0%,#1e79bd 50.0%,#1e7abe 53.0%,#207fc3 56.0%,#2385c9 58.9%,#238ccd 61.9%,#1f95c9 64.9%,#129ec4 67.9%,#0fa7c0 70.8%,#0faebc 73.8%,#0fb0b9 76.8%,#0fb1b7 79.8%,#0fb1b8 82.8%,#0fafba 85.7%,#0faabf 88.7%,#179bc6 91.7%,#2383c7 94.7%)"></i><i style="height:2px;background:linear-gradient(90deg,#2383c7 5.5%,#179bc6 8.5%,#0fa9bf 11.4%,#0fafbb 14.4%,#0fb0b8 17.4%,#0fb1b8 20.3%,#0fb0b9 23.3%,#0fadbc 26.3%,#0fa7c0 29.2%,#139ec4 32.2%,#1f95c9 35.2%,#238ccd 38.1%,#2385c9 41.1%,#217fc3 44.1%,#1e7bbf 47.0%,#1e79be 50.0%,#1e7bbf 53.0%,#217fc3 55.9%,#2385c9 58.9%,#238ccd 61.9%,#1f95c9 64.8%,#139ec4 67.8%,#0fa7c0 70.8%,#0fadbc 73.7%,#0fb0b9 76.7%,#0fb1b8 79.7%,#0fb0b8 82.6%,#0fafbb 85.6%,#0fa9bf 88.6%,#179bc6 91.5%,#2383c7 94.5%)"></i><i style="height:2px;background:linear-gradient(90deg,#2383c7 5.7%,#189ac6 8.6%,#0fa9bf 11.6%,#0faebb 14.5%,#0fb0b8 17.5%,#0fb0b8 20.4%,#0fafba 23.4%,#0fadbd 26.4%,#0fa6c0 29.3%,#139dc4 32.3%,#1f94c9 35.2%,#238ccd 38.2%,#2386c9 41.1%,#217fc3 44.1%,#1f7bbf 47.0%,#1e7abe 50.0%,#1f7bbf 53.0%,#217fc3 55.9%,#2386c9 58.9%,#238ccd 61.8%,#1f94c9 64.8%,#139dc4 67.7%,#0fa6c0 70.7%,#0fadbd 73.6%,#0fafba 76.6%,#0fb0b8 79.6%,#0fb0b8 82.5%,#0faebb 85.5%,#0fa9bf 88.4%,#189ac6 91.4%,#2383c7 94.3%)"></i><i style="height:2px;background:linear-gradient(90deg,#2383c7 5.8%,#189ac6 8.8%,#0fa8c0 11.7%,#0faebb 14.7%,#0fb0b9 17.6%,#0fb0b8 20.6%,#0fafba 23.5%,#0fadbd 26.4%,#0fa6c1 29.4%,#149dc5 32.3%,#1f94c9 35.3%,#238ccd 38.2%,#2386c9 41.2%,#2180c4 44.1%,#1f7cc0 47.1%,#1e7abe 50.0%,#1f7cc0 52.9%,#2180c4 55.9%,#2386c9 58.8%,#238ccd 61.8%,#1f94c9 64.7%,#149dc5 67.7%,#0fa6c1 70.6%,#0fadbd 73.6%,#0fafba 76.5%,#0fb0b8 79.4%,#0fb0b9 82.4%,#0faebb 85.3%,#0fa8c0 88.3%,#189ac6 91.2%,#2383c7 94.2%)"></i><i style="height:2px;background:linear-gradient(90deg,#2283c7 6.0%,#199ac6 9.0%,#0fa8c0 11.9%,#0faebc 14.8%,#0fb0b9 17.7%,#0fb0b9 20.7%,#0fafba 23.6%,#0facbd 26.5%,#0fa5c1 29.5%,#149dc5 32.4%,#1f94c9 35.3%,#238ccd 38.3%,#2386c9 41.2%,#2180c4 44.1%,#1f7cc0 47.1%,#1e7bbf 50.0%,#1f7cc0 52.9%,#2180c4 55.9%,#2386c9 58.8%,#238ccd 61.7%,#1f94c9 64.7%,#149dc5 67.6%,#0fa5c1 70.5%,#0facbd 73.5%,#0fafba 76.4%,#0fb0b9 79.3%,#0fb0b9 82.3%,#0faebc 85.2%,#0fa8c0 88.1%,#199ac6 91.0%,#2283c7 94.0%)"></i><i style="height:2px;background:linear-gradient(90deg,#2283c7 6.2%,#1999c6 9.1%,#0fa7c0 12.0%,#0faebc 15.0%,#0fafba 17.9%,#0fb0b9 20.8%,#0faebb 23.7%,#0facbe 26.6%,#0fa5c1 29.6%,#149cc5 32.5%,#1f94c9 35.4%,#238ccd 38.3%,#2386c9 41.2%,#2181c5 44.2%,#1f7dc1 47.1%,#1f7bbf 50.0%,#1f7dc1 52.9%,#2181c5 55.8%,#2386c9 58.8%,#238ccd 61.7%,#1f94c9 64.6%,#149cc5 67.5%,#0fa5c1 70.4%,#0facbe 73.4%,#0faebb 76.3%,#0fb0b9 79.2%,#0fafba 82.1%,#0faebc 85.0%,#0fa7c0 88.0%,#1999c6 90.9%,#2283c7 93.8%)"></i><i style="height:2px;background:linear-gradient(90deg,#2283c7 6.4%,#1a99c7 9.3%,#0fa7c0 12.2%,#0fadbc 15.1%,#0fafba 18.0%,#0fafba 20.9%,#0faebb 23.8%,#0facbe 26.7%,#0fa4c1 29.6%,#159cc5 32.6%,#1f94c9 35.5%,#238ccd 38.4%,#2386c9 41.3%,#2181c5 44.2%,#207dc1 47.1%,#1f7cc0 50.0%,#207dc1 52.9%,#2181c5 55.8%,#2386c9 58.7%,#238ccd 61.6%,#1f94c9 64.5%,#159cc5 67.4%,#0fa4c1 70.4%,#0facbe 73.3%,#0faebb 76.2%,#0fafba 79.1%,#0fafba 82.0%,#0fadbc 84.9%,#0fa7c0 87.8%,#1a99c7 90.7%,#2283c7 93.6%)"></i><i style="height:2px;background:linear-gradient(90deg,#2283c7 6.6%,#1a98c7 9.5%,#0fa6c0 12.4%,#0fadbd 15.3%,#0fafba 18.2%,#0fafba 21.0%,#0faebb 23.9%,#0fabbe 26.8%,#0fa4c1 29.7%,#159cc5 32.6%,#1f94c9 35.5%,#238ccd 38.4%,#2387ca 41.3%,#2281c5 44.2%,#207ec2 47.1%,#1f7cc0 50.0%,#207ec2 52.9%,#2281c5 55.8%,#2387ca 58.7%,#238ccd 61.6%,#1f94c9 64.5%,#159cc5 67.4%,#0fa4c1 70.3%,#0fabbe 73.2%,#0faebb 76.1%,#0fafba 79.0%,#0fafba 81.8%,#0fadbd 84.7%,#0fa6c0 87.6%,#1a98c7 90.5%,#2283c7 93.4%)"></i><i style="height:2px;background:linear-gradient(90deg,#2282c6 6.8%,#1b98c7 9.6%,#0fa6c1 12.5%,#0fadbd 15.4%,#0faebb 18.3%,#0fafba 21.2%,#0faebc 24.1%,#0fabbe 26.9%,#0fa4c1 29.8%,#159cc5 32.7%,#1f94c9 35.6%,#238ccd 38.5%,#2387ca 41.4%,#2282c6 44.2%,#207ec2 47.1%,#1f7dc1 50.0%,#207ec2 52.9%,#2282c6 55.8%,#2387ca 58.6%,#238ccd 61.5%,#1f94c9 64.4%,#159cc5 67.3%,#0fa4c1 70.2%,#0fabbe 73.1%,#0faebc 75.9%,#0fafba 78.8%,#0faebb 81.7%,#0fadbd 84.6%,#0fa6c1 87.5%,#1b98c7 90.4%,#2282c6 93.2%)"></i><i style="height:2px;background:linear-gradient(90deg,#2282c6 7.0%,#1b98c7 9.8%,#0fa5c1 12.7%,#0facbd 15.6%,#0faebb 18.4%,#0faebb 21.3%,#0fadbc 24.2%,#0faabf 27.0%,#0fa3c2 29.9%,#159cc5 32.8%,#1f94c9 35.7%,#238ccd 38.5%,#2387ca 41.4%,#2282c6 44.3%,#207fc3 47.1%,#207dc1 50.0%,#207fc3 52.9%,#2282c6 55.7%,#2387ca 58.6%,#238ccd 61.5%,#1f94c9 64.3%,#159cc5 67.2%,#0fa3c2 70.1%,#0faabf 73.0%,#0fadbc 75.8%,#0faebb 78.7%,#0faebb 81.6%,#0facbd 84.4%,#0fa5c1 87.3%,#1b98c7 90.2%,#2282c6 93.0%)"></i><i style="height:2px;background:linear-gradient(90deg,#2282c6 7.2%,#1c97c7 10.0%,#0fa4c1 12.9%,#0facbe 15.7%,#0faebb 18.6%,#0faebb 21.4%,#0fadbc 24.3%,#0faabf 27.2%,#0fa3c2 30.0%,#169bc5 32.9%,#1f94c9 35.7%,#238dcd 38.6%,#2387ca 41.4%,#2283c7 44.3%,#217fc3 47.1%,#207ec2 50.0%,#217fc3 52.9%,#2283c7 55.7%,#2387ca 58.6%,#238dcd 61.4%,#1f94c9 64.3%,#169bc5 67.1%,#0fa3c2 70.0%,#0faabf 72.8%,#0fadbc 75.7%,#0faebb 78.6%,#0faebb 81.4%,#0facbe 84.3%,#0fa4c1 87.1%,#1c97c7 90.0%,#2282c6 92.8%)"></i><i style="height:2px;background:linear-gradient(90deg,#2282c6 7.4%,#1d97c8 10.2%,#0fa4c1 13.0%,#0facbe 15.9%,#0faebc 18.7%,#0faebc 21.6%,#0fadbd 24.4%,#0fa9bf 27.3%,#0fa3c2 30.1%,#169bc5 32.9%,#1f94c9 35.8%,#238dcd 38.6%,#2387ca 41.5%,#2383c7 44.3%,#2180c4 47.2%,#207fc3 50.0%,#2180c4 52.8%,#2383c7 55.7%,#2387ca 58.5%,#238dcd 61.4%,#1f94c9 64.2%,#169bc5 67.1%,#0fa3c2 69.9%,#0fa9bf 72.7%,#0fadbd 75.6%,#0faebc 78.4%,#0faebc 81.3%,#0facbe 84.1%,#0fa4c1 87.0%,#1d97c8 89.8%,#2282c6 92.6%)"></i><i style="height:2px;background:linear-gradient(90deg,#2282c6 7.6%,#1d97c8 10.4%,#0fa3c2 13.2%,#0fabbe 16.1%,#0fadbc 18.9%,#0faebc 21.7%,#0fadbd 24.5%,#0fa9bf 27.4%,#0fa2c2 30.2%,#169bc5 33.0%,#1f94c9 35.9%,#238dcd 38.7%,#2388ca 41.5%,#2384c8 44.3%,#2180c4 47.2%,#217fc3 50.0%,#2180c4 52.8%,#2384c8 55.7%,#2388ca 58.5%,#238dcd 61.3%,#1f94c9 64.1%,#169bc5 67.0%,#0fa2c2 69.8%,#0fa9bf 72.6%,#0fadbd 75.5%,#0faebc 78.3%,#0fadbc 81.1%,#0fabbe 83.9%,#0fa3c2 86.8%,#1d97c8 89.6%,#2282c6 92.4%)"></i><i style="height:2px;background:linear-gradient(90deg,#2282c6 7.8%,#1e96c8 10.6%,#0fa3c2 13.4%,#0fabbf 16.2%,#0fadbd 19.0%,#0fadbc 21.9%,#0facbd 24.7%,#0fa8c0 27.5%,#0fa2c2 30.3%,#169bc5 33.1%,#1f94c9 35.9%,#228dcc 38.7%,#2388cb 41.6%,#2384c8 44.4%,#2181c5 47.2%,#2180c4 50.0%,#2181c5 52.8%,#2384c8 55.6%,#2388cb 58.4%,#228dcc 61.3%,#1f94c9 64.1%,#169bc5 66.9%,#0fa2c2 69.7%,#0fa8c0 72.5%,#0facbd 75.3%,#0fadbc 78.1%,#0fadbd 81.0%,#0fabbf 83.8%,#0fa3c2 86.6%,#1e96c8 89.4%,#2282c6 92.2%)"></i><i style="height:2px;background:linear-gradient(90deg,#2282c6 8.0%,#1e96c8 10.8%,#0fa2c2 13.6%,#0faabf 16.4%,#0fadbd 19.2%,#0fadbd 22.0%,#0facbe 24.8%,#0fa8c0 27.6%,#0fa2c2 30.4%,#179bc6 33.2%,#1f94c9 36.0%,#228dcc 38.8%,#2388cb 41.6%,#2385c8 44.4%,#2281c5 47.2%,#2180c4 50.0%,#2281c5 52.8%,#2385c8 55.6%,#2388cb 58.4%,#228dcc 61.2%,#1f94c9 64.0%,#179bc6 66.8%,#0fa2c2 69.6%,#0fa8c0 72.4%,#0facbe 75.2%,#0fadbd 78.0%,#0fadbd 80.8%,#0faabf 83.6%,#0fa2c2 86.4%,#1e96c8 89.2%,#2282c6 92.0%)"></i><i style="height:2px;background:linear-gradient(90deg,#2282c6 8.2%,#1d96c8 11.2%,#0fa3c2 14.2%,#0fabbf 17.2%,#0fadbd 20.1%,#0fadbd 23.1%,#0faabf 26.1%,#0fa5c1 29.1%,#139ec4 32.1%,#1d97c8 35.1%,#218fcb 38.1%,#238acb 41.0%,#2385c9 44.0%,#2282c6 47.0%,#2181c5 50.0%,#2282c6 53.0%,#2385c9 56.0%,#238acb 59.0%,#218fcb 61.9%,#1d97c8 64.9%,#139ec4 67.9%,#0fa5c1 70.9%,#0faabf 73.9%,#0fadbd 76.9%,#0fadbd 79.9%,#0fabbf 82.8%,#0fa3c2 85.8%,#1d96c8 88.8%,#2282c6 91.8%)"></i><i style="height:2px;background:linear-gradient(90deg,#2281c5 8.4%,#1e96c8 11.4%,#0fa2c2 14.4%,#0faabf 17.3%,#0facbd 20.3%,#0facbe 23.3%,#0faabf 26.2%,#0fa4c1 29.2%,#139dc4 32.2%,#1d97c8 35.2%,#2190cb 38.1%,#238acc 41.1%,#2386c9 44.1%,#2283c7 47.0%,#2282c6 50.0%,#2283c7 53.0%,#2386c9 55.9%,#238acc 58.9%,#2190cb 61.9%,#1d97c8 64.8%,#139dc4 67.8%,#0fa4c1 70.8%,#0faabf 73.8%,#0facbe 76.7%,#0facbd 79.7%,#0faabf 82.7%,#0fa2c2 85.6%,#1e96c8 88.6%,#2281c5 91.6%)"></i><i style="height:2px;background:linear-gradient(90deg,#2281c5 8.7%,#1e96c8 11.6%,#0fa2c2 14.6%,#0fa9bf 17.5%,#0facbe 20.5%,#0facbe 23.4%,#0fa9bf 26.4%,#0fa4c1 29.3%,#139dc4 32.3%,#1d97c8 35.2%,#2190cb 38.2%,#238acc 41.1%,#2386c9 44.1%,#2383c7 47.0%,#2282c6 50.0%,#2383c7 53.0%,#2386c9 55.9%,#238acc 58.9%,#2190cb 61.8%,#1d97c8 64.8%,#139dc4 67.7%,#0fa4c1 70.7%,#0fa9bf 73.6%,#0facbe 76.6%,#0facbe 79.5%,#0fa9bf 82.5%,#0fa2c2 85.4%,#1e96c8 88.4%,#2281c5 91.3%)"></i><i style="height:2px;background:linear-gradient(90deg,#2281c5 8.9%,#1e95c8 11.8%,#0fa1c2 14.8%,#0fa9bf 17.7%,#0facbe 20.6%,#0facbe 23.6%,#0fa9bf 26.5%,#0fa3c2 29.4%,#139dc4 32.4%,#1d97c8 35.3%,#2190cb 38.3%,#238acc 41.2%,#2386ca 44.1%,#2384c8 47.1%,#2283c7 50.0%,#2384c8 52.9%,#2386ca 55.9%,#238acc 58.8%,#2190cb 61.7%,#1d97c8 64.7%,#139dc4 67.6%,#0fa3c2 70.6%,#0fa9bf 73.5%,#0facbe 76.4%,#0facbe 79.4%,#0fa9bf 82.3%,#0fa1c2 85.2%,#1e95c8 88.2%,#2281c5 91.1%)"></i><i style="height:2px;background:linear-gradient(90deg,#2181c5 9.1%,#1f95c9 12.0%,#0fa1c3 15.0%,#0fa8c0 17.9%,#0fabbe 20.8%,#0fabbe 23.7%,#0fa8c0 26.6%,#0fa3c2 29.6%,#149dc5 32.5%,#1d97c8 35.4%,#2190cb 38.3%,#238bcc 41.2%,#2387ca 44.2%,#2384c8 47.1%,#2383c7 50.0%,#2384c8 52.9%,#2387ca 55.8%,#238bcc 58.8%,#2190cb 61.7%,#1d97c8 64.6%,#149dc5 67.5%,#0fa3c2 70.4%,#0fa8c0 73.4%,#0fabbe 76.3%,#0fabbe 79.2%,#0fa8c0 82.1%,#0fa1c3 85.0%,#1f95c9 88.0%,#2181c5 90.9%)"></i><i style="height:2px;background:linear-gradient(90deg,#2181c5 9.4%,#1f94c9 12.3%,#0fa0c3 15.2%,#0fa8c0 18.1%,#0fabbf 21.0%,#0fabbf 23.9%,#0fa8c0 26.8%,#0fa3c2 29.7%,#149dc5 32.6%,#1d97c8 35.5%,#2190cb 38.4%,#238bcc 41.3%,#2387ca 44.2%,#2385c9 47.1%,#2384c8 50.0%,#2385c9 52.9%,#2387ca 55.8%,#238bcc 58.7%,#2190cb 61.6%,#1d97c8 64.5%,#149dc5 67.4%,#0fa3c2 70.3%,#0fa8c0 73.2%,#0fabbf 76.1%,#0fabbf 79.0%,#0fa8c0 81.9%,#0fa0c3 84.8%,#1f94c9 87.7%,#2181c5 90.6%)"></i><i style="height:2px;background:linear-gradient(90deg,#2181c5 9.6%,#1f94c9 12.5%,#10a0c3 15.4%,#0fa7c0 18.3%,#0faabf 21.1%,#0faabf 24.0%,#0fa7c0 26.9%,#0fa2c2 29.8%,#149dc5 32.7%,#1d97c8 35.6%,#2191cb 38.5%,#238bcc 41.3%,#2388ca 44.2%,#2385c9 47.1%,#2385c8 50.0%,#2385c9 52.9%,#2388ca 55.8%,#238bcc 58.7%,#2191cb 61.5%,#1d97c8 64.4%,#149dc5 67.3%,#0fa2c2 70.2%,#0fa7c0 73.1%,#0faabf 76.0%,#0faabf 78.9%,#0fa7c0 81.7%,#10a0c3 84.6%,#1f94c9 87.5%,#2181c5 90.4%)"></i><i style="height:2px;background:linear-gradient(90deg,#2180c4 9.8%,#1f93c9 12.7%,#119fc4 15.6%,#0fa6c0 18.4%,#0faabf 21.3%,#0fa9bf 24.2%,#0fa7c0 27.0%,#0fa2c2 29.9%,#149dc5 32.8%,#1d97c8 35.7%,#2191cb 38.5%,#238bcd 41.4%,#2388cb 44.3%,#2386c9 47.1%,#2385c9 50.0%,#2386c9 52.9%,#2388cb 55.7%,#238bcd 58.6%,#2191cb 61.5%,#1d97c8 64.3%,#149dc5 67.2%,#0fa2c2 70.1%,#0fa7c0 73.0%,#0fa9bf 75.8%,#0faabf 78.7%,#0fa6c0 81.6%,#119fc4 84.4%,#1f93c9 87.3%,#2180c4 90.2%)"></i><i style="height:2px;background:linear-gradient(90deg,#2180c4 10.1%,#2093ca 12.9%,#119ec4 15.8%,#0fa6c1 18.6%,#0fa9bf 21.5%,#0fa9bf 24.3%,#0fa6c0 27.2%,#0fa2c2 30.0%,#149cc5 32.9%,#1d97c8 35.7%,#2191cb 38.6%,#238ccd 41.4%,#2388cb 44.3%,#2386c9 47.1%,#2386c9 50.0%,#2386c9 52.9%,#2388cb 55.7%,#238ccd 58.6%,#2191cb 61.4%,#1d97c8 64.3%,#149cc5 67.1%,#0fa2c2 70.0%,#0fa6c0 72.8%,#0fa9bf 75.7%,#0fa9bf 78.5%,#0fa6c1 81.4%,#119ec4 84.2%,#2093ca 87.1%,#2180c4 89.9%)"></i><i style="height:2px;background:linear-gradient(90deg,#2180c4 10.3%,#2092ca 13.2%,#129ec4 16.0%,#0fa5c1 18.8%,#0fa8c0 21.7%,#0fa8c0 24.5%,#0fa6c1 27.3%,#0fa1c2 30.2%,#159cc5 33.0%,#1d97c8 35.8%,#2091ca 38.7%,#238ccd 41.5%,#2389cb 44.3%,#2387ca 47.2%,#2386c9 50.0%,#2387ca 52.8%,#2389cb 55.7%,#238ccd 58.5%,#2091ca 61.3%,#1d97c8 64.2%,#159cc5 67.0%,#0fa1c2 69.8%,#0fa6c1 72.7%,#0fa8c0 75.5%,#0fa8c0 78.3%,#0fa5c1 81.2%,#129ec4 84.0%,#2092ca 86.8%,#2180c4 89.7%)"></i><i style="height:2px;background:linear-gradient(90deg,#2180c4 10.6%,#2092ca 13.4%,#139dc4 16.2%,#0fa4c1 19.0%,#0fa8c0 21.9%,#0fa8c0 24.7%,#0fa5c1 27.5%,#0fa1c3 30.3%,#159cc5 33.1%,#1d97c8 35.9%,#2091ca 38.7%,#238ccd 41.6%,#2389cb 44.4%,#2387ca 47.2%,#2386ca 50.0%,#2387ca 52.8%,#2389cb 55.6%,#238ccd 58.4%,#2091ca 61.3%,#1d97c8 64.1%,#159cc5 66.9%,#0fa1c3 69.7%,#0fa5c1 72.5%,#0fa8c0 75.3%,#0fa8c0 78.1%,#0fa4c1 81.0%,#139dc4 83.8%,#2092ca 86.6%,#2180c4 89.4%)"></i><i style="height:2px;background:linear-gradient(90deg,#2180c4 10.9%,#2091ca 13.7%,#149dc5 16.5%,#0fa4c1 19.2%,#0fa7c0 22.0%,#0fa7c0 24.8%,#0fa5c1 27.6%,#0fa1c3 30.4%,#159cc5 33.2%,#1d97c8 36.0%,#2092ca 38.8%,#238dcd 41.6%,#238acb 44.4%,#2388ca 47.2%,#2387ca 50.0%,#2388ca 52.8%,#238acb 55.6%,#238dcd 58.4%,#2092ca 61.2%,#1d97c8 64.0%,#159cc5 66.8%,#0fa1c3 69.6%,#0fa5c1 72.4%,#0fa7c0 75.2%,#0fa7c0 78.0%,#0fa4c1 80.8%,#149dc5 83.5%,#2091ca 86.3%,#2180c4 89.1%)"></i><i style="height:2px;background:linear-gradient(90deg,#217fc3 11.1%,#2092ca 14.1%,#139dc4 17.1%,#0fa4c1 20.1%,#0fa7c0 23.1%,#0fa6c0 26.1%,#0fa3c2 29.1%,#129ec4 32.1%,#1a99c7 35.0%,#1f93c9 38.0%,#228ecc 41.0%,#238acc 44.0%,#2388cb 47.0%,#2387ca 50.0%,#2388cb 53.0%,#238acc 56.0%,#228ecc 59.0%,#1f93c9 62.0%,#1a99c7 65.0%,#129ec4 67.9%,#0fa3c2 70.9%,#0fa6c0 73.9%,#0fa7c0 76.9%,#0fa4c1 79.9%,#139dc4 82.9%,#2092ca 85.9%,#217fc3 88.9%)"></i><i style="height:2px;background:linear-gradient(90deg,#217fc3 11.4%,#2091ca 14.4%,#149dc5 17.3%,#0fa3c2 20.3%,#0fa6c0 23.3%,#0fa6c1 26.2%,#0fa2c2 29.2%,#129ec4 32.2%,#1a99c7 35.2%,#1f93c9 38.1%,#228ecc 41.1%,#238bcc 44.1%,#2389cb 47.0%,#2388ca 50.0%,#2389cb 53.0%,#238bcc 55.9%,#228ecc 58.9%,#1f93c9 61.9%,#1a99c7 64.8%,#129ec4 67.8%,#0fa2c2 70.8%,#0fa6c1 73.8%,#0fa6c0 76.7%,#0fa3c2 79.7%,#149dc5 82.7%,#2091ca 85.6%,#217fc3 88.6%)"></i><i style="height:2px;background:linear-gradient(90deg,#217fc3 11.7%,#2191cb 14.6%,#159cc5 17.6%,#0fa3c2 20.5%,#0fa6c1 23.5%,#0fa5c1 26.4%,#0fa2c2 29.4%,#139ec4 32.3%,#1a99c7 35.3%,#1f94c9 38.2%,#228fcc 41.2%,#238bcc 44.1%,#2389cb 47.1%,#2388cb 50.0%,#2389cb 52.9%,#238bcc 55.9%,#228fcc 58.8%,#1f94c9 61.8%,#1a99c7 64.7%,#139ec4 67.7%,#0fa2c2 70.6%,#0fa5c1 73.6%,#0fa6c1 76.5%,#0fa3c2 79.5%,#159cc5 82.4%,#2191cb 85.4%,#217fc3 88.3%)"></i><i style="height:2px;background:linear-gradient(90deg,#207fc3 12.0%,#2190cb 14.9%,#159cc5 17.8%,#0fa2c2 20.7%,#0fa5c1 23.7%,#0fa4c1 26.6%,#0fa2c2 29.5%,#139dc4 32.4%,#1a99c7 35.4%,#1f94c9 38.3%,#228fcc 41.2%,#238bcd 44.1%,#2389cb 47.1%,#2389cb 50.0%,#2389cb 52.9%,#238bcd 55.9%,#228fcc 58.8%,#1f94c9 61.7%,#1a99c7 64.6%,#139dc4 67.6%,#0fa2c2 70.5%,#0fa4c1 73.4%,#0fa5c1 76.3%,#0fa2c2 79.3%,#159cc5 82.2%,#2190cb 85.1%,#207fc3 88.0%)"></i><i style="height:2px;background:linear-gradient(90deg,#207fc3 12.2%,#2190cb 15.1%,#169bc5 18.1%,#0fa1c2 21.0%,#0fa4c1 23.9%,#0fa4c1 26.8%,#0fa1c3 29.7%,#139dc4 32.6%,#1a99c7 35.5%,#1f94c9 38.4%,#218fcb 41.3%,#238ccd 44.2%,#238acc 47.1%,#2389cb 50.0%,#238acc 52.9%,#238ccd 55.8%,#218fcb 58.7%,#1f94c9 61.6%,#1a99c7 64.5%,#139dc4 67.4%,#0fa1c3 70.3%,#0fa4c1 73.2%,#0fa4c1 76.1%,#0fa1c2 79.0%,#169bc5 81.9%,#2190cb 84.9%,#207fc3 87.8%)"></i><i style="height:2px;background:linear-gradient(90deg,#207ec2 12.5%,#218fcb 15.4%,#179ac6 18.3%,#0fa1c3 21.2%,#0fa4c2 24.1%,#0fa3c2 26.9%,#0fa1c3 29.8%,#139dc4 32.7%,#1a99c7 35.6%,#1f94c9 38.5%,#2190cb 41.4%,#238ccd 44.2%,#238acc 47.1%,#238acb 50.0%,#238acc 52.9%,#238ccd 55.8%,#2190cb 58.6%,#1f94c9 61.5%,#1a99c7 64.4%,#139dc4 67.3%,#0fa1c3 70.2%,#0fa3c2 73.1%,#0fa4c2 75.9%,#0fa1c3 78.8%,#179ac6 81.7%,#218fcb 84.6%,#207ec2 87.5%)"></i><i style="height:2px;background:linear-gradient(90deg,#207ec2 12.8%,#228ecc 15.7%,#189ac6 18.5%,#0fa0c3 21.4%,#0fa3c2 24.3%,#0fa3c2 27.1%,#0fa0c3 30.0%,#149dc5 32.8%,#1a99c7 35.7%,#1f94c9 38.6%,#2190cb 41.4%,#238ccd 44.3%,#238bcc 47.1%,#238acc 50.0%,#238bcc 52.9%,#238ccd 55.7%,#2190cb 58.6%,#1f94c9 61.4%,#1a99c7 64.3%,#149dc5 67.2%,#0fa0c3 70.0%,#0fa3c2 72.9%,#0fa3c2 75.7%,#0fa0c3 78.6%,#189ac6 81.5%,#228ecc 84.3%,#207ec2 87.2%)"></i><i style="height:2px;background:linear-gradient(90deg,#207ec2 13.1%,#228ecc 16.0%,#1999c6 18.8%,#109fc3 21.6%,#0fa2c2 24.5%,#0fa2c2 27.3%,#0fa0c3 30.1%,#149dc5 33.0%,#1a98c7 35.8%,#1f94c9 38.7%,#2190cb 41.5%,#238dcd 44.3%,#238bcc 47.2%,#238acc 50.0%,#238bcc 52.8%,#238dcd 55.7%,#2190cb 58.5%,#1f94c9 61.3%,#1a98c7 64.2%,#149dc5 67.0%,#0fa0c3 69.9%,#0fa2c2 72.7%,#0fa2c2 75.5%,#109fc3 78.4%,#1999c6 81.2%,#228ecc 84.0%,#207ec2 86.9%)"></i><i style="height:2px;background:linear-gradient(90deg,#207ec2 13.4%,#228dcc 16.3%,#1a98c7 19.1%,#119fc4 21.9%,#0fa1c2 24.7%,#0fa2c2 27.5%,#109fc3 30.3%,#159cc5 33.1%,#1a98c7 35.9%,#1f94c9 38.8%,#2190cb 41.6%,#228dcc 44.4%,#238bcd 47.2%,#238bcc 50.0%,#238bcd 52.8%,#228dcc 55.6%,#2190cb 58.4%,#1f94c9 61.2%,#1a98c7 64.1%,#159cc5 66.9%,#109fc3 69.7%,#0fa2c2 72.5%,#0fa1c2 75.3%,#119fc4 78.1%,#1a98c7 80.9%,#228dcc 83.7%,#207ec2 86.6%)"></i><i style="height:2px;background:linear-gradient(90deg,#207dc1 13.8%,#228ecc 16.8%,#1999c6 19.8%,#119fc4 22.8%,#0fa1c3 25.8%,#0fa0c3 28.9%,#129ec4 31.9%,#189ac6 34.9%,#1e96c8 37.9%,#2091ca 40.9%,#228ecc 44.0%,#238ccd 47.0%,#238bcc 50.0%,#238ccd 53.0%,#228ecc 56.0%,#2091ca 59.1%,#1e96c8 62.1%,#189ac6 65.1%,#129ec4 68.1%,#0fa0c3 71.1%,#0fa1c3 74.2%,#119fc4 77.2%,#1999c6 80.2%,#228ecc 83.2%,#207dc1 86.2%)"></i><i style="height:2px;background:linear-gradient(90deg,#207dc1 14.1%,#228dcc 17.1%,#1a98c7 20.1%,#129ec4 23.1%,#0fa0c3 26.1%,#0fa0c3 29.0%,#139dc4 32.0%,#189ac6 35.0%,#1e96c8 38.0%,#2092ca 41.0%,#228ecc 44.0%,#238ccd 47.0%,#238bcd 50.0%,#238ccd 53.0%,#228ecc 56.0%,#2092ca 59.0%,#1e96c8 62.0%,#189ac6 65.0%,#139dc4 68.0%,#0fa0c3 71.0%,#0fa0c3 73.9%,#129ec4 76.9%,#1a98c7 79.9%,#228dcc 82.9%,#207dc1 85.9%)"></i><i style="height:2px;background:linear-gradient(90deg,#1f7dc1 14.4%,#238ccd 17.4%,#1c98c7 20.3%,#139dc4 23.3%,#0fa0c3 26.3%,#109fc3 29.2%,#149dc5 32.2%,#199ac6 35.2%,#1e96c8 38.1%,#2092ca 41.1%,#228ecc 44.1%,#238ccd 47.0%,#238ccd 50.0%,#238ccd 53.0%,#228ecc 55.9%,#2092ca 58.9%,#1e96c8 61.9%,#199ac6 64.8%,#149dc5 67.8%,#109fc3 70.8%,#0fa0c3 73.7%,#139dc4 76.7%,#1c98c7 79.7%,#238ccd 82.6%,#1f7dc1 85.6%)"></i><i style="height:2px;background:linear-gradient(90deg,#1f7dc1 14.7%,#238ccd 17.7%,#1d97c8 20.6%,#149dc5 23.5%,#109fc3 26.5%,#119fc4 29.4%,#149dc5 32.4%,#1999c6 35.3%,#1e96c8 38.2%,#2092ca 41.2%,#228fcc 44.1%,#238dcd 47.1%,#238ccd 50.0%,#238dcd 52.9%,#228fcc 55.9%,#2092ca 58.8%,#1e96c8 61.8%,#1999c6 64.7%,#149dc5 67.6%,#119fc4 70.6%,#109fc3 73.5%,#149dc5 76.5%,#1d97c8 79.4%,#238ccd 82.3%,#1f7dc1 85.3%)"></i><i style="height:2px;background:linear-gradient(90deg,#1f7cc0 15.1%,#238bcd 18.0%,#1e96c8 20.9%,#159cc5 23.8%,#119ec4 26.7%,#129ec4 29.6%,#159cc5 32.5%,#1999c6 35.4%,#1e95c8 38.4%,#2092ca 41.3%,#228fcc 44.2%,#228dcc 47.1%,#238ccd 50.0%,#228dcc 52.9%,#228fcc 55.8%,#2092ca 58.7%,#1e95c8 61.6%,#1999c6 64.6%,#159cc5 67.5%,#129ec4 70.4%,#119ec4 73.3%,#159cc5 76.2%,#1e96c8 79.1%,#238bcd 82.0%,#1f7cc0 84.9%)"></i><i style="height:2px;background:linear-gradient(90deg,#1f7cc0 15.4%,#238bcc 18.3%,#1e95c8 21.2%,#169bc5 24.1%,#129ec4 26.9%,#139ec4 29.8%,#159cc5 32.7%,#1a99c7 35.6%,#1e95c8 38.5%,#2092ca 41.4%,#218fcb 44.2%,#228dcc 47.1%,#238dcd 50.0%,#228dcc 52.9%,#218fcb 55.8%,#2092ca 58.6%,#1e95c8 61.5%,#1a99c7 64.4%,#159cc5 67.3%,#139ec4 70.2%,#129ec4 73.1%,#169bc5 75.9%,#1e95c8 78.8%,#238bcc 81.7%,#1f7cc0 84.6%)"></i><i style="height:2px;background:linear-gradient(90deg,#1f7cc0 15.8%,#238acc 18.6%,#1f95c9 21.5%,#179ac6 24.3%,#149dc5 27.2%,#139dc4 30.0%,#169bc5 32.9%,#1a99c7 35.7%,#1e95c8 38.6%,#2092ca 41.4%,#218fcb 44.3%,#228ecc 47.1%,#228dcc 50.0%,#228ecc 52.9%,#218fcb 55.7%,#2092ca 58.6%,#1e95c8 61.4%,#1a99c7 64.3%,#169bc5 67.1%,#139dc4 70.0%,#149dc5 72.8%,#179ac6 75.7%,#1f95c9 78.5%,#238acc 81.4%,#1f7cc0 84.2%)"></i><i style="height:2px;background:linear-gradient(90deg,#1f7bbf 16.1%,#238acb 18.9%,#1f94c9 21.8%,#189ac6 24.6%,#159cc5 27.4%,#149cc5 30.2%,#179bc6 33.1%,#1b98c7 35.9%,#1e95c8 38.7%,#2092ca 41.5%,#2190cb 44.4%,#228ecc 47.2%,#228dcc 50.0%,#228ecc 52.8%,#2190cb 55.6%,#2092ca 58.5%,#1e95c8 61.3%,#1b98c7 64.1%,#179bc6 66.9%,#149cc5 69.8%,#159cc5 72.6%,#189ac6 75.4%,#1f94c9 78.2%,#238acb 81.1%,#1f7bbf 83.9%)"></i><i style="height:2px;background:linear-gradient(90deg,#1f7bbf 16.5%,#2389cb 19.3%,#2093ca 22.1%,#1a99c7 24.9%,#169bc5 27.7%,#159cc5 30.5%,#189ac6 33.2%,#1b98c7 36.0%,#1f95c9 38.8%,#2092ca 41.6%,#2190cb 44.4%,#228ecc 47.2%,#228ecc 50.0%,#228ecc 52.8%,#2190cb 55.6%,#2092ca 58.4%,#1f95c9 61.2%,#1b98c7 64.0%,#189ac6 66.8%,#159cc5 69.5%,#169bc5 72.3%,#1a99c7 75.1%,#2093ca 77.9%,#2389cb 80.7%,#1f7bbf 83.5%)"></i><i style="height:2px;background:linear-gradient(90deg,#1e7bbf 16.9%,#2389cb 19.9%,#1f93c9 22.9%,#1999c6 25.9%,#169bc5 28.9%,#179bc6 31.9%,#1a99c7 34.9%,#1e96c8 37.9%,#2093ca 41.0%,#2190cb 44.0%,#228ecc 47.0%,#228ecc 50.0%,#228ecc 53.0%,#2190cb 56.0%,#2093ca 59.0%,#1e96c8 62.1%,#1a99c7 65.1%,#179bc6 68.1%,#169bc5 71.1%,#1999c6 74.1%,#1f93c9 77.1%,#2389cb 80.1%,#1e7bbf 83.1%)"></i><i style="height:2px;background:linear-gradient(90deg,#1e7abe 17.2%,#2389cb 20.2%,#2093ca 23.2%,#1b98c7 26.2%,#189ac6 29.2%,#189ac6 32.1%,#1b98c7 35.1%,#1e95c8 38.1%,#2093ca 41.1%,#2190cb 44.0%,#228ecc 47.0%,#228ecc 50.0%,#228ecc 53.0%,#2190cb 56.0%,#2093ca 58.9%,#1e95c8 61.9%,#1b98c7 64.9%,#189ac6 67.9%,#189ac6 70.8%,#1b98c7 73.8%,#2093ca 76.8%,#2389cb 79.8%,#1e7abe 82.8%)"></i><i style="height:2px;background:linear-gradient(90deg,#1e7abe 17.6%,#2388cb 20.6%,#2092ca 23.5%,#1c97c7 26.5%,#1999c6 29.4%,#1999c6 32.3%,#1c98c7 35.3%,#1e95c8 38.2%,#2092ca 41.2%,#2190cb 44.1%,#228fcc 47.1%,#228ecc 50.0%,#228fcc 52.9%,#2190cb 55.9%,#2092ca 58.8%,#1e95c8 61.8%,#1c98c7 64.7%,#1999c6 67.7%,#1999c6 70.6%,#1c97c7 73.5%,#2092ca 76.5%,#2388cb 79.4%,#1e7abe 82.4%)"></i><i style="height:2px;background:linear-gradient(90deg,#1e7abe 18.0%,#2387ca 20.9%,#2191cb 23.8%,#1e96c8 26.7%,#1a99c7 29.7%,#1a99c7 32.6%,#1c97c7 35.5%,#1f95c9 38.4%,#2092ca 41.3%,#2190cb 44.2%,#228fcc 47.1%,#228ecc 50.0%,#228fcc 52.9%,#2190cb 55.8%,#2092ca 58.7%,#1f95c9 61.6%,#1c97c7 64.5%,#1a99c7 67.4%,#1a99c7 70.3%,#1e96c8 73.3%,#2191cb 76.2%,#2387ca 79.1%,#1e7abe 82.0%)"></i><i style="height:2px;background:linear-gradient(90deg,#1e79bd 18.4%,#2387ca 21.3%,#2190cb 24.2%,#1e95c8 27.0%,#1b98c7 29.9%,#1b98c7 32.8%,#1d97c8 35.7%,#1f94c9 38.5%,#2092ca 41.4%,#2190cb 44.3%,#228fcc 47.1%,#228ecc 50.0%,#228fcc 52.9%,#2190cb 55.7%,#2092ca 58.6%,#1f94c9 61.5%,#1d97c8 64.3%,#1b98c7 67.2%,#1b98c7 70.1%,#1e95c8 73.0%,#2190cb 75.8%,#2387ca 78.7%,#1e79bd 81.6%)"></i><i style="height:2px;background:linear-gradient(90deg,#1e79bd 18.8%,#2386c9 21.7%,#228fcc 24.5%,#1f94c9 27.3%,#1d97c8 30.2%,#1c97c7 33.0%,#1e96c8 35.8%,#1f94c9 38.7%,#2092ca 41.5%,#2190cb 44.3%,#228fcc 47.2%,#228ecc 50.0%,#228fcc 52.8%,#2190cb 55.7%,#2092ca 58.5%,#1f94c9 61.3%,#1e96c8 64.2%,#1c97c7 67.0%,#1d97c8 69.8%,#1f94c9 72.7%,#228fcc 75.5%,#2386c9 78.3%,#1e79bd 81.2%)"></i><i style="height:2px;background:linear-gradient(90deg,#1e79bd 19.3%,#2385c9 22.1%,#228ecc 24.9%,#1f93c9 27.6%,#1e96c8 30.4%,#1e96c8 33.2%,#1e95c8 36.0%,#1f94c9 38.8%,#2092ca 41.6%,#2190cb 44.4%,#228fcc 47.2%,#228ecc 50.0%,#228fcc 52.8%,#2190cb 55.6%,#2092ca 58.4%,#1f94c9 61.2%,#1e95c8 64.0%,#1e96c8 66.8%,#1e96c8 69.6%,#1f93c9 72.4%,#228ecc 75.1%,#2385c9 77.9%,#1e79bd 80.7%)"></i><i style="height:2px;background:linear-gradient(90deg,#1d78bd 19.7%,#2386c9 22.7%,#228ecc 25.8%,#1f93c9 28.8%,#1e95c8 31.8%,#1e95c8 34.9%,#1f94c9 37.9%,#2092ca 40.9%,#2190cb 43.9%,#228ecc 47.0%,#228ecc 50.0%,#228ecc 53.0%,#2190cb 56.1%,#2092ca 59.1%,#1f94c9 62.1%,#1e95c8 65.1%,#1e95c8 68.2%,#1f93c9 71.2%,#228ecc 74.2%,#2386c9 77.3%,#1d78bd 80.3%)"></i><i style="height:2px;background:linear-gradient(90deg,#1d78bc 20.1%,#2385c9 23.1%,#228dcc 26.1%,#2092ca 29.1%,#1f94c9 32.1%,#1f94c9 35.1%,#1f93c9 38.1%,#2091ca 41.0%,#2190cb 44.0%,#228ecc 47.0%,#228ecc 50.0%,#228ecc 53.0%,#2190cb 56.0%,#2091ca 59.0%,#1f93c9 61.9%,#1f94c9 64.9%,#1f94c9 67.9%,#2092ca 70.9%,#228dcc 73.9%,#2385c9 76.9%,#1d78bc 79.9%)"></i><i style="height:2px;background:linear-gradient(90deg,#1d77bc 20.6%,#2384c8 23.5%,#238ccd 26.5%,#2091ca 29.4%,#1f93c9 32.4%,#1f94c9 35.3%,#2092ca 38.2%,#2191cb 41.2%,#218fcb 44.1%,#228ecc 47.1%,#228ecc 50.0%,#228ecc 52.9%,#218fcb 55.9%,#2191cb 58.8%,#2092ca 61.8%,#1f94c9 64.7%,#1f93c9 67.6%,#2091ca 70.6%,#238ccd 73.5%,#2384c8 76.5%,#1d77bc 79.4%)"></i><i style="height:2px;background:linear-gradient(90deg,#1d77bc 21.1%,#2383c7 24.0%,#238bcc 26.8%,#2190cb 29.7%,#2092ca 32.6%,#2093ca 35.5%,#2092ca 38.4%,#2190cb 41.3%,#228fcc 44.2%,#228ecc 47.1%,#228dcc 50.0%,#228ecc 52.9%,#228fcc 55.8%,#2190cb 58.7%,#2092ca 61.6%,#2093ca 64.5%,#2092ca 67.4%,#2190cb 70.3%,#238bcc 73.2%,#2383c7 76.0%,#1d77bc 78.9%)"></i><i style="height:2px;background:linear-gradient(90deg,#1d76bb 21.5%,#2282c6 24.4%,#238acc 27.2%,#228fcc 30.1%,#2091ca 32.9%,#2092ca 35.8%,#2191cb 38.6%,#2190cb 41.5%,#228ecc 44.3%,#228dcc 47.2%,#228dcc 50.0%,#228dcc 52.8%,#228ecc 55.7%,#2190cb 58.5%,#2191cb 61.4%,#2092ca 64.2%,#2091ca 67.1%,#228fcc 69.9%,#238acc 72.8%,#2282c6 75.6%,#1d76bb 78.5%)"></i><i style="height:2px;background:linear-gradient(90deg,#1d76bb 22.0%,#2281c5 24.8%,#2389cb 27.6%,#228ecc 30.4%,#2190cb 33.2%,#2191cb 36.0%,#2190cb 38.8%,#228fcc 41.6%,#228ecc 44.4%,#238dcd 47.2%,#238dcd 50.0%,#238dcd 52.8%,#228ecc 55.6%,#228fcc 58.4%,#2190cb 61.2%,#2191cb 64.0%,#2190cb 66.8%,#228ecc 69.6%,#2389cb 72.4%,#2281c5 75.2%,#1d76bb 78.0%)"></i><i style="height:2px;background:linear-gradient(90deg,#1d75bb 22.5%,#2281c5 25.6%,#2389cb 28.6%,#228ecc 31.7%,#218fcb 34.7%,#2190cb 37.8%,#228fcc 40.8%,#228dcc 43.9%,#238dcd 46.9%,#238ccd 50.0%,#238dcd 53.1%,#228dcc 56.1%,#228fcc 59.2%,#2190cb 62.2%,#218fcb 65.3%,#228ecc 68.3%,#2389cb 71.4%,#2281c5 74.4%,#1d75bb 77.5%)"></i><i style="height:2px;background:linear-gradient(90deg,#1d75ba 23.0%,#2180c4 26.0%,#2388cb 29.0%,#238ccd 32.0%,#228ecc 35.0%,#228fcc 38.0%,#228ecc 41.0%,#238dcd 44.0%,#238ccd 47.0%,#238ccd 50.0%,#238ccd 53.0%,#238dcd 56.0%,#228ecc 59.0%,#228fcc 62.0%,#228ecc 65.0%,#238ccd 68.0%,#2388cb 71.0%,#2180c4 74.0%,#1d75ba 77.0%)"></i><i style="height:2px;background:linear-gradient(90deg,#1c75ba 23.6%,#217fc3 26.5%,#2387ca 29.4%,#238bcc 32.4%,#228dcc 35.3%,#228dcc 38.2%,#238dcd 41.2%,#238ccd 44.1%,#238ccd 47.1%,#238bcd 50.0%,#238ccd 52.9%,#238ccd 55.9%,#238dcd 58.8%,#228dcc 61.8%,#228dcc 64.7%,#238bcc 67.6%,#2387ca 70.6%,#217fc3 73.5%,#1c75ba 76.4%)"></i><i style="height:2px;background:linear-gradient(90deg,#1c74ba 24.1%,#207ec2 27.0%,#2386c9 29.9%,#238acc 32.7%,#238ccd 35.6%,#238ccd 38.5%,#238ccd 41.4%,#238bcd 44.2%,#238bcc 47.1%,#238bcc 50.0%,#238bcc 52.9%,#238bcd 55.8%,#238ccd 58.6%,#238ccd 61.5%,#238ccd 64.4%,#238acc 67.3%,#2386c9 70.1%,#207ec2 73.0%,#1c74ba 75.9%)"></i><i style="height:2px;background:linear-gradient(90deg,#1c74b9 24.7%,#1f7dc1 27.5%,#2385c9 30.3%,#2389cb 33.1%,#238bcc 35.9%,#238bcd 38.7%,#238bcc 41.6%,#238bcc 44.4%,#238acc 47.2%,#238acc 50.0%,#238acc 52.8%,#238bcc 55.6%,#238bcc 58.4%,#238bcd 61.3%,#238bcc 64.1%,#2389cb 66.9%,#2385c9 69.7%,#1f7dc1 72.5%,#1c74b9 75.3%)"></i><i style="height:2px;background:linear-gradient(90deg,#1c73b9 25.2%,#207dc1 28.3%,#2385c9 31.4%,#2389cb 34.5%,#238acc 37.6%,#238acc 40.7%,#238acc 43.8%,#238acc 46.9%,#238acb 50.0%,#238acc 53.1%,#238acc 56.2%,#238acc 59.3%,#238acc 62.4%,#2389cb 65.5%,#2385c9 68.6%,#207dc1 71.7%,#1c73b9 74.8%)"></i><i style="height:2px;background:linear-gradient(90deg,#1e72b8 25.8%,#1f7cc0 28.9%,#2384c8 31.9%,#2388ca 34.9%,#2389cb 37.9%,#2389cb 40.9%,#2389cb 44.0%,#2389cb 47.0%,#2389cb 50.0%,#2389cb 53.0%,#2389cb 56.0%,#2389cb 59.1%,#2389cb 62.1%,#2388ca 65.1%,#2384c8 68.1%,#1f7cc0 71.1%,#1e72b8 74.2%)"></i><i style="height:2px;background:linear-gradient(90deg,#1f71b8 26.4%,#1e7bbf 29.4%,#2283c7 32.3%,#2386c9 35.3%,#2388ca 38.2%,#2388cb 41.2%,#2388cb 44.1%,#2388cb 47.1%,#2388cb 50.0%,#2388cb 52.9%,#2388cb 55.9%,#2388cb 58.8%,#2388ca 61.8%,#2386c9 64.7%,#2283c7 67.7%,#1e7bbf 70.6%,#1f71b8 73.6%)"></i><i style="height:2px;background:linear-gradient(90deg,#2170b7 27.1%,#1e79be 29.9%,#2281c5 32.8%,#2385c9 35.7%,#2387ca 38.5%,#2387ca 41.4%,#2387ca 44.3%,#2387ca 47.1%,#2387ca 50.0%,#2387ca 52.9%,#2387ca 55.7%,#2387ca 58.6%,#2387ca 61.5%,#2385c9 64.3%,#2281c5 67.2%,#1e79be 70.1%,#2170b7 72.9%)"></i><i style="height:2px;background:linear-gradient(90deg,#236fb6 27.7%,#1d78bd 30.5%,#217fc3 33.3%,#2384c8 36.1%,#2386c9 38.9%,#2386c9 41.7%,#2386ca 44.4%,#2386c9 47.2%,#2386c9 50.0%,#2386c9 52.8%,#2386ca 55.6%,#2386c9 58.3%,#2386c9 61.1%,#2384c8 63.9%,#217fc3 66.7%,#1d78bd 69.5%,#236fb6 72.3%)"></i><i style="height:2px;background:linear-gradient(90deg,#256eb6 28.4%,#1d78bd 31.5%,#217fc3 34.6%,#2383c7 37.7%,#2385c9 40.8%,#2385c9 43.8%,#2385c9 46.9%,#2385c9 50.0%,#2385c9 53.1%,#2385c9 56.2%,#2385c9 59.2%,#2383c7 62.3%,#217fc3 65.4%,#1d78bd 68.5%,#256eb6 71.6%)"></i><i style="height:2px;background:linear-gradient(90deg,#276db5 29.1%,#1d77bc 32.1%,#207ec2 35.1%,#2282c6 38.1%,#2383c7 41.1%,#2384c8 44.0%,#2384c8 47.0%,#2384c8 50.0%,#2384c8 53.0%,#2384c8 56.0%,#2383c7 58.9%,#2282c6 61.9%,#207ec2 64.9%,#1d77bc 67.9%,#276db5 70.9%)"></i><i style="height:2px;background:linear-gradient(90deg,#296db4 29.9%,#1d75bb 32.7%,#1f7cc0 35.6%,#2180c4 38.5%,#2282c6 41.4%,#2283c7 44.2%,#2283c7 47.1%,#2283c7 50.0%,#2283c7 52.9%,#2283c7 55.8%,#2282c6 58.6%,#2180c4 61.5%,#1f7cc0 64.4%,#1d75bb 67.3%,#296db4 70.1%)"></i><i style="height:2px;background:linear-gradient(90deg,#2b6cb4 30.6%,#1c74ba 33.4%,#1e7abe 36.2%,#207ec2 38.9%,#2180c4 41.7%,#2181c5 44.5%,#2281c5 47.2%,#2281c5 50.0%,#2281c5 52.8%,#2181c5 55.5%,#2180c4 58.3%,#207ec2 61.1%,#1e7abe 63.8%,#1c74ba 66.6%,#2b6cb4 69.4%)"></i><i style="height:2px;background:linear-gradient(90deg,#2d6bb3 31.5%,#1c74ba 34.6%,#1e7abe 37.6%,#207dc1 40.7%,#207fc3 43.8%,#217fc3 46.9%,#2180c4 50.0%,#217fc3 53.1%,#207fc3 56.2%,#207dc1 59.3%,#1e7abe 62.4%,#1c74ba 65.4%,#2d6bb3 68.5%)"></i><i style="height:2px;background:linear-gradient(90deg,#2f6ab2 32.3%,#1f72b8 35.3%,#1d78bd 38.2%,#1f7bbf 41.2%,#1f7dc1 44.1%,#207ec2 47.1%,#207ec2 50.0%,#207ec2 52.9%,#1f7dc1 55.9%,#1f7bbf 58.8%,#1d78bd 61.8%,#1f72b8 64.7%,#2f6ab2 67.7%)"></i><i style="height:2px;background:linear-gradient(90deg,#3269b1 33.2%,#246fb6 36.0%,#1d76bb 38.8%,#1e79bd 41.6%,#1e7bbf 44.4%,#1f7cc0 47.2%,#1f7cc0 50.0%,#1f7cc0 52.8%,#1e7bbf 55.6%,#1e79bd 58.4%,#1d76bb 61.2%,#246fb6 64.0%,#3269b1 66.8%)"></i><i style="height:2px;background:linear-gradient(90deg,#3468b0 34.2%,#256fb6 37.4%,#1d75bb 40.5%,#1d78bd 43.7%,#1e79be 46.8%,#1e7abe 50.0%,#1e79be 53.2%,#1d78bd 56.3%,#1d75bb 59.5%,#256fb6 62.6%,#3468b0 65.8%)"></i><i style="height:2px;background:linear-gradient(90deg,#3667af 35.2%,#2b6cb4 38.2%,#1c73b9 41.1%,#1d76bb 44.1%,#1d77bc 47.0%,#1d77bc 50.0%,#1d77bc 53.0%,#1d76bb 55.9%,#1c73b9 58.9%,#2b6cb4 61.8%,#3667af 64.8%)"></i><i style="height:2px;background:linear-gradient(90deg,#3867af 36.4%,#3169b1 39.1%,#2370b7 41.8%,#1c73b9 44.5%,#1c75ba 47.3%,#1d75ba 50.0%,#1c75ba 52.7%,#1c73b9 55.5%,#2370b7 58.2%,#3169b1 60.9%,#3867af 63.6%)"></i><i style="height:2px;background:linear-gradient(90deg,#3966ae 37.6%,#3369b1 40.7%,#266eb5 43.8%,#2071b8 46.9%,#1e72b8 50.0%,#2071b8 53.1%,#266eb5 56.2%,#3369b1 59.3%,#3966ae 62.4%)"></i><i style="height:2px;background:linear-gradient(90deg,#3b65ae 39.0%,#3866af 41.7%,#2f6ab2 44.5%,#296cb4 47.2%,#276db5 50.0%,#296cb4 52.8%,#2f6ab2 55.5%,#3866af 58.3%,#3b65ae 61.0%)"></i><i style="height:2px;background:linear-gradient(90deg,#3c64ad 40.6%,#3b65ae 43.7%,#3568b0 46.9%,#3269b1 50.0%,#3568b0 53.1%,#3b65ae 56.3%,#3c64ad 59.4%)"></i><i style="height:2px;background:linear-gradient(90deg,#3e64ad 42.5%,#3d64ad 46.2%,#3b65ae 50.0%,#3d64ad 53.8%,#3e64ad 57.5%)"></i><i style="height:2px;background:linear-gradient(90deg,#3f63ad 45.2%,#4062ac 50.0%,#3f63ad 54.8%)"></i><i style="height:0.4px;background:linear-gradient(90deg,#4062ac 50.0%,#4062ac 50.0%,#4062ac 50.0%)"></i></div>
<svg width="1935" height="917" viewBox="0 0 1935 917">
<defs><linearGradient id="cb" x1="0" y1="1" x2="0" y2="0">
<stop offset="0.0000" stop-color="#504294"/>
<stop offset="0.0312" stop-color="#4a50a3"/>
<stop offset="0.0625" stop-color="#445fab"/>
<stop offset="0.0938" stop-color="#306ab2"/>
<stop offset="0.1250" stop-color="#1d75ba"/>
<stop offset="0.1562" stop-color="#1f7cc0"/>
<stop offset="0.1875" stop-color="#2282c6"/>
<stop offset="0.2188" stop-color="#2388ca"/>
<stop offset="0.2500" stop-color="#228dcc"/>
<stop offset="0.2812" stop-color="#1f93c9"/>
<stop offset="0.3125" stop-color="#199ac6"/>
<stop offset="0.3438" stop-color="#0fa0c3"/>
<stop offset="0.3750" stop-color="#0fa7c0"/>
<stop offset="0.4062" stop-color="#0fadbc"/>
<stop offset="0.4375" stop-color="#0fb0b8"/>
<stop offset="0.4688" stop-color="#15b3b3"/>
<stop offset="0.5000" stop-color="#27b5ac"/>
<stop offset="0.5312" stop-color="#42baa3"/>
<stop offset="0.5625" stop-color="#5ebd99"/>
<stop offset="0.5938" stop-color="#77c090"/>
<stop offset="0.6250" stop-color="#8bbf8c"/>
<stop offset="0.6562" stop-color="#a0be87"/>
<stop offset="0.6875" stop-color="#b2bb82"/>
<stop offset="0.7188" stop-color="#c5b97c"/>
<stop offset="0.7500" stop-color="#d2b677"/>
<stop offset="0.7812" stop-color="#dfb571"/>
<stop offset="0.8125" stop-color="#edb768"/>
<stop offset="0.8438" stop-color="#fab95f"/>
<stop offset="0.8750" stop-color="#f4c45c"/>
<stop offset="0.9062" stop-color="#efcf5a"/>
<stop offset="0.9375" stop-color="#ecd958"/>
<stop offset="0.9688" stop-color="#e9e356"/>
<stop offset="1.0000" stop-color="#e8eb58"/>
</linearGradient><clipPath id="pb"><rect x="1079.5" y="133" width="782" height="606"/></clipPath></defs>
<g shape-rendering="crispEdges">
<rect x="789.7" y="727.62" width="35.8" height="9.68" fill="#504496"/>
<rect x="789.7" y="718.24" width="35.8" height="9.68" fill="#4c4ba0"/>
<rect x="789.7" y="708.86" width="35.8" height="9.68" fill="#4854a5"/>
<rect x="789.7" y="699.48" width="35.8" height="9.68" fill="#465caa"/>
<rect x="789.7" y="690.09" width="35.8" height="9.68" fill="#4162ac"/>
<rect x="789.7" y="680.71" width="35.8" height="9.68" fill="#3767af"/>
<rect x="789.7" y="671.33" width="35.8" height="9.68" fill="#296db4"/>
<rect x="789.7" y="661.95" width="35.8" height="9.68" fill="#1c73b9"/>
<rect x="789.7" y="652.57" width="35.8" height="9.68" fill="#1d77bc"/>
<rect x="789.7" y="643.19" width="35.8" height="9.68" fill="#1e7abe"/>
<rect x="789.7" y="633.81" width="35.8" height="9.68" fill="#207dc1"/>
<rect x="789.7" y="624.42" width="35.8" height="9.68" fill="#2181c5"/>
<rect x="789.7" y="615.04" width="35.8" height="9.68" fill="#2384c8"/>
<rect x="789.7" y="605.66" width="35.8" height="9.68" fill="#2387ca"/>
<rect x="789.7" y="596.28" width="35.8" height="9.68" fill="#2389cb"/>
<rect x="789.7" y="586.90" width="35.8" height="9.68" fill="#238ccd"/>
<rect x="789.7" y="577.52" width="35.8" height="9.68" fill="#228fcc"/>
<rect x="789.7" y="568.14" width="35.8" height="9.68" fill="#2092ca"/>
<rect x="789.7" y="558.76" width="35.8" height="9.68" fill="#1f95c9"/>
<rect x="789.7" y="549.38" width="35.8" height="9.68" fill="#1b98c7"/>
<rect x="789.7" y="539.99" width="35.8" height="9.68" fill="#169bc5"/>
<rect x="789.7" y="530.61" width="35.8" height="9.68" fill="#129ec4"/>
<rect x="789.7" y="521.23" width="35.8" height="9.68" fill="#0fa2c2"/>
<rect x="789.7" y="511.85" width="35.8" height="9.68" fill="#0fa5c1"/>
<rect x="789.7" y="502.47" width="35.8" height="9.68" fill="#0fa9bf"/>
<rect x="789.7" y="493.09" width="35.8" height="9.68" fill="#0facbe"/>
<rect x="789.7" y="483.71" width="35.8" height="9.68" fill="#0faebb"/>
<rect x="789.7" y="474.32" width="35.8" height="9.68" fill="#0fb0b9"/>
<rect x="789.7" y="464.94" width="35.8" height="9.68" fill="#0fb1b7"/>
<rect x="789.7" y="455.56" width="35.8" height="9.68" fill="#12b2b4"/>
<rect x="789.7" y="446.18" width="35.8" height="9.68" fill="#19b3b2"/>
<rect x="789.7" y="436.80" width="35.8" height="9.68" fill="#20b4ae"/>
<rect x="789.7" y="427.42" width="35.8" height="9.68" fill="#2eb7aa"/>
<rect x="789.7" y="418.04" width="35.8" height="9.68" fill="#3cb9a5"/>
<rect x="789.7" y="408.66" width="35.8" height="9.68" fill="#49bba0"/>
<rect x="789.7" y="399.28" width="35.8" height="9.68" fill="#57bc9b"/>
<rect x="789.7" y="389.89" width="35.8" height="9.68" fill="#64be96"/>
<rect x="789.7" y="380.51" width="35.8" height="9.68" fill="#72c091"/>
<rect x="789.7" y="371.13" width="35.8" height="9.68" fill="#7cc08f"/>
<rect x="789.7" y="361.75" width="35.8" height="9.68" fill="#86bf8d"/>
<rect x="789.7" y="352.37" width="35.8" height="9.68" fill="#90bf8a"/>
<rect x="789.7" y="342.99" width="35.8" height="9.68" fill="#9abe88"/>
<rect x="789.7" y="333.61" width="35.8" height="9.68" fill="#a4bd86"/>
<rect x="789.7" y="324.23" width="35.8" height="9.68" fill="#aebc83"/>
<rect x="789.7" y="314.84" width="35.8" height="9.68" fill="#b7bb80"/>
<rect x="789.7" y="305.46" width="35.8" height="9.68" fill="#c1b97e"/>
<rect x="789.7" y="296.08" width="35.8" height="9.68" fill="#c8b87b"/>
<rect x="789.7" y="286.70" width="35.8" height="9.68" fill="#cfb778"/>
<rect x="789.7" y="277.32" width="35.8" height="9.68" fill="#d5b576"/>
<rect x="789.7" y="267.94" width="35.8" height="9.68" fill="#dcb473"/>
<rect x="789.7" y="258.56" width="35.8" height="9.68" fill="#e3b56f"/>
<rect x="789.7" y="249.18" width="35.8" height="9.68" fill="#e9b66a"/>
<rect x="789.7" y="239.79" width="35.8" height="9.68" fill="#f0b766"/>
<rect x="789.7" y="230.41" width="35.8" height="9.68" fill="#f7b861"/>
<rect x="789.7" y="221.03" width="35.8" height="9.68" fill="#f8bc5e"/>
<rect x="789.7" y="211.65" width="35.8" height="9.68" fill="#f6c15d"/>
<rect x="789.7" y="202.27" width="35.8" height="9.68" fill="#f3c75c"/>
<rect x="789.7" y="192.89" width="35.8" height="9.68" fill="#f0cc5a"/>
<rect x="789.7" y="183.51" width="35.8" height="9.68" fill="#efd259"/>
<rect x="789.7" y="174.12" width="35.8" height="9.68" fill="#edd758"/>
<rect x="789.7" y="164.74" width="35.8" height="9.68" fill="#ecdc57"/>
<rect x="789.7" y="155.36" width="35.8" height="9.68" fill="#eae156"/>
<rect x="789.7" y="145.98" width="35.8" height="9.68" fill="#e9e655"/>
<rect x="789.7" y="136.60" width="35.8" height="9.68" fill="#e8ea57"/>
</g>
<rect x="789.7" y="136.6" width="35.8" height="600.4" fill="none" stroke="#3c3c3c" stroke-width="1.3"/>
<rect x="1489.3" y="398.5" width="253.4" height="325.6" fill="#fff" stroke="#333" stroke-width="1"/>
<g clip-path="url(#pb)" fill="none" stroke-width="5.7" stroke-linejoin="round">
<polyline stroke="#1a82ba" points="1079.5,446.6 1082.8,446.5 1086.0,446.4 1089.3,446.0 1092.5,445.6 1095.8,445.0 1099.0,444.3 1102.3,443.5 1105.5,442.6 1108.8,441.5 1112.0,440.4 1115.3,439.1 1118.5,437.7 1121.8,436.2 1125.0,434.6 1128.3,432.9 1131.5,431.1 1134.8,429.2 1138.0,427.1 1141.3,425.0 1144.5,422.8 1147.8,420.5 1151.0,418.2 1154.3,415.7 1157.5,413.1 1160.8,410.5 1164.0,407.8 1167.3,405.0 1170.5,402.2 1173.8,399.3 1177.0,396.3 1180.3,393.2 1183.5,390.1 1186.8,386.9 1190.0,383.7 1193.3,380.5 1196.5,377.1 1199.8,373.8 1203.0,370.4 1206.3,366.9 1209.5,363.4 1212.8,359.9 1216.1,356.4 1219.3,352.8 1222.6,349.2 1225.8,345.6 1229.1,341.9 1232.3,338.3 1235.6,334.6 1238.8,330.9 1242.1,327.2 1245.3,323.5 1248.6,319.8 1251.8,316.1 1255.1,312.4 1258.3,308.7 1261.6,305.0 1264.8,301.3 1268.1,297.7 1271.3,294.0 1274.6,290.4 1277.8,286.7 1281.1,283.1 1284.3,279.5 1287.6,276.0 1290.8,272.4 1294.1,268.9 1297.3,265.4 1300.6,262.0 1303.8,258.6 1307.1,255.2 1310.3,251.8 1313.6,248.5 1316.8,245.3 1320.1,242.0 1323.3,238.8 1326.6,235.6 1329.8,232.5 1333.1,229.5 1336.3,226.4 1339.6,223.4 1342.9,220.5 1346.1,217.6 1349.4,214.7 1352.6,211.9 1355.9,209.1 1359.1,206.4 1362.4,203.8 1365.6,201.1 1368.9,198.6 1372.1,196.0 1375.4,193.6 1378.6,191.1 1381.9,188.7 1385.1,186.4 1388.4,184.1 1391.6,181.9 1394.9,179.7 1398.1,177.5 1401.4,175.5 1404.6,173.4 1407.9,171.4 1411.1,169.5 1414.4,167.6 1417.6,165.8 1420.9,164.0 1424.1,162.2 1427.4,160.5 1430.6,158.9 1433.9,157.3 1437.1,155.8 1440.4,154.3 1443.6,152.9 1446.9,151.6 1450.1,150.3 1453.4,149.0 1456.6,147.8 1459.9,146.7 1463.1,145.7 1466.4,144.6 1469.7,143.7 1472.9,142.8 1476.2,142.0 1479.4,141.3 1482.7,140.6 1485.9,140.0 1489.2,139.5 1492.4,139.1 1495.7,138.7 1498.9,138.4 1502.2,138.2 1505.4,138.0 1508.7,138.0 1511.9,138.0 1515.2,138.2 1518.4,138.4 1521.7,138.7 1524.9,139.1 1528.2,139.6 1531.4,140.1 1534.7,140.8 1537.9,141.6 1541.2,142.5 1544.4,143.5 1547.7,144.6 1550.9,145.7 1554.2,147.0 1557.4,148.5 1560.7,150.0 1563.9,151.6 1567.2,153.3 1570.4,155.2 1573.7,157.1 1576.9,159.2 1580.2,161.3 1583.4,163.6 1586.7,166.0 1589.9,168.5 1593.2,171.1 1596.4,173.9 1599.7,176.7 1603.0,179.6 1606.2,182.7 1609.5,185.8 1612.7,189.1 1616.0,192.4 1619.2,195.9 1622.5,199.4 1625.7,203.0 1629.0,206.8 1632.2,210.6 1635.5,214.5 1638.7,218.5 1642.0,222.5 1645.2,226.7 1648.5,230.9 1651.7,235.2 1655.0,239.5 1658.2,243.9 1661.5,248.4 1664.7,252.9 1668.0,257.5 1671.2,262.1 1674.5,266.7 1677.7,271.4 1681.0,276.1 1684.2,280.8 1687.5,285.5 1690.7,290.3 1694.0,295.0 1697.2,299.8 1700.5,304.6 1703.7,309.3 1707.0,314.1 1710.2,318.8 1713.5,323.5 1716.7,328.2 1720.0,332.8 1723.2,337.4 1726.5,342.0 1729.8,346.5 1733.0,350.9 1736.3,355.3 1739.5,359.7 1742.8,364.0 1746.0,368.2 1749.3,372.3 1752.5,376.3 1755.8,380.3 1759.0,384.2 1762.3,388.0 1765.5,391.6 1768.8,395.2 1772.0,398.7 1775.3,402.1 1778.5,405.4 1781.8,408.5 1785.0,411.6 1788.3,414.5 1791.5,417.3 1794.8,420.0 1798.0,422.6 1801.3,425.0 1804.5,427.4 1807.8,429.6 1811.0,431.6 1814.3,433.5 1817.5,435.3 1820.8,437.0 1824.0,438.5 1827.3,439.9 1830.5,441.2 1833.8,442.3 1837.0,443.3 1840.3,444.2 1843.5,444.9 1846.8,445.5 1850.0,446.0 1853.3,446.3 1856.5,446.5 1859.8,446.6"/>
<polyline stroke="#dc6937" points="1079.5,492.6 1082.8,492.6 1086.0,492.4 1089.3,492.0 1092.5,491.4 1095.8,490.7 1099.0,489.8 1102.3,488.8 1105.5,487.7 1108.8,486.4 1112.0,485.0 1115.3,483.4 1118.5,481.8 1121.8,480.0 1125.0,478.1 1128.3,476.1 1131.5,474.0 1134.8,471.7 1138.0,469.4 1141.3,467.0 1144.5,464.5 1147.8,461.9 1151.0,459.3 1154.3,456.6 1157.5,453.8 1160.8,450.9 1164.0,448.0 1167.3,445.0 1170.5,442.0 1173.8,438.9 1177.0,435.8 1180.3,432.7 1183.5,429.5 1186.8,426.3 1190.0,423.1 1193.3,419.9 1196.5,416.6 1199.8,413.4 1203.0,410.1 1206.3,406.9 1209.5,403.6 1212.8,400.3 1216.1,397.1 1219.3,393.9 1222.6,390.6 1225.8,387.4 1229.1,384.3 1232.3,381.1 1235.6,378.0 1238.8,374.9 1242.1,371.8 1245.3,368.8 1248.6,365.8 1251.8,362.9 1255.1,360.0 1258.3,357.2 1261.6,354.3 1264.8,351.6 1268.1,348.9 1271.3,346.2 1274.6,343.6 1277.8,341.0 1281.1,338.5 1284.3,336.0 1287.6,333.6 1290.8,331.3 1294.1,329.0 1297.3,326.7 1300.6,324.5 1303.8,322.3 1307.1,320.2 1310.3,318.1 1313.6,316.0 1316.8,314.0 1320.1,312.1 1323.3,310.1 1326.6,308.2 1329.8,306.4 1333.1,304.5 1336.3,302.7 1339.6,300.9 1342.9,299.1 1346.1,297.3 1349.4,295.6 1352.6,293.8 1355.9,292.0 1359.1,290.3 1362.4,288.5 1365.6,286.7 1368.9,285.0 1372.1,283.2 1375.4,281.3 1378.6,279.5 1381.9,277.6 1385.1,275.7 1388.4,273.8 1391.6,271.8 1394.9,269.8 1398.1,267.8 1401.4,265.7 1404.6,263.5 1407.9,261.3 1411.1,259.1 1414.4,256.8 1417.6,254.4 1420.9,252.0 1424.1,249.6 1427.4,247.1 1430.6,244.5 1433.9,241.9 1437.1,239.2 1440.4,236.5 1443.6,233.7 1446.9,230.8 1450.1,228.0 1453.4,225.0 1456.6,222.1 1459.9,219.1 1463.1,216.0 1466.4,213.0 1469.7,209.9 1472.9,206.8 1476.2,203.6 1479.4,200.5 1482.7,197.3 1485.9,194.2 1489.2,191.1 1492.4,188.0 1495.7,184.9 1498.9,181.8 1502.2,178.8 1505.4,175.8 1508.7,172.9 1511.9,170.0 1515.2,167.2 1518.4,164.5 1521.7,161.9 1524.9,159.4 1528.2,156.9 1531.4,154.6 1534.7,152.4 1537.9,150.3 1541.2,148.4 1544.4,146.6 1547.7,144.9 1550.9,143.4 1554.2,142.1 1557.4,141.0 1560.7,140.0 1563.9,139.2 1567.2,138.6 1570.4,138.2 1573.7,138.0 1576.9,138.0 1580.2,138.2 1583.4,138.7 1586.7,139.3 1589.9,140.2 1593.2,141.3 1596.4,142.6 1599.7,144.2 1603.0,145.9 1606.2,148.0 1609.5,150.2 1612.7,152.7 1616.0,155.4 1619.2,158.3 1622.5,161.4 1625.7,164.8 1629.0,168.4 1632.2,172.2 1635.5,176.2 1638.7,180.4 1642.0,184.8 1645.2,189.4 1648.5,194.2 1651.7,199.1 1655.0,204.3 1658.2,209.6 1661.5,215.0 1664.7,220.6 1668.0,226.4 1671.2,232.2 1674.5,238.2 1677.7,244.3 1681.0,250.5 1684.2,256.9 1687.5,263.2 1690.7,269.7 1694.0,276.2 1697.2,282.8 1700.5,289.4 1703.7,296.0 1707.0,302.7 1710.2,309.3 1713.5,316.0 1716.7,322.7 1720.0,329.3 1723.2,335.9 1726.5,342.4 1729.8,348.9 1733.0,355.4 1736.3,361.8 1739.5,368.0 1742.8,374.2 1746.0,380.3 1749.3,386.3 1752.5,392.2 1755.8,398.0 1759.0,403.6 1762.3,409.1 1765.5,414.5 1768.8,419.7 1772.0,424.8 1775.3,429.7 1778.5,434.4 1781.8,439.0 1785.0,443.4 1788.3,447.6 1791.5,451.6 1794.8,455.5 1798.0,459.1 1801.3,462.6 1804.5,465.9 1807.8,469.0 1811.0,471.9 1814.3,474.6 1817.5,477.1 1820.8,479.5 1824.0,481.6 1827.3,483.5 1830.5,485.3 1833.8,486.8 1837.0,488.2 1840.3,489.4 1843.5,490.4 1846.8,491.2 1850.0,491.8 1853.3,492.3 1856.5,492.5 1859.8,492.6"/>
<polyline stroke="#ebb04b" points="1079.5,591.9 1082.8,591.8 1086.0,591.4 1089.3,590.8 1092.5,589.9 1095.8,588.8 1099.0,587.5 1102.3,586.0 1105.5,584.3 1108.8,582.4 1112.0,580.4 1115.3,578.2 1118.5,575.8 1121.8,573.3 1125.0,570.7 1128.3,568.0 1131.5,565.1 1134.8,562.2 1138.0,559.2 1141.3,556.2 1144.5,553.1 1147.8,549.9 1151.0,546.7 1154.3,543.5 1157.5,540.3 1160.8,537.0 1164.0,533.8 1167.3,530.5 1170.5,527.3 1173.8,524.1 1177.0,520.9 1180.3,517.8 1183.5,514.7 1186.8,511.7 1190.0,508.7 1193.3,505.7 1196.5,502.9 1199.8,500.1 1203.0,497.3 1206.3,494.7 1209.5,492.1 1212.8,489.6 1216.1,487.2 1219.3,484.8 1222.6,482.6 1225.8,480.5 1229.1,478.4 1232.3,476.4 1235.6,474.6 1238.8,472.8 1242.1,471.2 1245.3,469.6 1248.6,468.2 1251.8,466.8 1255.1,465.6 1258.3,464.4 1261.6,463.4 1264.8,462.5 1268.1,461.7 1271.3,461.0 1274.6,460.4 1277.8,459.9 1281.1,459.4 1284.3,459.1 1287.6,458.9 1290.8,458.8 1294.1,458.8 1297.3,458.9 1300.6,459.0 1303.8,459.3 1307.1,459.6 1310.3,459.9 1313.6,460.3 1316.8,460.8 1320.1,461.3 1323.3,461.9 1326.6,462.5 1329.8,463.1 1333.1,463.7 1336.3,464.3 1339.6,464.9 1342.9,465.5 1346.1,466.1 1349.4,466.6 1352.6,467.0 1355.9,467.4 1359.1,467.7 1362.4,467.8 1365.6,467.9 1368.9,467.9 1372.1,467.7 1375.4,467.4 1378.6,466.9 1381.9,466.3 1385.1,465.5 1388.4,464.5 1391.6,463.2 1394.9,461.8 1398.1,460.2 1401.4,458.3 1404.6,456.2 1407.9,453.8 1411.1,451.2 1414.4,448.3 1417.6,445.2 1420.9,441.8 1424.1,438.2 1427.4,434.2 1430.6,430.1 1433.9,425.6 1437.1,420.9 1440.4,415.9 1443.6,410.7 1446.9,405.3 1450.1,399.6 1453.4,393.6 1456.6,387.5 1459.9,381.1 1463.1,374.6 1466.4,367.8 1469.7,360.9 1472.9,353.8 1476.2,346.6 1479.4,339.3 1482.7,331.8 1485.9,324.3 1489.2,316.6 1492.4,309.0 1495.7,301.2 1498.9,293.5 1502.2,285.8 1505.4,278.1 1508.7,270.4 1511.9,262.8 1515.2,255.2 1518.4,247.8 1521.7,240.4 1524.9,233.2 1528.2,226.2 1531.4,219.3 1534.7,212.6 1537.9,206.1 1541.2,199.9 1544.4,193.8 1547.7,188.1 1550.9,182.5 1554.2,177.3 1557.4,172.3 1560.7,167.7 1563.9,163.3 1567.2,159.3 1570.4,155.6 1573.7,152.2 1576.9,149.2 1580.2,146.5 1583.4,144.2 1586.7,142.3 1589.9,140.7 1593.2,139.4 1596.4,138.6 1599.7,138.1 1603.0,138.0 1606.2,138.3 1609.5,138.9 1612.7,139.9 1616.0,141.3 1619.2,143.0 1622.5,145.1 1625.7,147.6 1629.0,150.4 1632.2,153.6 1635.5,157.1 1638.7,160.9 1642.0,165.1 1645.2,169.6 1648.5,174.5 1651.7,179.6 1655.0,185.0 1658.2,190.8 1661.5,196.8 1664.7,203.1 1668.0,209.6 1671.2,216.4 1674.5,223.5 1677.7,230.8 1681.0,238.3 1684.2,246.0 1687.5,253.9 1690.7,262.0 1694.0,270.3 1697.2,278.7 1700.5,287.3 1703.7,296.0 1707.0,304.8 1710.2,313.7 1713.5,322.7 1716.7,331.8 1720.0,341.0 1723.2,350.2 1726.5,359.4 1729.8,368.6 1733.0,377.8 1736.3,387.0 1739.5,396.2 1742.8,405.3 1746.0,414.3 1749.3,423.2 1752.5,432.1 1755.8,440.8 1759.0,449.4 1762.3,457.9 1765.5,466.1 1768.8,474.3 1772.0,482.2 1775.3,489.9 1778.5,497.4 1781.8,504.6 1785.0,511.7 1788.3,518.4 1791.5,525.0 1794.8,531.2 1798.0,537.1 1801.3,542.8 1804.5,548.2 1807.8,553.3 1811.0,558.0 1814.3,562.5 1817.5,566.6 1820.8,570.4 1824.0,573.9 1827.3,577.1 1830.5,580.0 1833.8,582.5 1837.0,584.7 1840.3,586.6 1843.5,588.3 1846.8,589.6 1850.0,590.6 1853.3,591.3 1856.5,591.7 1859.8,591.9"/>
<polyline stroke="#884ca0" points="1079.5,701.2 1082.8,700.6 1086.0,699.8 1089.3,698.8 1092.5,697.5 1095.8,696.1 1099.0,694.5 1102.3,692.7 1105.5,690.7 1108.8,688.6 1112.0,686.3 1115.3,683.9 1118.5,681.4 1121.8,678.7 1125.0,676.0 1128.3,673.1 1131.5,670.2 1134.8,667.2 1138.0,664.1 1141.3,661.0 1144.5,657.8 1147.8,654.6 1151.0,651.4 1154.3,648.2 1157.5,644.9 1160.8,641.7 1164.0,638.5 1167.3,635.4 1170.5,632.2 1173.8,629.2 1177.0,626.1 1180.3,623.2 1183.5,620.3 1186.8,617.6 1190.0,614.9 1193.3,612.4 1196.5,609.9 1199.8,607.6 1203.0,605.4 1206.3,603.3 1209.5,601.3 1212.8,599.5 1216.1,597.8 1219.3,596.2 1222.6,594.7 1225.8,593.4 1229.1,592.2 1232.3,591.1 1235.6,590.2 1238.8,589.4 1242.1,588.8 1245.3,588.3 1248.6,587.9 1251.8,587.7 1255.1,587.7 1258.3,587.8 1261.6,588.0 1264.8,588.4 1268.1,589.0 1271.3,589.8 1274.6,590.6 1277.8,591.7 1281.1,592.9 1284.3,594.3 1287.6,595.9 1290.8,597.7 1294.1,599.6 1297.3,601.7 1300.6,604.0 1303.8,606.4 1307.1,609.1 1310.3,611.9 1313.6,614.9 1316.8,618.0 1320.1,621.2 1323.3,624.6 1326.6,627.9 1329.8,631.4 1333.1,634.8 1336.3,638.2 1339.6,641.6 1342.9,644.9 1346.1,648.1 1349.4,651.2 1352.6,654.2 1355.9,657.0 1359.1,659.6 1362.4,662.1 1365.6,664.3 1368.9,666.2 1372.1,667.8 1375.4,669.2 1378.6,670.2 1381.9,670.8 1385.1,671.1 1388.4,670.9 1391.6,670.4 1394.9,669.3 1398.1,667.8 1401.4,665.8 1404.6,663.3 1407.9,660.3 1411.1,656.9 1414.4,653.0 1417.6,648.6 1420.9,643.9 1424.1,638.7 1427.4,633.1 1430.6,627.1 1433.9,620.8 1437.1,614.0 1440.4,607.0 1443.6,599.5 1446.9,591.8 1450.1,583.7 1453.4,575.3 1456.6,566.7 1459.9,557.7 1463.1,548.5 1466.4,539.0 1469.7,529.3 1472.9,519.4 1476.2,509.2 1479.4,498.8 1482.7,488.3 1485.9,477.5 1489.2,466.6 1492.4,455.6 1495.7,444.4 1498.9,433.0 1502.2,421.6 1505.4,410.0 1508.7,398.4 1511.9,386.6 1515.2,374.8 1518.4,363.0 1521.7,351.1 1524.9,339.2 1528.2,327.4 1531.4,315.6 1534.7,304.0 1537.9,292.6 1541.2,281.3 1544.4,270.3 1547.7,259.5 1550.9,249.1 1554.2,238.9 1557.4,229.2 1560.7,219.9 1563.9,211.0 1567.2,202.6 1570.4,194.6 1573.7,187.2 1576.9,180.2 1580.2,173.7 1583.4,167.7 1586.7,162.3 1589.9,157.4 1593.2,153.0 1596.4,149.2 1599.7,145.9 1603.0,143.1 1606.2,141.0 1609.5,139.4 1612.7,138.4 1616.0,138.0 1619.2,138.2 1622.5,139.0 1625.7,140.5 1629.0,142.5 1632.2,145.3 1635.5,148.6 1638.7,152.6 1642.0,157.3 1645.2,162.6 1648.5,168.5 1651.7,174.9 1655.0,181.8 1658.2,189.2 1661.5,197.0 1664.7,205.3 1668.0,213.9 1671.2,222.9 1674.5,232.2 1677.7,241.8 1681.0,251.6 1684.2,261.6 1687.5,271.7 1690.7,282.1 1694.0,292.6 1697.2,303.2 1700.5,314.0 1703.7,324.8 1707.0,335.7 1710.2,346.7 1713.5,357.7 1716.7,368.7 1720.0,379.8 1723.2,390.8 1726.5,401.8 1729.8,412.8 1733.0,423.7 1736.3,434.5 1739.5,445.2 1742.8,455.8 1746.0,466.2 1749.3,476.5 1752.5,486.6 1755.8,496.6 1759.0,506.3 1762.3,515.9 1765.5,525.3 1768.8,534.4 1772.0,543.4 1775.3,552.2 1778.5,560.8 1781.8,569.3 1785.0,577.5 1788.3,585.5 1791.5,593.4 1794.8,601.1 1798.0,608.5 1801.3,615.8 1804.5,622.9 1807.8,629.8 1811.0,636.6 1814.3,643.1 1817.5,649.4 1820.8,655.6 1824.0,661.5 1827.3,667.2 1830.5,672.6 1833.8,677.6 1837.0,682.1 1840.3,686.2 1843.5,689.6 1846.8,692.5 1850.0,694.7 1853.3,696.2 1856.5,696.9 1859.8,696.9"/>
</g>
<g fill="#000">
<rect x="161.1" y="136" width="600.9" height="4.1"/>
<rect x="161.1" y="736.2" width="600.9" height="2.9"/>
<rect x="161.1" y="136" width="4" height="603.1"/>
<rect x="758.1" y="136" width="3.9" height="603.1"/>
<rect x="165" y="434.8" width="11" height="3.1"/>
<rect x="746.9" y="434.9" width="11.3" height="3"/>
<rect x="1077" y="136" width="785.8" height="4.1"/>
<rect x="1077" y="736.2" width="785.8" height="2.9"/>
<rect x="1858.2" y="136" width="3.1" height="603.1"/>
<rect x="1079" y="138" width="1.1" height="600" fill="#222"/>
<rect x="1080" y="434.8" width="17" height="3.4"/>
<rect x="1467.7" y="724" width="3.6" height="13"/>
</g>
<rect x="460" y="138" width="3" height="600.2" fill="#dc3228"/>
<rect x="1501.1" y="438.8" width="42.8" height="6.2" fill="#1a82ba"/>
<rect x="1501.1" y="515.1" width="42.8" height="6.2" fill="#dc6937"/>
<rect x="1501.1" y="590.7" width="42.8" height="6.2" fill="#ebb04b"/>
<rect x="1503.1" y="666.8" width="42.8" height="6.2" fill="#884ca0"/>
<text><tspan x="135.5" y="81.8" font-size="76.5" textLength="86.19" lengthAdjust="spacingAndGlyphs">(a)</tspan></text>
<text><tspan class="it" x="307.5" y="82.4" font-size="65.2" textLength="36.02" lengthAdjust="spacingAndGlyphs">σ</tspan> <tspan class="ns" x="360.6" y="78.3" font-size="64.8" textLength="49.85" lengthAdjust="spacingAndGlyphs">=</tspan> <tspan x="424.8" y="82.1" font-size="77.9" textLength="37.64" lengthAdjust="spacingAndGlyphs">2</tspan><tspan x="461.2" y="81.3" font-size="66.8">,</tspan> <tspan class="it" x="502.6" y="82.1" font-size="74.8" textLength="26.70" lengthAdjust="spacingAndGlyphs">γ</tspan> <tspan class="ns" x="547.1" y="78.3" font-size="64.8" textLength="50.21" lengthAdjust="spacingAndGlyphs">=</tspan> <tspan class="b1" x="616.2" y="81.2" font-size="76.2" textLength="30.49" lengthAdjust="spacingAndGlyphs">1</tspan></text>
<text><tspan class="b1" x="98.8" y="170.2" font-size="76.8" textLength="30.73" lengthAdjust="spacingAndGlyphs">1</tspan></text>
<text><tspan x="95.1" y="475.0" font-size="78.4" textLength="38.00" lengthAdjust="spacingAndGlyphs">0</tspan></text>
<text><tspan class="ns" x="59.5" y="746.7" font-size="88.0" textLength="48.88" lengthAdjust="spacingAndGlyphs">−</tspan><tspan class="b1" x="105.7" y="735.0" font-size="76.4" textLength="30.55" lengthAdjust="spacingAndGlyphs">1</tspan></text>
<text><tspan class="it" x="25.4" y="462.4" font-size="72.7" textLength="31.69" lengthAdjust="spacingAndGlyphs">s</tspan><tspan class="it" x="56.8" y="468.2" font-size="45.2" textLength="20.36" lengthAdjust="spacingAndGlyphs">y</tspan></text>
<text><tspan class="ns" x="109.8" y="827.6" font-size="92.0" textLength="48.63" lengthAdjust="spacingAndGlyphs">−</tspan><tspan class="b1" x="156.0" y="815.3" font-size="76.4" textLength="30.55" lengthAdjust="spacingAndGlyphs">1</tspan></text>
<text><tspan x="432.3" y="815.8" font-size="77.2" textLength="39.65" lengthAdjust="spacingAndGlyphs">0</tspan></text>
<text><tspan class="b1" x="728.8" y="815.2" font-size="76.8" textLength="30.73" lengthAdjust="spacingAndGlyphs">1</tspan></text>
<text><tspan class="it" x="431.5" y="877.1" font-size="71.7" textLength="31.24" lengthAdjust="spacingAndGlyphs">s</tspan><tspan class="it" x="461.2" y="883.3" font-size="43.5" textLength="19.43" lengthAdjust="spacingAndGlyphs">x</tspan></text>
<text><tspan class="b1" x="838.8" y="171.9" font-size="76.7" textLength="30.67" lengthAdjust="spacingAndGlyphs">1</tspan></text>
<text><tspan x="835.9" y="749.9" font-size="78.1" textLength="38.59" lengthAdjust="spacingAndGlyphs">0</tspan></text>
<text><tspan x="1052.3" y="80.4" font-size="75.0" textLength="91.66" lengthAdjust="spacingAndGlyphs">(b)</tspan></text>
<text><tspan x="1223.0" y="82.1" font-size="74.4" textLength="516.63" lengthAdjust="spacingAndGlyphs">spectral intensity</tspan></text>
<text><tspan class="b1" x="1020.6" y="170.2" font-size="76.8" textLength="30.73" lengthAdjust="spacingAndGlyphs">1</tspan></text>
<text><tspan x="1017.8" y="752.1" font-size="78.1" textLength="38.82" lengthAdjust="spacingAndGlyphs">0</tspan></text>
<text><tspan class="it" x="971.9" y="437.4" font-size="80.0" textLength="42.98" lengthAdjust="spacingAndGlyphs">S</tspan><tspan x="1015.6" y="402.5" font-size="44.1" textLength="16.17" lengthAdjust="spacingAndGlyphs">(</tspan><tspan class="it" x="1035.7" y="402.3" font-size="40.6" textLength="17.71" lengthAdjust="spacingAndGlyphs">s</tspan><tspan x="1058.5" y="402.5" font-size="44.1" textLength="15.78" lengthAdjust="spacingAndGlyphs">)</tspan></text>
<text><tspan class="ns" x="1043.4" y="824.6" font-size="92.0" textLength="50.09" lengthAdjust="spacingAndGlyphs">−</tspan><tspan x="1086.2" y="813.1" font-size="77.8" textLength="38.00" lengthAdjust="spacingAndGlyphs">0</tspan><tspan x="1124.8" y="812.7" font-size="80.0">.</tspan><tspan x="1143.7" y="813.1" font-size="77.7" textLength="37.64" lengthAdjust="spacingAndGlyphs">5</tspan><tspan x="1183.1" y="813.1" font-size="77.0" textLength="37.64" lengthAdjust="spacingAndGlyphs">π</tspan></text>
<text><tspan x="1450.5" y="813.1" font-size="77.8" textLength="39.53" lengthAdjust="spacingAndGlyphs">0</tspan></text>
<text><tspan class="it" x="1449.9" y="894.2" font-size="75.4" textLength="41.46" lengthAdjust="spacingAndGlyphs">θ</tspan></text>
<text><tspan x="1779.8" y="813.4" font-size="78.4" textLength="38.24" lengthAdjust="spacingAndGlyphs">0</tspan><tspan x="1818.0" y="813.1" font-size="76.6">.</tspan><tspan x="1836.6" y="813.4" font-size="78.8" textLength="36.52" lengthAdjust="spacingAndGlyphs">5</tspan><tspan x="1875.9" y="813.4" font-size="75.1" textLength="37.43" lengthAdjust="spacingAndGlyphs">π</tspan></text>
<text><tspan class="it" x="1551.7" y="462.5" font-size="77.7" textLength="43.53" lengthAdjust="spacingAndGlyphs">d</tspan><tspan class="ns" x="1586.9" y="458.6" font-size="66.8" textLength="49.36" lengthAdjust="spacingAndGlyphs">=</tspan><tspan x="1633.5" y="462.5" font-size="79.7" textLength="37.53" lengthAdjust="spacingAndGlyphs">0</tspan><tspan x="1670.8" y="462.1" font-size="80.0">.</tspan><tspan class="b1" x="1692.4" y="461.8" font-size="78.6" textLength="31.44" lengthAdjust="spacingAndGlyphs">1</tspan></text>
<text><tspan class="it" x="1553.4" y="535.4" font-size="77.7" textLength="43.53" lengthAdjust="spacingAndGlyphs">d</tspan><tspan class="ns" x="1588.6" y="531.5" font-size="66.8" textLength="49.36" lengthAdjust="spacingAndGlyphs">=</tspan><tspan x="1635.2" y="535.4" font-size="79.7" textLength="37.53" lengthAdjust="spacingAndGlyphs">0</tspan><tspan x="1672.5" y="535.0" font-size="80.0">.</tspan><tspan x="1691.6" y="535.4" font-size="80.0" textLength="35.20" lengthAdjust="spacingAndGlyphs">3</tspan></text>
<text><tspan class="it" x="1555.7" y="611.3" font-size="77.7" textLength="43.53" lengthAdjust="spacingAndGlyphs">d</tspan><tspan class="ns" x="1590.9" y="607.4" font-size="66.8" textLength="49.36" lengthAdjust="spacingAndGlyphs">=</tspan><tspan x="1637.5" y="611.3" font-size="79.7" textLength="37.53" lengthAdjust="spacingAndGlyphs">0</tspan><tspan x="1674.8" y="610.9" font-size="80.0">.</tspan><tspan x="1694.9" y="611.3" font-size="80.0" textLength="35.79" lengthAdjust="spacingAndGlyphs">6</tspan></text>
<text><tspan class="it" x="1557.6" y="685.5" font-size="77.7" textLength="43.53" lengthAdjust="spacingAndGlyphs">d</tspan><tspan class="ns" x="1592.8" y="681.6" font-size="66.8" textLength="49.36" lengthAdjust="spacingAndGlyphs">=</tspan><tspan x="1639.4" y="685.5" font-size="79.7" textLength="37.53" lengthAdjust="spacingAndGlyphs">0</tspan><tspan x="1676.7" y="685.1" font-size="80.0">.</tspan><tspan x="1697.3" y="685.5" font-size="80.0" textLength="36.84" lengthAdjust="spacingAndGlyphs">9</tspan></text>
</svg>
</body></html>
